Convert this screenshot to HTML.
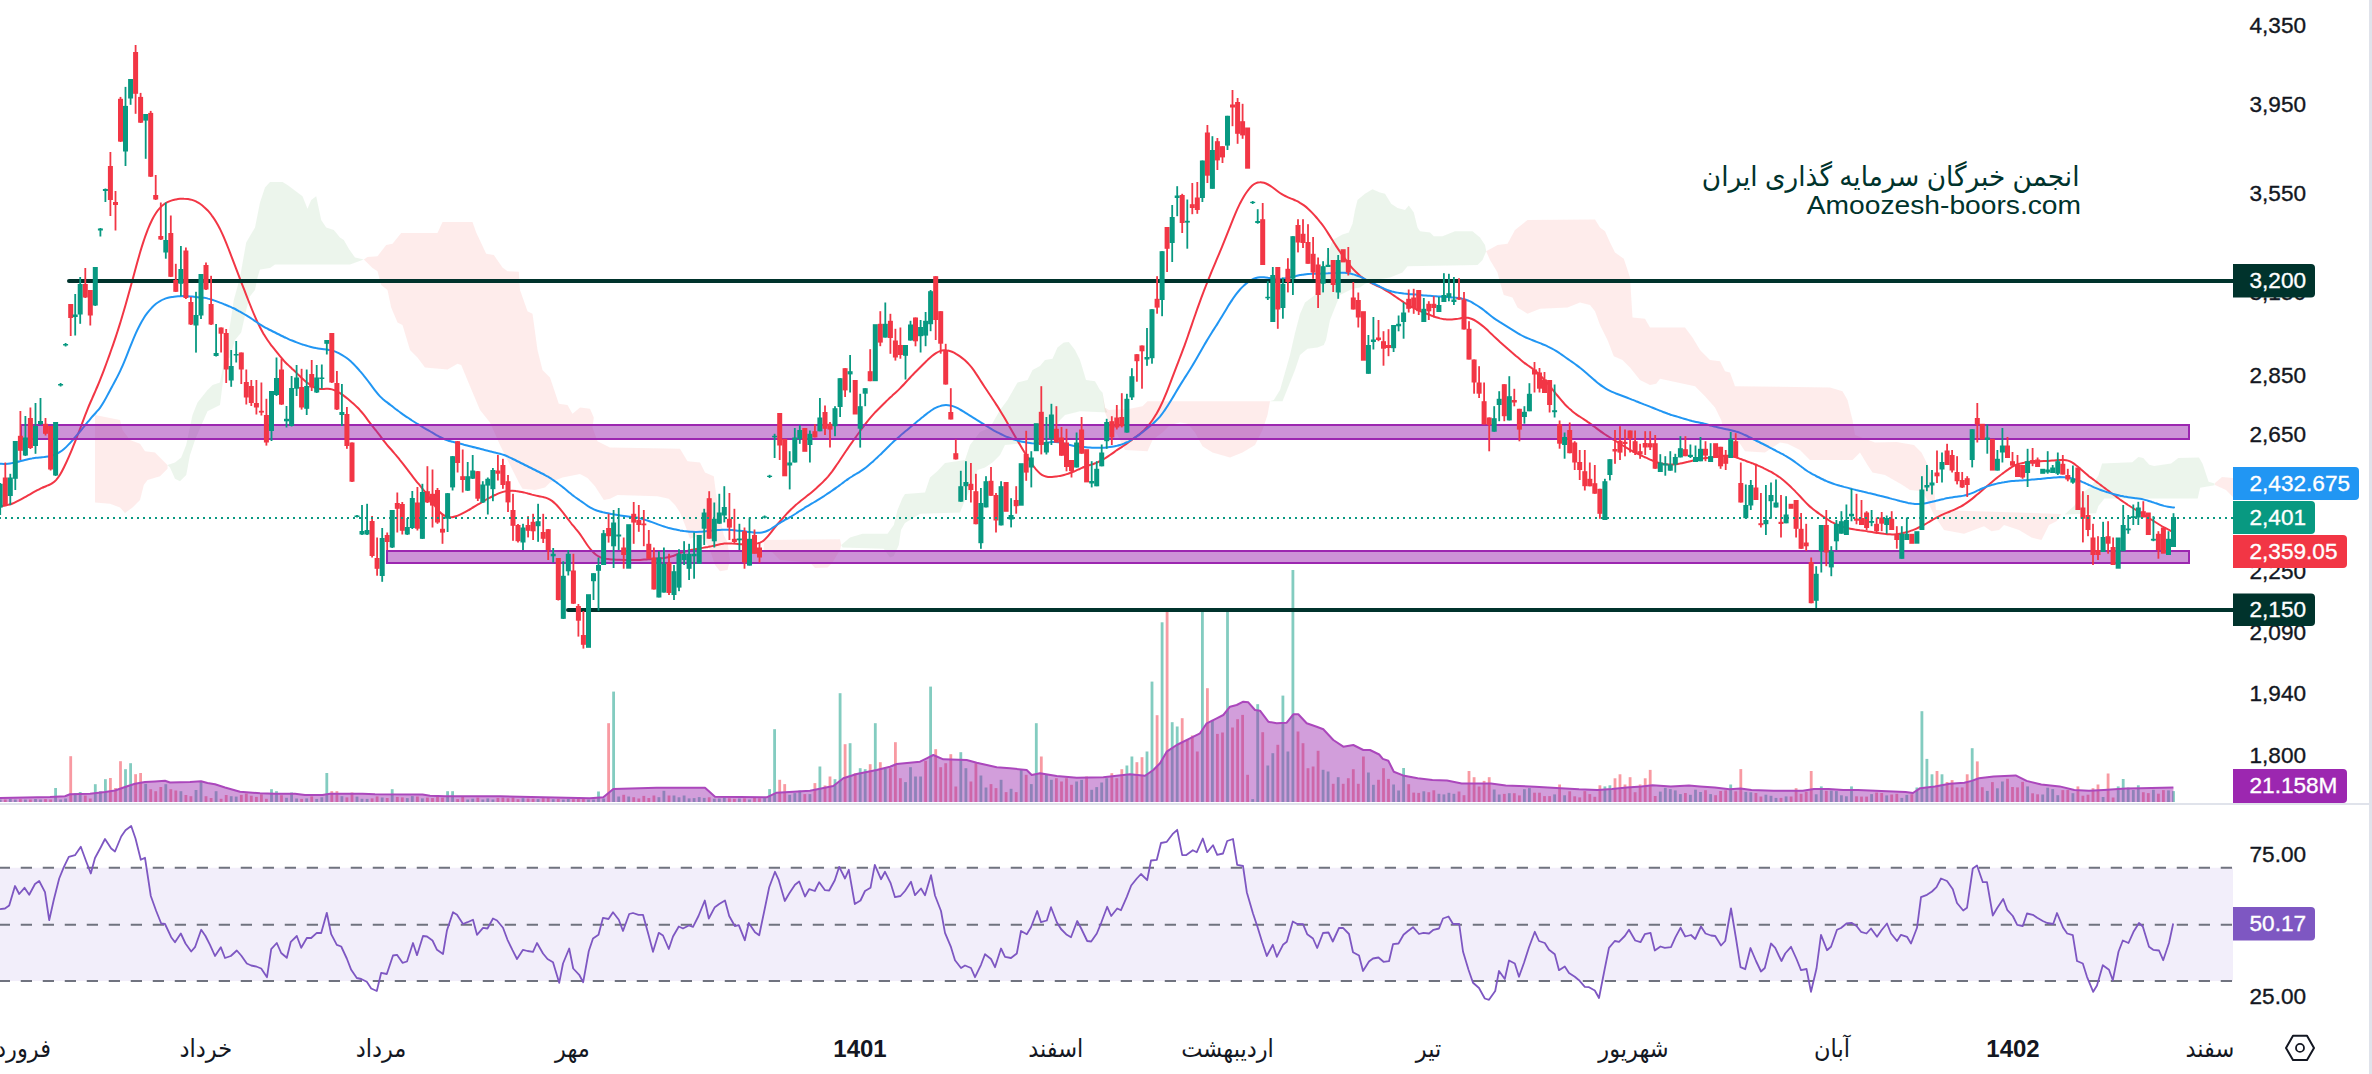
<!DOCTYPE html>
<html lang="en"><head><meta charset="utf-8"><title>chart</title><style>html,body{margin:0;padding:0;background:#fff;overflow:hidden}svg{display:block}</style></head><body>
<svg width="2372" height="1074" viewBox="0 0 2372 1074">
<rect width="2372" height="1074" fill="#fff"/>
<rect x="0" y="867.75" width="2233" height="113.25" fill="#f2eefa"/>
<line x1="-1.25" x2="2233" y1="867.75" y2="867.75" stroke="#70737f" stroke-width="1.8" stroke-dasharray="11.25 10.75"/>
<line x1="-1.25" x2="2233" y1="924.75" y2="924.75" stroke="#70737f" stroke-width="1.8" stroke-dasharray="11.25 10.75"/>
<line x1="-1.25" x2="2233" y1="981" y2="981" stroke="#70737f" stroke-width="1.8" stroke-dasharray="11.25 10.75"/>
<g id="clouds">
<polygon points="95,415 105,417 120,420 122.5,430 130,440 140,443.8 145,451.2 155,452.5 167.5,465 167.5,468.8 160,476.2 147.5,480 143.8,485 140,500 132.5,507.5 125,513 120,507.5 110,503.8 95,502.5" fill="rgba(244,67,54,0.10)"/>
<polygon points="167.5,465 175,462.5 181.2,457.5 186.2,445 192.5,415 197.5,402.5 207.5,390 212.5,385 220,382.5 226.2,350 233.8,300 240,277.5 246.2,242.5 255,227.5 260,202.5 265,187.5 270,182 282.5,182 287.5,185 302.5,196.2 307.5,208.8 311.2,200 316.2,196.2 321.2,220 326.2,227.5 333.8,230 340,237.5 343.8,240 348.8,248.8 355,257.5 363.8,259.5 350,264.5 275,264.5 270,268 260,269.5 257.5,277.5 255,290 250,296.2 246.2,310 241.2,332.5 235,340 230,357.5 225,360 222.5,385 220,405 212.5,408.8 207.5,411.2 202.5,422.5 195,440 190,455 186.2,475 180,481.2 175,478.8 170,467.5" fill="rgba(67,160,71,0.10)"/>
<polygon points="363.8,259.5 367.5,257 377.5,256.2 386.2,245 392.5,243.8 401.2,233 437.5,233 442.5,222 472.5,222 476.2,232.5 486.2,253.8 493.8,255 502.5,267.5 507.5,271.2 518.8,271.8 520,290 527.5,311.2 532.5,313.8 537.5,350 542.5,370 550,377.5 558.8,403.8 567.5,405 572.5,413.8 580,407.5 590,408.8 593.8,417.5 592.5,427.5 597.5,441.2 610,447.5 680,448.8 687.5,461.2 700,462.5 705,472.5 713.8,476.2 716.2,495 720,517.5 723.8,535 727.5,542.5 730,560 727.5,570 720,571.2 715,565 710,550 705,540 697.5,536.2 690,538.8 685,525 680,512.5 675,505 668.8,498.8 657.5,496.2 617.5,495 610,498.8 603.8,500 595,486.2 587.5,478 580,474 562.5,477.5 550,482.5 545,487.5 535,490 522.5,488.8 518.8,482.5 510,465 500,445 490,422.5 480,410 470,386.2 461.2,365 457.5,363.8 447.5,369.5 425,367.5 417.5,357.5 410,350 402.5,325 397.5,322.5 391.2,307.5 387.5,290 381.2,285 377.5,271.2 372.5,268" fill="rgba(244,67,54,0.10)"/>
<polygon points="763.8,540 840,539.2 841.2,545 840,550 832.5,562.5 827.5,567.5 815,568 810,562.5 780,560 772.5,552.5 763.8,550" fill="rgba(244,67,54,0.10)"/>
<polygon points="841.2,545 850,537.5 862.5,533.8 887.5,533.8 893.8,525 897.5,510 902.5,498 905,494 925,492.5 930,477.5 937.5,471 945,463 965,460 970,445 980,432 990,427.5 1000,410 1007.5,400 1017.5,382.5 1027.5,380 1032.5,370 1040,366 1045,360 1052.5,358.8 1057.5,347.5 1063.8,342.5 1068.8,342 1075,350 1080,360 1083.8,372.5 1086,380 1095,381.2 1100,390 1102.5,392.5 1105,407.5 1107.5,412.5 1080,411.2 1065,415 1060,420 1055,430 1047.5,440 1030,442.5 1005,445 1000,455 992.5,462.5 985,467.5 977.5,470 972.5,485 965,500 960,512.5 920,513.8 905,523 901,530 898.8,545 893.8,556 890,557.5 883.8,548.8 842.5,547.5" fill="rgba(67,160,71,0.10)"/>
<polygon points="1102.5,392.5 1105,407.5 1108.8,410 1130,408.8 1142.5,406.2 1147.5,401.2 1270,401.2 1267.5,415 1262.5,430 1255,445 1242.5,452.5 1230,457.5 1212.5,452.5 1202.5,446.2 1195,432.5 1187.5,423.8 1180,422.5 1170,425 1162.5,432.5 1152.5,440 1147.5,451.2 1125,450 1117.5,435 1110,425 1105,412.5" fill="rgba(244,67,54,0.10)"/>
<polygon points="1270,401.2 1273.8,400 1280,390 1285,372.5 1290,355 1295,333 1300,314 1305,302.5 1315,295 1320,280 1327.5,255 1332.5,240 1342.5,234.5 1348.8,232.5 1352.5,223.8 1355,210 1357.5,200 1365,193.8 1372.5,189.2 1380,192.5 1385,193.8 1391.2,203.8 1397.5,208 1405,210 1408.8,205.5 1413.8,212.5 1417.5,227.5 1420,231.2 1430,232.5 1433.8,236.2 1442.5,236.2 1455,231.2 1472.5,231.2 1480,237.5 1485,245 1486.2,251.2 1482.5,260 1477.5,265 1407.5,266.2 1402.5,272.5 1390,277.5 1375,280 1365,283.8 1360,287.5 1352.5,288.8 1340,295 1335,307.5 1330,320 1326,340 1323.8,345 1317.5,347.5 1307.5,348.8 1300,355 1295,370 1290,382.5 1285,395 1282.5,401.2" fill="rgba(67,160,71,0.10)"/>
<polygon points="1486.2,251.2 1497.5,245 1507.5,243.8 1515,230 1527.5,220 1595,219.5 1600,227.5 1605,231.2 1610,242.5 1615,252.5 1623.8,258.8 1630,277.5 1632.5,317.5 1645,318.8 1650,327.5 1685,327.5 1692.5,337.5 1700,350 1710,360 1720,361.2 1725,371.2 1730,372.5 1735,386.2 1830,387.5 1842.5,391.2 1847.5,400 1852.5,420 1855,435 1875,442.5 1896.5,442 1914,445 1921.5,452.5 1929,467.5 1934,485 1936,510 2061.5,514 2056.5,521.2 2049,525 2044,535 2041.5,540 2031.5,537.5 2019,530 2004,525 1999,530 1991.5,531.2 1984,526.2 1974,530 1964,533.8 1944,530 1939,522.5 1934,515 1923,491.2 1910,490 1902.5,485 1885,475 1872.5,472.5 1867.5,465 1860,452.5 1852.5,460 1810,460 1800,450 1787.5,443.8 1780,442.5 1765,452.5 1745,451.2 1740,443.8 1722.5,425 1721.2,420 1715,407.5 1705,396.2 1695,386.2 1660,378.8 1656.2,383.8 1650,385 1640,380 1630,367.5 1622.5,360 1613.8,356.2 1607.5,340 1600,325 1595,311.2 1590,305 1580,302.5 1567.5,307.5 1540,308.8 1527.5,313.8 1517.5,307.5 1512.5,297.5 1503.8,295 1500,282.5 1497.5,272.5 1490,260" fill="rgba(244,67,54,0.10)"/>
<polygon points="2064.5,514.4 2074.2,505.9 2081.5,493.8 2091.2,486.5 2098.4,475.6 2102.1,463.5 2132.3,462.3 2138.4,457 2143.2,458 2149.3,464.7 2154.1,466 2171.1,463.5 2178.3,458 2198.9,457.5 2202.5,463.5 2208.6,481.7 2214.6,483.6 2214.6,485.3 2200.1,487.7 2197.7,498.6 2104.5,498.6 2098.4,505.9 2096,513.2" fill="rgba(67,160,71,0.10)"/>
<polygon points="2215,483 2222,477 2233,478 2233,497 2226,490 2215,485" fill="rgba(244,67,54,0.10)"/>
</g>
<g id="vol">
<rect x="-1.2" y="799.5" width="2.8" height="2.5" fill="rgba(8,153,129,0.5)"/>
<rect x="3.9" y="799.5" width="2.8" height="2.5" fill="rgba(242,54,69,0.5)"/>
<rect x="8.9" y="799" width="2.8" height="3" fill="rgba(8,153,129,0.5)"/>
<rect x="13.9" y="799.5" width="2.8" height="2.5" fill="rgba(8,153,129,0.5)"/>
<rect x="19" y="799.2" width="2.8" height="2.8" fill="rgba(242,54,69,0.5)"/>
<rect x="24" y="799.5" width="2.8" height="2.5" fill="rgba(8,153,129,0.5)"/>
<rect x="29" y="799.5" width="2.8" height="2.5" fill="rgba(242,54,69,0.5)"/>
<rect x="34.1" y="799" width="2.8" height="3" fill="rgba(8,153,129,0.5)"/>
<rect x="39.1" y="799.5" width="2.8" height="2.5" fill="rgba(8,153,129,0.5)"/>
<rect x="44.1" y="799.1" width="2.8" height="2.9" fill="rgba(242,54,69,0.5)"/>
<rect x="49.2" y="799.5" width="2.8" height="2.5" fill="rgba(242,54,69,0.5)"/>
<rect x="54.2" y="788" width="2.8" height="14" fill="rgba(8,153,129,0.5)"/>
<rect x="59.2" y="799.5" width="2.8" height="2.5" fill="rgba(8,153,129,0.5)"/>
<rect x="64.2" y="798.5" width="2.8" height="3.5" fill="rgba(8,153,129,0.5)"/>
<rect x="69.3" y="756.2" width="2.8" height="45.8" fill="rgba(242,54,69,0.5)"/>
<rect x="73.8" y="793.2" width="2.8" height="8.8" fill="rgba(8,153,129,0.5)"/>
<rect x="78.8" y="792" width="2.8" height="10" fill="rgba(8,153,129,0.5)"/>
<rect x="83.9" y="795.5" width="2.8" height="6.5" fill="rgba(242,54,69,0.5)"/>
<rect x="88.9" y="798.5" width="2.8" height="3.5" fill="rgba(242,54,69,0.5)"/>
<rect x="93.9" y="784.2" width="2.8" height="17.8" fill="rgba(8,153,129,0.5)"/>
<rect x="99" y="791.2" width="2.8" height="10.8" fill="rgba(8,153,129,0.5)"/>
<rect x="104" y="779.2" width="2.8" height="22.8" fill="rgba(8,153,129,0.5)"/>
<rect x="109" y="778" width="2.8" height="24" fill="rgba(242,54,69,0.5)"/>
<rect x="114.1" y="788" width="2.8" height="14" fill="rgba(242,54,69,0.5)"/>
<rect x="119.1" y="761.2" width="2.8" height="40.8" fill="rgba(242,54,69,0.5)"/>
<rect x="124.1" y="769.2" width="2.8" height="32.8" fill="rgba(8,153,129,0.5)"/>
<rect x="129.2" y="763.2" width="2.8" height="38.8" fill="rgba(8,153,129,0.5)"/>
<rect x="134.2" y="774.2" width="2.8" height="27.8" fill="rgba(242,54,69,0.5)"/>
<rect x="139.2" y="773" width="2.8" height="29" fill="rgba(242,54,69,0.5)"/>
<rect x="144.3" y="783.8" width="2.8" height="18.2" fill="rgba(8,153,129,0.5)"/>
<rect x="149.3" y="789.2" width="2.8" height="12.8" fill="rgba(242,54,69,0.5)"/>
<rect x="154.3" y="791.2" width="2.8" height="10.8" fill="rgba(242,54,69,0.5)"/>
<rect x="159.4" y="787" width="2.8" height="15" fill="rgba(242,54,69,0.5)"/>
<rect x="164.4" y="784.2" width="2.8" height="17.8" fill="rgba(8,153,129,0.5)"/>
<rect x="169.4" y="789.2" width="2.8" height="12.8" fill="rgba(242,54,69,0.5)"/>
<rect x="174.4" y="790.5" width="2.8" height="11.5" fill="rgba(242,54,69,0.5)"/>
<rect x="179.5" y="791.2" width="2.8" height="10.8" fill="rgba(8,153,129,0.5)"/>
<rect x="184.5" y="795" width="2.8" height="7" fill="rgba(242,54,69,0.5)"/>
<rect x="189.5" y="796.2" width="2.8" height="5.8" fill="rgba(242,54,69,0.5)"/>
<rect x="194.6" y="790" width="2.8" height="12" fill="rgba(8,153,129,0.5)"/>
<rect x="199.6" y="781.2" width="2.8" height="20.8" fill="rgba(8,153,129,0.5)"/>
<rect x="204.6" y="796.2" width="2.8" height="5.8" fill="rgba(242,54,69,0.5)"/>
<rect x="209.7" y="798" width="2.8" height="4" fill="rgba(242,54,69,0.5)"/>
<rect x="214.7" y="791.2" width="2.8" height="10.8" fill="rgba(8,153,129,0.5)"/>
<rect x="219.7" y="798.8" width="2.8" height="3.2" fill="rgba(242,54,69,0.5)"/>
<rect x="224.8" y="795" width="2.8" height="7" fill="rgba(242,54,69,0.5)"/>
<rect x="229.8" y="796.2" width="2.8" height="5.8" fill="rgba(8,153,129,0.5)"/>
<rect x="234.8" y="796.6" width="2.8" height="5.4" fill="rgba(8,153,129,0.5)"/>
<rect x="239.9" y="794.9" width="2.8" height="7.1" fill="rgba(242,54,69,0.5)"/>
<rect x="244.9" y="793.5" width="2.8" height="8.5" fill="rgba(242,54,69,0.5)"/>
<rect x="249.9" y="795.7" width="2.8" height="6.3" fill="rgba(242,54,69,0.5)"/>
<rect x="255" y="796.9" width="2.8" height="5.1" fill="rgba(242,54,69,0.5)"/>
<rect x="260" y="794.3" width="2.8" height="7.7" fill="rgba(242,54,69,0.5)"/>
<rect x="265" y="798.8" width="2.8" height="3.2" fill="rgba(242,54,69,0.5)"/>
<rect x="270.1" y="789.2" width="2.8" height="12.8" fill="rgba(8,153,129,0.5)"/>
<rect x="275.1" y="791.2" width="2.8" height="10.8" fill="rgba(8,153,129,0.5)"/>
<rect x="280.1" y="795.2" width="2.8" height="6.8" fill="rgba(242,54,69,0.5)"/>
<rect x="285.1" y="797.8" width="2.8" height="4.2" fill="rgba(8,153,129,0.5)"/>
<rect x="290.2" y="792.5" width="2.8" height="9.5" fill="rgba(8,153,129,0.5)"/>
<rect x="295.2" y="798.5" width="2.8" height="3.5" fill="rgba(8,153,129,0.5)"/>
<rect x="300.2" y="798.9" width="2.8" height="3.1" fill="rgba(242,54,69,0.5)"/>
<rect x="305.3" y="798.4" width="2.8" height="3.6" fill="rgba(8,153,129,0.5)"/>
<rect x="310.3" y="796.4" width="2.8" height="5.6" fill="rgba(242,54,69,0.5)"/>
<rect x="315.3" y="798.9" width="2.8" height="3.1" fill="rgba(8,153,129,0.5)"/>
<rect x="320.4" y="797.3" width="2.8" height="4.7" fill="rgba(8,153,129,0.5)"/>
<rect x="325.4" y="773" width="2.8" height="29" fill="rgba(8,153,129,0.5)"/>
<rect x="330.4" y="791.2" width="2.8" height="10.8" fill="rgba(242,54,69,0.5)"/>
<rect x="335.5" y="791.2" width="2.8" height="10.8" fill="rgba(242,54,69,0.5)"/>
<rect x="340.5" y="796.2" width="2.8" height="5.8" fill="rgba(8,153,129,0.5)"/>
<rect x="345.5" y="797.4" width="2.8" height="4.6" fill="rgba(242,54,69,0.5)"/>
<rect x="350.6" y="792.5" width="2.8" height="9.5" fill="rgba(242,54,69,0.5)"/>
<rect x="355.6" y="796.6" width="2.8" height="5.4" fill="rgba(8,153,129,0.5)"/>
<rect x="360.6" y="798.8" width="2.8" height="3.2" fill="rgba(8,153,129,0.5)"/>
<rect x="365.7" y="798.9" width="2.8" height="3.1" fill="rgba(8,153,129,0.5)"/>
<rect x="370.7" y="798.4" width="2.8" height="3.6" fill="rgba(242,54,69,0.5)"/>
<rect x="375.7" y="796.4" width="2.8" height="5.6" fill="rgba(242,54,69,0.5)"/>
<rect x="380.8" y="797.5" width="2.8" height="4.5" fill="rgba(8,153,129,0.5)"/>
<rect x="385.8" y="798" width="2.8" height="4" fill="rgba(242,54,69,0.5)"/>
<rect x="390.8" y="789.2" width="2.8" height="12.8" fill="rgba(8,153,129,0.5)"/>
<rect x="395.9" y="796.9" width="2.8" height="5.1" fill="rgba(242,54,69,0.5)"/>
<rect x="400.9" y="797.4" width="2.8" height="4.6" fill="rgba(242,54,69,0.5)"/>
<rect x="405.9" y="798.1" width="2.8" height="3.9" fill="rgba(8,153,129,0.5)"/>
<rect x="410.9" y="796.1" width="2.8" height="5.9" fill="rgba(8,153,129,0.5)"/>
<rect x="416" y="796.5" width="2.8" height="5.5" fill="rgba(242,54,69,0.5)"/>
<rect x="421" y="798.4" width="2.8" height="3.6" fill="rgba(8,153,129,0.5)"/>
<rect x="426" y="797.6" width="2.8" height="4.4" fill="rgba(242,54,69,0.5)"/>
<rect x="431.1" y="798.1" width="2.8" height="3.9" fill="rgba(242,54,69,0.5)"/>
<rect x="436.1" y="797" width="2.8" height="5" fill="rgba(242,54,69,0.5)"/>
<rect x="441.1" y="797.6" width="2.8" height="4.4" fill="rgba(242,54,69,0.5)"/>
<rect x="446.2" y="791.2" width="2.8" height="10.8" fill="rgba(8,153,129,0.5)"/>
<rect x="451.2" y="791.2" width="2.8" height="10.8" fill="rgba(8,153,129,0.5)"/>
<rect x="456.2" y="799.1" width="2.8" height="2.9" fill="rgba(242,54,69,0.5)"/>
<rect x="461.3" y="796.9" width="2.8" height="5.1" fill="rgba(242,54,69,0.5)"/>
<rect x="466.3" y="799.5" width="2.8" height="2.5" fill="rgba(8,153,129,0.5)"/>
<rect x="471.3" y="798.7" width="2.8" height="3.3" fill="rgba(8,153,129,0.5)"/>
<rect x="476.4" y="797.6" width="2.8" height="4.4" fill="rgba(242,54,69,0.5)"/>
<rect x="481.4" y="799.5" width="2.8" height="2.5" fill="rgba(8,153,129,0.5)"/>
<rect x="486.4" y="798.4" width="2.8" height="3.6" fill="rgba(8,153,129,0.5)"/>
<rect x="491.5" y="799.5" width="2.8" height="2.5" fill="rgba(8,153,129,0.5)"/>
<rect x="496.5" y="797.9" width="2.8" height="4.1" fill="rgba(242,54,69,0.5)"/>
<rect x="501.5" y="797.6" width="2.8" height="4.4" fill="rgba(242,54,69,0.5)"/>
<rect x="506.6" y="798.3" width="2.8" height="3.7" fill="rgba(242,54,69,0.5)"/>
<rect x="511.6" y="797.5" width="2.8" height="4.5" fill="rgba(242,54,69,0.5)"/>
<rect x="516.6" y="799.2" width="2.8" height="2.8" fill="rgba(242,54,69,0.5)"/>
<rect x="521.6" y="798.2" width="2.8" height="3.8" fill="rgba(8,153,129,0.5)"/>
<rect x="526.7" y="798.5" width="2.8" height="3.5" fill="rgba(242,54,69,0.5)"/>
<rect x="531.7" y="798.7" width="2.8" height="3.3" fill="rgba(242,54,69,0.5)"/>
<rect x="536.7" y="799.1" width="2.8" height="2.9" fill="rgba(8,153,129,0.5)"/>
<rect x="541.8" y="798.1" width="2.8" height="3.9" fill="rgba(242,54,69,0.5)"/>
<rect x="546.8" y="798" width="2.8" height="4" fill="rgba(242,54,69,0.5)"/>
<rect x="551.8" y="799.2" width="2.8" height="2.8" fill="rgba(8,153,129,0.5)"/>
<rect x="556.9" y="798.8" width="2.8" height="3.2" fill="rgba(242,54,69,0.5)"/>
<rect x="561.9" y="799.5" width="2.8" height="2.5" fill="rgba(8,153,129,0.5)"/>
<rect x="566.9" y="798.9" width="2.8" height="3.1" fill="rgba(8,153,129,0.5)"/>
<rect x="572" y="799.1" width="2.8" height="2.9" fill="rgba(242,54,69,0.5)"/>
<rect x="577" y="798.4" width="2.8" height="3.6" fill="rgba(242,54,69,0.5)"/>
<rect x="582" y="798.9" width="2.8" height="3.1" fill="rgba(242,54,69,0.5)"/>
<rect x="587.1" y="799.5" width="2.8" height="2.5" fill="rgba(8,153,129,0.5)"/>
<rect x="592.1" y="799.5" width="2.8" height="2.5" fill="rgba(8,153,129,0.5)"/>
<rect x="597.1" y="791.5" width="2.8" height="10.5" fill="rgba(8,153,129,0.5)"/>
<rect x="602.2" y="798.5" width="2.8" height="3.5" fill="rgba(8,153,129,0.5)"/>
<rect x="607.2" y="723.2" width="2.8" height="78.8" fill="rgba(242,54,69,0.5)"/>
<rect x="612.2" y="691.6" width="2.8" height="110.4" fill="rgba(8,153,129,0.5)"/>
<rect x="617.3" y="796.5" width="2.8" height="5.5" fill="rgba(8,153,129,0.5)"/>
<rect x="622.3" y="794.8" width="2.8" height="7.2" fill="rgba(242,54,69,0.5)"/>
<rect x="627.3" y="796.5" width="2.8" height="5.5" fill="rgba(8,153,129,0.5)"/>
<rect x="632.3" y="797.2" width="2.8" height="4.8" fill="rgba(242,54,69,0.5)"/>
<rect x="637.4" y="798.5" width="2.8" height="3.5" fill="rgba(242,54,69,0.5)"/>
<rect x="642.4" y="795.9" width="2.8" height="6.1" fill="rgba(242,54,69,0.5)"/>
<rect x="647.4" y="798" width="2.8" height="4" fill="rgba(242,54,69,0.5)"/>
<rect x="652.5" y="795.5" width="2.8" height="6.5" fill="rgba(242,54,69,0.5)"/>
<rect x="657.5" y="797.2" width="2.8" height="4.8" fill="rgba(8,153,129,0.5)"/>
<rect x="662.5" y="790.8" width="2.8" height="11.2" fill="rgba(8,153,129,0.5)"/>
<rect x="667.6" y="795.5" width="2.8" height="6.5" fill="rgba(242,54,69,0.5)"/>
<rect x="672.6" y="795.5" width="2.8" height="6.5" fill="rgba(8,153,129,0.5)"/>
<rect x="677.6" y="797.3" width="2.8" height="4.7" fill="rgba(8,153,129,0.5)"/>
<rect x="682.7" y="795.5" width="2.8" height="6.5" fill="rgba(8,153,129,0.5)"/>
<rect x="687.7" y="798.4" width="2.8" height="3.6" fill="rgba(8,153,129,0.5)"/>
<rect x="692.7" y="798.1" width="2.8" height="3.9" fill="rgba(8,153,129,0.5)"/>
<rect x="697.8" y="797.1" width="2.8" height="4.9" fill="rgba(8,153,129,0.5)"/>
<rect x="702.8" y="797.9" width="2.8" height="4.1" fill="rgba(8,153,129,0.5)"/>
<rect x="707.8" y="797.3" width="2.8" height="4.7" fill="rgba(242,54,69,0.5)"/>
<rect x="712.9" y="798.7" width="2.8" height="3.3" fill="rgba(8,153,129,0.5)"/>
<rect x="717.9" y="798.5" width="2.8" height="3.5" fill="rgba(8,153,129,0.5)"/>
<rect x="722.9" y="797.5" width="2.8" height="4.5" fill="rgba(8,153,129,0.5)"/>
<rect x="728" y="798.3" width="2.8" height="3.7" fill="rgba(242,54,69,0.5)"/>
<rect x="733" y="798.8" width="2.8" height="3.2" fill="rgba(242,54,69,0.5)"/>
<rect x="738" y="798.5" width="2.8" height="3.5" fill="rgba(8,153,129,0.5)"/>
<rect x="743.1" y="798.4" width="2.8" height="3.6" fill="rgba(242,54,69,0.5)"/>
<rect x="748.1" y="799.5" width="2.8" height="2.5" fill="rgba(8,153,129,0.5)"/>
<rect x="753.1" y="797.9" width="2.8" height="4.1" fill="rgba(242,54,69,0.5)"/>
<rect x="758.1" y="798.3" width="2.8" height="3.7" fill="rgba(242,54,69,0.5)"/>
<rect x="763.2" y="798.1" width="2.8" height="3.9" fill="rgba(8,153,129,0.5)"/>
<rect x="768.2" y="789.1" width="2.8" height="12.9" fill="rgba(8,153,129,0.5)"/>
<rect x="773.2" y="729.2" width="2.8" height="72.8" fill="rgba(8,153,129,0.5)"/>
<rect x="778.3" y="779.8" width="2.8" height="22.2" fill="rgba(242,54,69,0.5)"/>
<rect x="783.3" y="784.1" width="2.8" height="17.9" fill="rgba(242,54,69,0.5)"/>
<rect x="788.3" y="794.8" width="2.8" height="7.2" fill="rgba(8,153,129,0.5)"/>
<rect x="793.4" y="793.1" width="2.8" height="8.9" fill="rgba(8,153,129,0.5)"/>
<rect x="798.4" y="790.5" width="2.8" height="11.5" fill="rgba(8,153,129,0.5)"/>
<rect x="803.4" y="794.1" width="2.8" height="7.9" fill="rgba(242,54,69,0.5)"/>
<rect x="808.5" y="794.1" width="2.8" height="7.9" fill="rgba(8,153,129,0.5)"/>
<rect x="813.5" y="783.1" width="2.8" height="18.9" fill="rgba(242,54,69,0.5)"/>
<rect x="818.5" y="766.5" width="2.8" height="35.5" fill="rgba(8,153,129,0.5)"/>
<rect x="823.6" y="785.5" width="2.8" height="16.5" fill="rgba(242,54,69,0.5)"/>
<rect x="828.6" y="776.5" width="2.8" height="25.5" fill="rgba(242,54,69,0.5)"/>
<rect x="833.6" y="779.2" width="2.8" height="22.8" fill="rgba(8,153,129,0.5)"/>
<rect x="838.7" y="693.2" width="2.8" height="108.8" fill="rgba(8,153,129,0.5)"/>
<rect x="843.7" y="744.2" width="2.8" height="57.8" fill="rgba(242,54,69,0.5)"/>
<rect x="848.7" y="743.2" width="2.8" height="58.8" fill="rgba(8,153,129,0.5)"/>
<rect x="853.8" y="773.2" width="2.8" height="28.8" fill="rgba(242,54,69,0.5)"/>
<rect x="858.8" y="768.2" width="2.8" height="33.8" fill="rgba(8,153,129,0.5)"/>
<rect x="863.8" y="769.2" width="2.8" height="32.8" fill="rgba(8,153,129,0.5)"/>
<rect x="868.8" y="764.2" width="2.8" height="37.8" fill="rgba(242,54,69,0.5)"/>
<rect x="873.9" y="723.2" width="2.8" height="78.8" fill="rgba(8,153,129,0.5)"/>
<rect x="878.9" y="762.2" width="2.8" height="39.8" fill="rgba(242,54,69,0.5)"/>
<rect x="883.9" y="768.8" width="2.8" height="33.2" fill="rgba(8,153,129,0.5)"/>
<rect x="889" y="768.2" width="2.8" height="33.8" fill="rgba(242,54,69,0.5)"/>
<rect x="894" y="742.2" width="2.8" height="59.8" fill="rgba(242,54,69,0.5)"/>
<rect x="899" y="778.2" width="2.8" height="23.8" fill="rgba(242,54,69,0.5)"/>
<rect x="904.1" y="782.1" width="2.8" height="19.9" fill="rgba(8,153,129,0.5)"/>
<rect x="909.1" y="767.2" width="2.8" height="34.8" fill="rgba(8,153,129,0.5)"/>
<rect x="914.1" y="776.5" width="2.8" height="25.5" fill="rgba(8,153,129,0.5)"/>
<rect x="919.2" y="776.5" width="2.8" height="25.5" fill="rgba(8,153,129,0.5)"/>
<rect x="924.2" y="760.8" width="2.8" height="41.2" fill="rgba(242,54,69,0.5)"/>
<rect x="929.2" y="686.6" width="2.8" height="115.4" fill="rgba(8,153,129,0.5)"/>
<rect x="934.3" y="749.2" width="2.8" height="52.8" fill="rgba(242,54,69,0.5)"/>
<rect x="939.3" y="767.2" width="2.8" height="34.8" fill="rgba(242,54,69,0.5)"/>
<rect x="944.3" y="763.2" width="2.8" height="38.8" fill="rgba(242,54,69,0.5)"/>
<rect x="949.4" y="754.2" width="2.8" height="47.8" fill="rgba(242,54,69,0.5)"/>
<rect x="954.4" y="786.5" width="2.8" height="15.5" fill="rgba(242,54,69,0.5)"/>
<rect x="959.4" y="752.2" width="2.8" height="49.8" fill="rgba(8,153,129,0.5)"/>
<rect x="964.5" y="768.2" width="2.8" height="33.8" fill="rgba(8,153,129,0.5)"/>
<rect x="969.5" y="781.5" width="2.8" height="20.5" fill="rgba(242,54,69,0.5)"/>
<rect x="974.5" y="763.2" width="2.8" height="38.8" fill="rgba(242,54,69,0.5)"/>
<rect x="979.5" y="775.5" width="2.8" height="26.5" fill="rgba(8,153,129,0.5)"/>
<rect x="984.6" y="787.5" width="2.8" height="14.5" fill="rgba(8,153,129,0.5)"/>
<rect x="989.6" y="784.1" width="2.8" height="17.9" fill="rgba(242,54,69,0.5)"/>
<rect x="994.6" y="788.1" width="2.8" height="13.9" fill="rgba(242,54,69,0.5)"/>
<rect x="999.7" y="779.8" width="2.8" height="22.2" fill="rgba(8,153,129,0.5)"/>
<rect x="1004.7" y="792.1" width="2.8" height="9.9" fill="rgba(242,54,69,0.5)"/>
<rect x="1009.7" y="788.8" width="2.8" height="13.2" fill="rgba(8,153,129,0.5)"/>
<rect x="1014.8" y="792.1" width="2.8" height="9.9" fill="rgba(242,54,69,0.5)"/>
<rect x="1019.8" y="769.8" width="2.8" height="32.2" fill="rgba(8,153,129,0.5)"/>
<rect x="1024.8" y="774.8" width="2.8" height="27.2" fill="rgba(242,54,69,0.5)"/>
<rect x="1029.9" y="784.1" width="2.8" height="17.9" fill="rgba(8,153,129,0.5)"/>
<rect x="1034.9" y="723.2" width="2.8" height="78.8" fill="rgba(8,153,129,0.5)"/>
<rect x="1039.9" y="756.5" width="2.8" height="45.5" fill="rgba(242,54,69,0.5)"/>
<rect x="1045" y="774.2" width="2.8" height="27.8" fill="rgba(8,153,129,0.5)"/>
<rect x="1050" y="779.8" width="2.8" height="22.2" fill="rgba(8,153,129,0.5)"/>
<rect x="1055" y="778.2" width="2.8" height="23.8" fill="rgba(242,54,69,0.5)"/>
<rect x="1060.1" y="781.5" width="2.8" height="20.5" fill="rgba(242,54,69,0.5)"/>
<rect x="1065.1" y="778.2" width="2.8" height="23.8" fill="rgba(242,54,69,0.5)"/>
<rect x="1070.1" y="784.8" width="2.8" height="17.2" fill="rgba(242,54,69,0.5)"/>
<rect x="1075.2" y="781.5" width="2.8" height="20.5" fill="rgba(8,153,129,0.5)"/>
<rect x="1080.2" y="779.8" width="2.8" height="22.2" fill="rgba(8,153,129,0.5)"/>
<rect x="1085.2" y="776.5" width="2.8" height="25.5" fill="rgba(242,54,69,0.5)"/>
<rect x="1090.3" y="789.8" width="2.8" height="12.2" fill="rgba(8,153,129,0.5)"/>
<rect x="1095.3" y="787.1" width="2.8" height="14.9" fill="rgba(8,153,129,0.5)"/>
<rect x="1100.3" y="782.5" width="2.8" height="19.5" fill="rgba(8,153,129,0.5)"/>
<rect x="1105.3" y="778.2" width="2.8" height="23.8" fill="rgba(8,153,129,0.5)"/>
<rect x="1110.4" y="773.2" width="2.8" height="28.8" fill="rgba(242,54,69,0.5)"/>
<rect x="1115.4" y="778.2" width="2.8" height="23.8" fill="rgba(242,54,69,0.5)"/>
<rect x="1120.4" y="769.2" width="2.8" height="32.8" fill="rgba(242,54,69,0.5)"/>
<rect x="1125.5" y="765.5" width="2.8" height="36.5" fill="rgba(8,153,129,0.5)"/>
<rect x="1130.5" y="756.5" width="2.8" height="45.5" fill="rgba(8,153,129,0.5)"/>
<rect x="1135.5" y="762.2" width="2.8" height="39.8" fill="rgba(242,54,69,0.5)"/>
<rect x="1140.6" y="757.2" width="2.8" height="44.8" fill="rgba(242,54,69,0.5)"/>
<rect x="1145.6" y="751.5" width="2.8" height="50.5" fill="rgba(8,153,129,0.5)"/>
<rect x="1150.6" y="681.6" width="2.8" height="120.4" fill="rgba(8,153,129,0.5)"/>
<rect x="1155.7" y="715.2" width="2.8" height="86.8" fill="rgba(242,54,69,0.5)"/>
<rect x="1160.7" y="622.3" width="2.8" height="179.7" fill="rgba(8,153,129,0.5)"/>
<rect x="1165.7" y="609.3" width="2.8" height="192.7" fill="rgba(242,54,69,0.5)"/>
<rect x="1170.8" y="722.2" width="2.8" height="79.8" fill="rgba(8,153,129,0.5)"/>
<rect x="1175.8" y="726.5" width="2.8" height="75.5" fill="rgba(8,153,129,0.5)"/>
<rect x="1180.8" y="718.2" width="2.8" height="83.8" fill="rgba(242,54,69,0.5)"/>
<rect x="1185.9" y="739.9" width="2.8" height="62.1" fill="rgba(242,54,69,0.5)"/>
<rect x="1190.9" y="735.5" width="2.8" height="66.5" fill="rgba(242,54,69,0.5)"/>
<rect x="1195.9" y="751.5" width="2.8" height="50.5" fill="rgba(242,54,69,0.5)"/>
<rect x="1201" y="609.3" width="2.8" height="192.7" fill="rgba(8,153,129,0.5)"/>
<rect x="1206" y="688.2" width="2.8" height="113.8" fill="rgba(242,54,69,0.5)"/>
<rect x="1211" y="719.9" width="2.8" height="82.1" fill="rgba(8,153,129,0.5)"/>
<rect x="1216" y="733.9" width="2.8" height="68.1" fill="rgba(242,54,69,0.5)"/>
<rect x="1221.1" y="732.5" width="2.8" height="69.5" fill="rgba(242,54,69,0.5)"/>
<rect x="1226.1" y="611.6" width="2.8" height="190.4" fill="rgba(8,153,129,0.5)"/>
<rect x="1231.1" y="727.5" width="2.8" height="74.5" fill="rgba(242,54,69,0.5)"/>
<rect x="1236.2" y="719.2" width="2.8" height="82.8" fill="rgba(242,54,69,0.5)"/>
<rect x="1241.2" y="714.9" width="2.8" height="87.1" fill="rgba(242,54,69,0.5)"/>
<rect x="1246.2" y="774.8" width="2.8" height="27.2" fill="rgba(242,54,69,0.5)"/>
<rect x="1251.3" y="799.1" width="2.8" height="2.9" fill="rgba(8,153,129,0.5)"/>
<rect x="1256.3" y="704.2" width="2.8" height="97.8" fill="rgba(8,153,129,0.5)"/>
<rect x="1261.3" y="732.2" width="2.8" height="69.8" fill="rgba(242,54,69,0.5)"/>
<rect x="1266.4" y="765.5" width="2.8" height="36.5" fill="rgba(8,153,129,0.5)"/>
<rect x="1271.4" y="753.2" width="2.8" height="48.8" fill="rgba(8,153,129,0.5)"/>
<rect x="1276.4" y="744.8" width="2.8" height="57.2" fill="rgba(242,54,69,0.5)"/>
<rect x="1281.5" y="695.6" width="2.8" height="106.4" fill="rgba(8,153,129,0.5)"/>
<rect x="1286.5" y="751.5" width="2.8" height="50.5" fill="rgba(8,153,129,0.5)"/>
<rect x="1291.5" y="570" width="2.8" height="232" fill="rgba(8,153,129,0.5)"/>
<rect x="1296.6" y="731.5" width="2.8" height="70.5" fill="rgba(242,54,69,0.5)"/>
<rect x="1301.6" y="743.2" width="2.8" height="58.8" fill="rgba(242,54,69,0.5)"/>
<rect x="1306.6" y="768.2" width="2.8" height="33.8" fill="rgba(242,54,69,0.5)"/>
<rect x="1311.7" y="766.5" width="2.8" height="35.5" fill="rgba(242,54,69,0.5)"/>
<rect x="1316.7" y="750.8" width="2.8" height="51.2" fill="rgba(242,54,69,0.5)"/>
<rect x="1321.7" y="769.8" width="2.8" height="32.2" fill="rgba(8,153,129,0.5)"/>
<rect x="1326.7" y="771.5" width="2.8" height="30.5" fill="rgba(8,153,129,0.5)"/>
<rect x="1331.8" y="783.8" width="2.8" height="18.2" fill="rgba(242,54,69,0.5)"/>
<rect x="1336.8" y="777.2" width="2.8" height="24.8" fill="rgba(8,153,129,0.5)"/>
<rect x="1341.8" y="783.8" width="2.8" height="18.2" fill="rgba(242,54,69,0.5)"/>
<rect x="1346.9" y="778.2" width="2.8" height="23.8" fill="rgba(242,54,69,0.5)"/>
<rect x="1351.9" y="769.2" width="2.8" height="32.8" fill="rgba(242,54,69,0.5)"/>
<rect x="1356.9" y="783.8" width="2.8" height="18.2" fill="rgba(242,54,69,0.5)"/>
<rect x="1362" y="756.5" width="2.8" height="45.5" fill="rgba(242,54,69,0.5)"/>
<rect x="1367" y="772.5" width="2.8" height="29.5" fill="rgba(8,153,129,0.5)"/>
<rect x="1372" y="784.8" width="2.8" height="17.2" fill="rgba(8,153,129,0.5)"/>
<rect x="1377.1" y="779.8" width="2.8" height="22.2" fill="rgba(242,54,69,0.5)"/>
<rect x="1382.1" y="768.2" width="2.8" height="33.8" fill="rgba(242,54,69,0.5)"/>
<rect x="1387.1" y="778.9" width="2.8" height="23.1" fill="rgba(242,54,69,0.5)"/>
<rect x="1392.2" y="784.5" width="2.8" height="17.5" fill="rgba(8,153,129,0.5)"/>
<rect x="1397.2" y="790.5" width="2.8" height="11.5" fill="rgba(8,153,129,0.5)"/>
<rect x="1402.2" y="768" width="2.8" height="34" fill="rgba(8,153,129,0.5)"/>
<rect x="1407.3" y="784.2" width="2.8" height="17.8" fill="rgba(242,54,69,0.5)"/>
<rect x="1412.3" y="792.6" width="2.8" height="9.4" fill="rgba(242,54,69,0.5)"/>
<rect x="1417.3" y="792.9" width="2.8" height="9.1" fill="rgba(242,54,69,0.5)"/>
<rect x="1422.4" y="791.3" width="2.8" height="10.7" fill="rgba(8,153,129,0.5)"/>
<rect x="1427.4" y="792.2" width="2.8" height="9.8" fill="rgba(242,54,69,0.5)"/>
<rect x="1432.4" y="790.3" width="2.8" height="11.7" fill="rgba(242,54,69,0.5)"/>
<rect x="1437.5" y="793.8" width="2.8" height="8.2" fill="rgba(8,153,129,0.5)"/>
<rect x="1442.5" y="794.4" width="2.8" height="7.6" fill="rgba(8,153,129,0.5)"/>
<rect x="1447.5" y="792.8" width="2.8" height="9.2" fill="rgba(8,153,129,0.5)"/>
<rect x="1452.5" y="793.8" width="2.8" height="8.2" fill="rgba(8,153,129,0.5)"/>
<rect x="1457.6" y="791.5" width="2.8" height="10.5" fill="rgba(242,54,69,0.5)"/>
<rect x="1462.6" y="795.2" width="2.8" height="6.8" fill="rgba(242,54,69,0.5)"/>
<rect x="1467.6" y="771" width="2.8" height="31" fill="rgba(242,54,69,0.5)"/>
<rect x="1472.7" y="777.2" width="2.8" height="24.8" fill="rgba(242,54,69,0.5)"/>
<rect x="1477.7" y="786.5" width="2.8" height="15.5" fill="rgba(242,54,69,0.5)"/>
<rect x="1482.7" y="780.9" width="2.8" height="21.1" fill="rgba(242,54,69,0.5)"/>
<rect x="1487.8" y="777.2" width="2.8" height="24.8" fill="rgba(242,54,69,0.5)"/>
<rect x="1492.8" y="789.5" width="2.8" height="12.5" fill="rgba(8,153,129,0.5)"/>
<rect x="1497.8" y="794.5" width="2.8" height="7.5" fill="rgba(8,153,129,0.5)"/>
<rect x="1502.9" y="793.9" width="2.8" height="8.1" fill="rgba(242,54,69,0.5)"/>
<rect x="1507.9" y="793.2" width="2.8" height="8.8" fill="rgba(8,153,129,0.5)"/>
<rect x="1512.9" y="793.2" width="2.8" height="8.8" fill="rgba(242,54,69,0.5)"/>
<rect x="1518" y="795.4" width="2.8" height="6.6" fill="rgba(242,54,69,0.5)"/>
<rect x="1523" y="789.2" width="2.8" height="12.8" fill="rgba(8,153,129,0.5)"/>
<rect x="1528" y="788.1" width="2.8" height="13.9" fill="rgba(8,153,129,0.5)"/>
<rect x="1533.1" y="792.7" width="2.8" height="9.3" fill="rgba(242,54,69,0.5)"/>
<rect x="1538.1" y="792.7" width="2.8" height="9.3" fill="rgba(242,54,69,0.5)"/>
<rect x="1543.1" y="796.1" width="2.8" height="5.9" fill="rgba(242,54,69,0.5)"/>
<rect x="1548.2" y="796.1" width="2.8" height="5.9" fill="rgba(242,54,69,0.5)"/>
<rect x="1553.2" y="794.4" width="2.8" height="7.6" fill="rgba(8,153,129,0.5)"/>
<rect x="1558.2" y="784.5" width="2.8" height="17.5" fill="rgba(242,54,69,0.5)"/>
<rect x="1563.2" y="795.3" width="2.8" height="6.7" fill="rgba(8,153,129,0.5)"/>
<rect x="1568.3" y="791.3" width="2.8" height="10.7" fill="rgba(242,54,69,0.5)"/>
<rect x="1573.3" y="796.3" width="2.8" height="5.7" fill="rgba(242,54,69,0.5)"/>
<rect x="1578.3" y="797.4" width="2.8" height="4.6" fill="rgba(242,54,69,0.5)"/>
<rect x="1583.4" y="791.1" width="2.8" height="10.9" fill="rgba(242,54,69,0.5)"/>
<rect x="1588.4" y="794.1" width="2.8" height="7.9" fill="rgba(242,54,69,0.5)"/>
<rect x="1593.4" y="796.8" width="2.8" height="5.2" fill="rgba(242,54,69,0.5)"/>
<rect x="1598.5" y="785.3" width="2.8" height="16.7" fill="rgba(242,54,69,0.5)"/>
<rect x="1603.5" y="786.4" width="2.8" height="15.6" fill="rgba(8,153,129,0.5)"/>
<rect x="1608.5" y="785.3" width="2.8" height="16.7" fill="rgba(8,153,129,0.5)"/>
<rect x="1613.6" y="778.3" width="2.8" height="23.7" fill="rgba(242,54,69,0.5)"/>
<rect x="1618.6" y="774.3" width="2.8" height="27.7" fill="rgba(242,54,69,0.5)"/>
<rect x="1623.6" y="784.5" width="2.8" height="17.5" fill="rgba(242,54,69,0.5)"/>
<rect x="1628.7" y="777.2" width="2.8" height="24.8" fill="rgba(242,54,69,0.5)"/>
<rect x="1633.7" y="792.2" width="2.8" height="9.8" fill="rgba(242,54,69,0.5)"/>
<rect x="1638.7" y="784.5" width="2.8" height="17.5" fill="rgba(242,54,69,0.5)"/>
<rect x="1643.8" y="778.3" width="2.8" height="23.7" fill="rgba(242,54,69,0.5)"/>
<rect x="1648.8" y="769.9" width="2.8" height="32.1" fill="rgba(242,54,69,0.5)"/>
<rect x="1653.8" y="796" width="2.8" height="6" fill="rgba(242,54,69,0.5)"/>
<rect x="1658.9" y="791.6" width="2.8" height="10.4" fill="rgba(8,153,129,0.5)"/>
<rect x="1663.9" y="787.9" width="2.8" height="14.1" fill="rgba(8,153,129,0.5)"/>
<rect x="1668.9" y="789.1" width="2.8" height="12.9" fill="rgba(8,153,129,0.5)"/>
<rect x="1673.9" y="790.4" width="2.8" height="11.6" fill="rgba(8,153,129,0.5)"/>
<rect x="1679" y="794.1" width="2.8" height="7.9" fill="rgba(8,153,129,0.5)"/>
<rect x="1684" y="793" width="2.8" height="9" fill="rgba(242,54,69,0.5)"/>
<rect x="1689" y="794.8" width="2.8" height="7.2" fill="rgba(8,153,129,0.5)"/>
<rect x="1694.1" y="789.7" width="2.8" height="12.3" fill="rgba(8,153,129,0.5)"/>
<rect x="1699.1" y="792" width="2.8" height="10" fill="rgba(8,153,129,0.5)"/>
<rect x="1704.1" y="790.2" width="2.8" height="11.8" fill="rgba(242,54,69,0.5)"/>
<rect x="1709.2" y="794.1" width="2.8" height="7.9" fill="rgba(8,153,129,0.5)"/>
<rect x="1714.2" y="795.2" width="2.8" height="6.8" fill="rgba(242,54,69,0.5)"/>
<rect x="1719.2" y="791" width="2.8" height="11" fill="rgba(242,54,69,0.5)"/>
<rect x="1724.3" y="790.3" width="2.8" height="11.7" fill="rgba(242,54,69,0.5)"/>
<rect x="1729.3" y="784.5" width="2.8" height="17.5" fill="rgba(8,153,129,0.5)"/>
<rect x="1734.3" y="791.3" width="2.8" height="10.7" fill="rgba(242,54,69,0.5)"/>
<rect x="1739.4" y="769.1" width="2.8" height="32.9" fill="rgba(242,54,69,0.5)"/>
<rect x="1744.4" y="791.9" width="2.8" height="10.1" fill="rgba(8,153,129,0.5)"/>
<rect x="1749.4" y="792.3" width="2.8" height="9.7" fill="rgba(8,153,129,0.5)"/>
<rect x="1754.5" y="793" width="2.8" height="9" fill="rgba(242,54,69,0.5)"/>
<rect x="1759.5" y="796.5" width="2.8" height="5.5" fill="rgba(242,54,69,0.5)"/>
<rect x="1764.5" y="794.7" width="2.8" height="7.3" fill="rgba(8,153,129,0.5)"/>
<rect x="1769.6" y="795.8" width="2.8" height="6.2" fill="rgba(8,153,129,0.5)"/>
<rect x="1774.6" y="797.9" width="2.8" height="4.1" fill="rgba(8,153,129,0.5)"/>
<rect x="1779.6" y="797.9" width="2.8" height="4.1" fill="rgba(242,54,69,0.5)"/>
<rect x="1784.7" y="796.4" width="2.8" height="5.6" fill="rgba(8,153,129,0.5)"/>
<rect x="1789.7" y="796.5" width="2.8" height="5.5" fill="rgba(242,54,69,0.5)"/>
<rect x="1794.7" y="788.2" width="2.8" height="13.8" fill="rgba(242,54,69,0.5)"/>
<rect x="1799.7" y="793.8" width="2.8" height="8.2" fill="rgba(242,54,69,0.5)"/>
<rect x="1804.8" y="791.7" width="2.8" height="10.3" fill="rgba(242,54,69,0.5)"/>
<rect x="1809.8" y="771" width="2.8" height="31" fill="rgba(242,54,69,0.5)"/>
<rect x="1814.8" y="794.3" width="2.8" height="7.7" fill="rgba(8,153,129,0.5)"/>
<rect x="1819.9" y="786.4" width="2.8" height="15.6" fill="rgba(8,153,129,0.5)"/>
<rect x="1824.9" y="790.8" width="2.8" height="11.2" fill="rgba(242,54,69,0.5)"/>
<rect x="1829.9" y="790.6" width="2.8" height="11.4" fill="rgba(8,153,129,0.5)"/>
<rect x="1835" y="791.1" width="2.8" height="10.9" fill="rgba(8,153,129,0.5)"/>
<rect x="1840" y="795.3" width="2.8" height="6.7" fill="rgba(8,153,129,0.5)"/>
<rect x="1845" y="796.3" width="2.8" height="5.7" fill="rgba(8,153,129,0.5)"/>
<rect x="1850.1" y="786.4" width="2.8" height="15.6" fill="rgba(8,153,129,0.5)"/>
<rect x="1855.1" y="796.3" width="2.8" height="5.7" fill="rgba(242,54,69,0.5)"/>
<rect x="1860.1" y="796.6" width="2.8" height="5.4" fill="rgba(242,54,69,0.5)"/>
<rect x="1865.2" y="796.6" width="2.8" height="5.4" fill="rgba(242,54,69,0.5)"/>
<rect x="1870.2" y="794.1" width="2.8" height="7.9" fill="rgba(8,153,129,0.5)"/>
<rect x="1875.2" y="792.5" width="2.8" height="9.5" fill="rgba(242,54,69,0.5)"/>
<rect x="1880.3" y="793" width="2.8" height="9" fill="rgba(242,54,69,0.5)"/>
<rect x="1885.3" y="795.4" width="2.8" height="6.6" fill="rgba(8,153,129,0.5)"/>
<rect x="1890.3" y="794.5" width="2.8" height="7.5" fill="rgba(242,54,69,0.5)"/>
<rect x="1895.4" y="793.8" width="2.8" height="8.2" fill="rgba(242,54,69,0.5)"/>
<rect x="1900.4" y="797.9" width="2.8" height="4.1" fill="rgba(8,153,129,0.5)"/>
<rect x="1905.4" y="794.9" width="2.8" height="7.1" fill="rgba(8,153,129,0.5)"/>
<rect x="1910.4" y="794.2" width="2.8" height="7.8" fill="rgba(242,54,69,0.5)"/>
<rect x="1915.5" y="787.5" width="2.8" height="14.5" fill="rgba(8,153,129,0.5)"/>
<rect x="1920.5" y="711.2" width="2.8" height="90.8" fill="rgba(8,153,129,0.5)"/>
<rect x="1925.5" y="758.9" width="2.8" height="43.1" fill="rgba(8,153,129,0.5)"/>
<rect x="1930.6" y="774.3" width="2.8" height="27.7" fill="rgba(8,153,129,0.5)"/>
<rect x="1935.6" y="771" width="2.8" height="31" fill="rgba(242,54,69,0.5)"/>
<rect x="1940.6" y="774.3" width="2.8" height="27.7" fill="rgba(8,153,129,0.5)"/>
<rect x="1945.7" y="782" width="2.8" height="20" fill="rgba(242,54,69,0.5)"/>
<rect x="1950.7" y="780.1" width="2.8" height="21.9" fill="rgba(242,54,69,0.5)"/>
<rect x="1955.7" y="787.4" width="2.8" height="14.6" fill="rgba(242,54,69,0.5)"/>
<rect x="1960.8" y="787.4" width="2.8" height="14.6" fill="rgba(242,54,69,0.5)"/>
<rect x="1965.8" y="774.3" width="2.8" height="27.7" fill="rgba(242,54,69,0.5)"/>
<rect x="1970.8" y="748.2" width="2.8" height="53.8" fill="rgba(8,153,129,0.5)"/>
<rect x="1975.9" y="761.4" width="2.8" height="40.6" fill="rgba(242,54,69,0.5)"/>
<rect x="1980.9" y="787.2" width="2.8" height="14.8" fill="rgba(242,54,69,0.5)"/>
<rect x="1985.9" y="790.9" width="2.8" height="11.1" fill="rgba(8,153,129,0.5)"/>
<rect x="1991" y="782.1" width="2.8" height="19.9" fill="rgba(242,54,69,0.5)"/>
<rect x="1996" y="788.3" width="2.8" height="13.7" fill="rgba(8,153,129,0.5)"/>
<rect x="2001" y="781.5" width="2.8" height="20.5" fill="rgba(8,153,129,0.5)"/>
<rect x="2006.1" y="778.8" width="2.8" height="23.2" fill="rgba(242,54,69,0.5)"/>
<rect x="2011.1" y="787" width="2.8" height="15" fill="rgba(242,54,69,0.5)"/>
<rect x="2016.1" y="787.4" width="2.8" height="14.6" fill="rgba(242,54,69,0.5)"/>
<rect x="2021.2" y="781.9" width="2.8" height="20.1" fill="rgba(242,54,69,0.5)"/>
<rect x="2026.2" y="786.4" width="2.8" height="15.6" fill="rgba(8,153,129,0.5)"/>
<rect x="2031.2" y="793.3" width="2.8" height="8.7" fill="rgba(242,54,69,0.5)"/>
<rect x="2036.2" y="794.3" width="2.8" height="7.7" fill="rgba(242,54,69,0.5)"/>
<rect x="2041.3" y="794.5" width="2.8" height="7.5" fill="rgba(8,153,129,0.5)"/>
<rect x="2046.3" y="787.7" width="2.8" height="14.3" fill="rgba(8,153,129,0.5)"/>
<rect x="2051.3" y="789.1" width="2.8" height="12.9" fill="rgba(8,153,129,0.5)"/>
<rect x="2056.4" y="795.2" width="2.8" height="6.8" fill="rgba(8,153,129,0.5)"/>
<rect x="2061.4" y="790.1" width="2.8" height="11.9" fill="rgba(242,54,69,0.5)"/>
<rect x="2066.4" y="789.9" width="2.8" height="12.1" fill="rgba(242,54,69,0.5)"/>
<rect x="2071.5" y="793.2" width="2.8" height="8.8" fill="rgba(8,153,129,0.5)"/>
<rect x="2076.5" y="786.4" width="2.8" height="15.6" fill="rgba(242,54,69,0.5)"/>
<rect x="2081.5" y="795.7" width="2.8" height="6.3" fill="rgba(242,54,69,0.5)"/>
<rect x="2086.6" y="794.7" width="2.8" height="7.3" fill="rgba(242,54,69,0.5)"/>
<rect x="2091.6" y="788.2" width="2.8" height="13.8" fill="rgba(242,54,69,0.5)"/>
<rect x="2096.6" y="784.5" width="2.8" height="17.5" fill="rgba(242,54,69,0.5)"/>
<rect x="2101.7" y="797" width="2.8" height="5" fill="rgba(8,153,129,0.5)"/>
<rect x="2106.7" y="773.5" width="2.8" height="28.5" fill="rgba(242,54,69,0.5)"/>
<rect x="2111.7" y="797.5" width="2.8" height="4.5" fill="rgba(242,54,69,0.5)"/>
<rect x="2116.8" y="786.4" width="2.8" height="15.6" fill="rgba(8,153,129,0.5)"/>
<rect x="2121.8" y="779" width="2.8" height="23" fill="rgba(8,153,129,0.5)"/>
<rect x="2126.8" y="787.5" width="2.8" height="14.5" fill="rgba(8,153,129,0.5)"/>
<rect x="2131.9" y="790" width="2.8" height="12" fill="rgba(8,153,129,0.5)"/>
<rect x="2136.9" y="785.3" width="2.8" height="16.7" fill="rgba(8,153,129,0.5)"/>
<rect x="2141.9" y="792.2" width="2.8" height="9.8" fill="rgba(242,54,69,0.5)"/>
<rect x="2146.9" y="793.1" width="2.8" height="8.9" fill="rgba(242,54,69,0.5)"/>
<rect x="2152" y="789.8" width="2.8" height="12.2" fill="rgba(8,153,129,0.5)"/>
<rect x="2157" y="793.7" width="2.8" height="8.3" fill="rgba(242,54,69,0.5)"/>
<rect x="2162" y="790.1" width="2.8" height="11.9" fill="rgba(242,54,69,0.5)"/>
<rect x="2167.1" y="790.4" width="2.8" height="11.6" fill="rgba(8,153,129,0.5)"/>
<rect x="2172.1" y="791.1" width="2.8" height="10.9" fill="rgba(8,153,129,0.5)"/>
</g>
<polygon points="0,802 0,798 25,797.5 50,797 65,796.2 70,794.2 90,793.8 105,792 115,790.5 125,787 135,783.8 145,782 155,781.5 165,780.8 170,782.5 190,782 201,781.2 207.5,783 215,784.2 225,787.5 240,791.8 260,793.2 275,793.8 295,793.8 305,795 322.5,795 330,793.8 362.5,793.8 375,794.2 422.5,794.5 430,795.8 445,796.2 500,796.2 590,798.3 603.3,797.3 613.3,789 656.7,787.7 705,787.7 715,796.7 766.7,797.3 776.7,792.7 810,790.7 833.3,786 843.3,778.3 856.7,774 876.7,770 890,766.7 896.7,764 920,761.7 926.7,758.3 933.3,755 943.3,759.3 966.7,760 976.7,762.7 996.7,767.3 1010,768.3 1026.7,770 1031.7,775 1040,773.3 1056.7,776 1076.7,777.7 1103.3,777.3 1116.7,775.7 1130,774.3 1145,775.7 1153.3,770 1160,763.3 1166.7,751.7 1176.7,745 1190,738.3 1200,733.3 1206.7,723.3 1216.7,718.3 1223.3,715 1230,706.7 1236.7,705 1243.3,701.7 1248.3,702.3 1255,710 1260,710.7 1268.3,721.7 1276.7,723.3 1286.7,722.7 1293.3,714.3 1298.3,714.3 1306.7,723.3 1316.7,726.7 1323.3,729.3 1333.3,740 1343.3,746.7 1353.3,745 1363.3,750 1370,750 1379.2,754.5 1382.8,758.9 1388.3,760.7 1393.8,771.7 1403,775.4 1417.7,778.3 1432.4,780.1 1447,780.5 1461.7,783.4 1491,783.4 1505.7,785.6 1535,786.7 1560.8,788.2 1579,789.3 1597.4,790 1612,789 1626.8,787.5 1641.5,786.4 1652.5,785.3 1670.8,786.4 1689,785.6 1700,786.4 1714.8,787.5 1729.5,789.3 1740.5,788.6 1751.5,790 1773.5,790.8 1802.8,790.8 1813.9,789 1828.5,789 1843.2,790 1857.9,790 1887.2,791.2 1905.6,791.9 1912.9,793 1920.2,788.2 1934.9,786.4 1949.6,783.8 1964.3,782.7 1971.6,780.9 1978.9,778.3 1993.6,776.5 2015.6,775.4 2026.6,780.9 2041.3,784.5 2059.6,786.4 2074.3,790 2089,790.8 2103.7,790 2125.7,788.6 2140.4,788.2 2173.4,787.5 2173.4,802" fill="rgba(156,39,176,0.45)"/>
<polyline points="0,798 25,797.5 50,797 65,796.2 70,794.2 90,793.8 105,792 115,790.5 125,787 135,783.8 145,782 155,781.5 165,780.8 170,782.5 190,782 201,781.2 207.5,783 215,784.2 225,787.5 240,791.8 260,793.2 275,793.8 295,793.8 305,795 322.5,795 330,793.8 362.5,793.8 375,794.2 422.5,794.5 430,795.8 445,796.2 500,796.2 590,798.3 603.3,797.3 613.3,789 656.7,787.7 705,787.7 715,796.7 766.7,797.3 776.7,792.7 810,790.7 833.3,786 843.3,778.3 856.7,774 876.7,770 890,766.7 896.7,764 920,761.7 926.7,758.3 933.3,755 943.3,759.3 966.7,760 976.7,762.7 996.7,767.3 1010,768.3 1026.7,770 1031.7,775 1040,773.3 1056.7,776 1076.7,777.7 1103.3,777.3 1116.7,775.7 1130,774.3 1145,775.7 1153.3,770 1160,763.3 1166.7,751.7 1176.7,745 1190,738.3 1200,733.3 1206.7,723.3 1216.7,718.3 1223.3,715 1230,706.7 1236.7,705 1243.3,701.7 1248.3,702.3 1255,710 1260,710.7 1268.3,721.7 1276.7,723.3 1286.7,722.7 1293.3,714.3 1298.3,714.3 1306.7,723.3 1316.7,726.7 1323.3,729.3 1333.3,740 1343.3,746.7 1353.3,745 1363.3,750 1370,750 1379.2,754.5 1382.8,758.9 1388.3,760.7 1393.8,771.7 1403,775.4 1417.7,778.3 1432.4,780.1 1447,780.5 1461.7,783.4 1491,783.4 1505.7,785.6 1535,786.7 1560.8,788.2 1579,789.3 1597.4,790 1612,789 1626.8,787.5 1641.5,786.4 1652.5,785.3 1670.8,786.4 1689,785.6 1700,786.4 1714.8,787.5 1729.5,789.3 1740.5,788.6 1751.5,790 1773.5,790.8 1802.8,790.8 1813.9,789 1828.5,789 1843.2,790 1857.9,790 1887.2,791.2 1905.6,791.9 1912.9,793 1920.2,788.2 1934.9,786.4 1949.6,783.8 1964.3,782.7 1971.6,780.9 1978.9,778.3 1993.6,776.5 2015.6,775.4 2026.6,780.9 2041.3,784.5 2059.6,786.4 2074.3,790 2089,790.8 2103.7,790 2125.7,788.6 2140.4,788.2 2173.4,787.5" fill="none" stroke="#ab47bc" stroke-width="2" stroke-linejoin="round"/>
<path d="M0 506.2C0.7 506.2 2.7 505.9 4 505.7C5.3 505.5 6.7 505.3 8 504.9C9.3 504.6 10.7 504.2 12 503.7C13.3 503.2 14.7 502.6 16 501.9C17.3 501.3 18.7 500.6 20 499.9C21.3 499.2 22.7 498.5 24 497.7C25.3 497 26.7 496.2 28 495.4C29.3 494.7 30.7 493.9 32 493.1C33.3 492.3 34.7 491.6 36 490.9C37.3 490.2 38.7 489.5 40 488.8C41.3 488.2 42.7 487.6 44 487C45.3 486.4 46.7 486 48 485.4C49.3 484.8 50.7 484.3 52 483.4C53.3 482.5 54.7 481.5 56 480.1C57.3 478.6 58.7 476.8 60 474.7C61.3 472.6 62.7 470 64 467.3C65.3 464.6 66.7 461.6 68 458.6C69.3 455.6 70.7 452.5 72 449.3C73.3 446.1 74.7 442.8 76 439.4C77.3 436 78.7 432.5 80 429C81.3 425.5 82.7 421.8 84 418.3C85.3 414.8 86.7 411.4 88 408.1C89.3 404.8 90.7 401.8 92 398.8C93.3 395.7 94.7 392.8 96 389.7C97.3 386.6 98.7 383.4 100 380.1C101.3 376.8 102.7 373.3 104 369.8C105.3 366.3 106.7 362.6 108 359C109.3 355.3 110.7 351.6 112 347.8C113.3 344 114.7 340.1 116 336.1C117.3 332 118.7 327.9 120 323.6C121.3 319.3 122.7 314.8 124 310.3C125.3 305.7 126.7 301.1 128 296.3C129.3 291.6 130.7 286.6 132 281.8C133.3 276.9 134.7 271.8 136 267C137.3 262.2 138.7 257.3 140 252.8C141.3 248.3 142.7 244 144 240C145.3 236 146.7 232.4 148 229C149.3 225.7 150.7 222.7 152 220C153.3 217.4 154.7 215 156 213C157.3 211 158.7 209.3 160 207.9C161.3 206.4 162.7 205.3 164 204.3C165.3 203.3 166.7 202.6 168 201.9C169.3 201.3 170.7 200.8 172 200.4C173.3 200 174.7 199.7 176 199.4C177.3 199.2 178.7 199 180 198.8C181.3 198.7 182.7 198.6 184 198.7C185.3 198.7 186.7 198.8 188 199C189.3 199.2 190.7 199.5 192 199.9C193.3 200.3 194.7 200.8 196 201.4C197.3 202.1 198.7 202.8 200 203.7C201.3 204.6 202.7 205.7 204 206.9C205.3 208 206.7 209.4 208 210.8C209.3 212.3 210.7 213.9 212 215.8C213.3 217.6 214.7 219.5 216 221.8C217.3 224 218.7 226.4 220 229C221.3 231.7 222.7 234.6 224 237.7C225.3 240.8 226.7 244.1 228 247.5C229.3 250.9 230.7 254.4 232 257.9C233.3 261.4 234.7 264.9 236 268.4C237.3 271.9 238.7 275.4 240 278.9C241.3 282.3 242.7 285.8 244 289.2C245.3 292.6 246.7 296.1 248 299.5C249.3 302.8 250.7 306.2 252 309.5C253.3 312.7 254.7 315.9 256 318.8C257.3 321.8 258.7 324.6 260 327.3C261.3 329.9 262.7 332.3 264 334.6C265.3 336.9 266.7 338.9 268 340.8C269.3 342.8 270.7 344.5 272 346.2C273.3 347.9 274.7 349.6 276 351.2C277.3 352.9 278.7 354.6 280 356.2C281.3 357.8 282.7 359.3 284 360.8C285.3 362.3 286.7 363.6 288 364.9C289.3 366.2 290.7 367.4 292 368.7C293.3 369.9 294.7 371.1 296 372.4C297.3 373.7 298.7 375 300 376.2C301.3 377.5 302.7 378.8 304 380C305.3 381.1 306.7 382.3 308 383.3C309.3 384.3 310.7 385.3 312 386.1C313.3 386.9 314.7 387.6 316 388.1C317.3 388.5 318.7 388.8 320 388.9C321.3 389 322.7 388.9 324 388.9C325.3 388.9 326.7 388.8 328 388.8C329.3 388.9 330.7 389.1 332 389.4C333.3 389.8 334.7 390.3 336 390.9C337.3 391.5 338.7 392.3 340 393.1C341.3 393.9 342.7 394.9 344 395.9C345.3 396.8 346.7 397.9 348 399C349.3 400.1 350.7 401.3 352 402.5C353.3 403.6 354.7 404.9 356 406.1C357.3 407.4 358.7 408.7 360 410.2C361.3 411.6 362.7 413.2 364 414.9C365.3 416.6 366.7 418.5 368 420.3C369.3 422.1 370.7 423.9 372 425.6C373.3 427.3 374.7 428.9 376 430.5C377.3 432.2 378.7 434 380 435.7C381.3 437.5 382.7 439.4 384 441.1C385.3 442.8 386.7 444.4 388 446C389.3 447.5 390.7 449 392 450.5C393.3 452.1 394.7 453.6 396 455.2C397.3 456.8 398.7 458.4 400 460.1C401.3 461.7 402.7 463.4 404 465.1C405.3 466.9 406.7 468.7 408 470.4C409.3 472.2 410.7 474 412 475.7C413.3 477.5 414.7 479.2 416 480.8C417.3 482.5 418.7 484 420 485.6C421.3 487.3 422.7 488.9 424 490.6C425.3 492.3 426.7 494.1 428 496C429.3 497.8 430.7 499.9 432 501.8C433.3 503.7 434.7 505.8 436 507.5C437.3 509.2 438.7 510.9 440 512.2C441.3 513.6 442.7 514.6 444 515.4C445.3 516.2 446.7 516.7 448 517C449.3 517.3 450.7 517.3 452 517.2C453.3 517 454.7 516.6 456 516.2C457.3 515.8 458.7 515.2 460 514.6C461.3 514 462.7 513.3 464 512.6C465.3 511.9 466.7 511.2 468 510.4C469.3 509.7 470.7 508.8 472 508C473.3 507.3 474.7 506.4 476 505.6C477.3 504.9 478.7 504 480 503.3C481.3 502.5 482.7 501.7 484 500.9C485.3 500.1 486.7 499.4 488 498.6C489.3 497.9 490.7 497.2 492 496.5C493.3 495.8 494.7 495.2 496 494.6C497.3 494 498.7 493.4 500 492.9C501.3 492.4 502.7 491.9 504 491.6C505.3 491.3 506.7 491 508 490.9C509.3 490.7 510.7 490.7 512 490.7C513.3 490.7 514.7 490.9 516 491.1C517.3 491.2 518.7 491.5 520 491.7C521.3 491.9 522.7 492.2 524 492.5C525.3 492.8 526.7 493.1 528 493.5C529.3 493.8 530.7 494.2 532 494.6C533.3 494.9 534.7 495.3 536 495.6C537.3 495.9 538.7 496.2 540 496.5C541.3 496.7 542.7 496.9 544 497.3C545.3 497.6 546.7 498 548 498.6C549.3 499.2 550.7 500 552 500.9C553.3 501.9 554.7 503.1 556 504.4C557.3 505.8 558.7 507.3 560 508.9C561.3 510.5 562.7 512.2 564 513.9C565.3 515.6 566.7 517.4 568 519.2C569.3 520.9 570.7 522.6 572 524.3C573.3 525.9 574.7 527.4 576 529.1C577.3 530.7 578.7 532.3 580 534.1C581.3 536 582.7 538 584 540C585.3 542 586.7 544.2 588 546C589.3 547.8 590.7 549.5 592 551C593.3 552.4 594.7 553.7 596 554.7C597.3 555.7 598.7 556.5 600 557.1C601.3 557.7 602.7 558.1 604 558.4C605.3 558.8 606.7 558.9 608 559.1C609.3 559.3 610.7 559.4 612 559.5C613.3 559.6 614.7 559.6 616 559.7C617.3 559.7 618.7 559.8 620 559.8C621.3 559.9 622.7 559.9 624 559.9C625.3 560 626.7 560 628 560C629.3 560 630.7 560 632 560C633.3 560 634.7 560 636 560C637.3 560 638.7 559.9 640 559.9C641.3 559.8 642.7 559.7 644 559.6C645.3 559.6 646.7 559.4 648 559.3C649.3 559.2 650.7 559.1 652 559C653.3 558.9 654.7 558.8 656 558.7C657.3 558.6 658.7 558.5 660 558.3C661.3 558.2 662.7 558.1 664 558C665.3 557.8 666.7 557.6 668 557.3C669.3 557.1 670.7 556.7 672 556.3C673.3 555.9 674.7 555.3 676 554.8C677.3 554.3 678.7 553.7 680 553.2C681.3 552.7 682.7 552.3 684 551.9C685.3 551.4 686.7 551.1 688 550.7C689.3 550.4 690.7 550.1 692 549.8C693.3 549.5 694.7 549.3 696 549C697.3 548.8 698.7 548.6 700 548.3C701.3 548.1 702.7 547.9 704 547.6C705.3 547.4 706.7 547.1 708 546.9C709.3 546.6 710.7 546.4 712 546.1C713.3 545.8 714.7 545.5 716 545.2C717.3 544.9 718.7 544.6 720 544.3C721.3 544 722.7 543.8 724 543.6C725.3 543.5 726.7 543.4 728 543.4C729.3 543.4 730.7 543.5 732 543.6C733.3 543.6 734.7 543.7 736 543.8C737.3 543.9 738.7 544.1 740 544.2C741.3 544.3 742.7 544.4 744 544.5C745.3 544.5 746.7 544.6 748 544.6C749.3 544.6 750.7 544.5 752 544.4C753.3 544.2 754.7 544 756 543.7C757.3 543.4 758.7 543.1 760 542.6C761.3 542 762.7 541.3 764 540.2C765.3 539.1 766.7 537.7 768 536.2C769.3 534.7 770.7 532.8 772 531.1C773.3 529.4 774.7 527.7 776 526.1C777.3 524.4 778.7 522.9 780 521.3C781.3 519.8 782.7 518.3 784 516.8C785.3 515.3 786.7 513.9 788 512.5C789.3 511.1 790.7 509.7 792 508.5C793.3 507.2 794.7 506 796 504.8C797.3 503.6 798.7 502.5 800 501.4C801.3 500.3 802.7 499.3 804 498.3C805.3 497.2 806.7 496.2 808 495.1C809.3 494.1 810.7 493 812 491.9C813.3 490.8 814.7 489.6 816 488.5C817.3 487.3 818.7 486.1 820 484.8C821.3 483.6 822.7 482.3 824 480.9C825.3 479.5 826.7 478.1 828 476.6C829.3 475 830.7 473.3 832 471.6C833.3 469.8 834.7 467.9 836 465.9C837.3 464 838.7 462 840 460C841.3 458 842.7 456 844 454C845.3 452 846.7 450.1 848 448.1C849.3 446.2 850.7 444.2 852 442.4C853.3 440.5 854.7 438.6 856 436.8C857.3 434.9 858.7 433.1 860 431.2C861.3 429.4 862.7 427.6 864 425.8C865.3 424 866.7 422.2 868 420.6C869.3 418.9 870.7 417.3 872 415.8C873.3 414.3 874.7 412.9 876 411.5C877.3 410.2 878.7 408.8 880 407.5C881.3 406.2 882.7 404.8 884 403.5C885.3 402.2 886.7 400.9 888 399.6C889.3 398.3 890.7 397.1 892 395.9C893.3 394.6 894.7 393.5 896 392.2C897.3 391 898.7 389.7 900 388.4C901.3 387 902.7 385.6 904 384.2C905.3 382.8 906.7 381.3 908 379.9C909.3 378.4 910.7 377 912 375.6C913.3 374.2 914.7 372.9 916 371.5C917.3 370.2 918.7 368.8 920 367.5C921.3 366.2 922.7 364.8 924 363.5C925.3 362.2 926.7 360.9 928 359.6C929.3 358.4 930.7 357.2 932 356.1C933.3 355 934.7 353.9 936 353.1C937.3 352.3 938.7 351.6 940 351.1C941.3 350.6 942.7 350.4 944 350.3C945.3 350.2 946.7 350.3 948 350.6C949.3 350.8 950.7 351.3 952 351.8C953.3 352.3 954.7 353 956 353.8C957.3 354.5 958.7 355.4 960 356.4C961.3 357.3 962.7 358.4 964 359.5C965.3 360.7 966.7 361.9 968 363.3C969.3 364.7 970.7 366.2 972 367.9C973.3 369.6 974.7 371.6 976 373.6C977.3 375.5 978.7 377.7 980 379.8C981.3 381.8 982.7 383.9 984 386C985.3 388 986.7 390 988 392C989.3 394 990.7 396 992 398C993.3 400 994.7 402 996 404.1C997.3 406.1 998.7 408.2 1000 410.4C1001.3 412.5 1002.7 414.8 1004 417.1C1005.3 419.3 1006.7 421.7 1008 424C1009.3 426.3 1010.7 428.7 1012 431C1013.3 433.3 1014.7 435.7 1016 438C1017.3 440.3 1018.7 442.6 1020 444.8C1021.3 447.1 1022.7 449.3 1024 451.5C1025.3 453.6 1026.7 455.8 1028 457.9C1029.3 460 1030.7 462.1 1032 464C1033.3 465.9 1034.7 467.8 1036 469.4C1037.3 470.9 1038.7 472.3 1040 473.4C1041.3 474.5 1042.7 475.3 1044 475.9C1045.3 476.5 1046.7 476.8 1048 476.9C1049.3 477.1 1050.7 477.1 1052 477C1053.3 477 1054.7 476.8 1056 476.6C1057.3 476.4 1058.7 476.2 1060 475.9C1061.3 475.7 1062.7 475.4 1064 475C1065.3 474.6 1066.7 474.2 1068 473.8C1069.3 473.3 1070.7 472.8 1072 472.3C1073.3 471.8 1074.7 471.2 1076 470.6C1077.3 470 1078.7 469.4 1080 468.8C1081.3 468.2 1082.7 467.6 1084 467C1085.3 466.5 1086.7 466.1 1088 465.6C1089.3 465.2 1090.7 464.8 1092 464.4C1093.3 463.9 1094.7 463.5 1096 463C1097.3 462.4 1098.7 461.8 1100 461.2C1101.3 460.5 1102.7 459.8 1104 459C1105.3 458.2 1106.7 457.3 1108 456.4C1109.3 455.5 1110.7 454.5 1112 453.6C1113.3 452.6 1114.7 451.7 1116 450.8C1117.3 449.9 1118.7 449 1120 448.1C1121.3 447.2 1122.7 446.4 1124 445.5C1125.3 444.6 1126.7 443.6 1128 442.7C1129.3 441.7 1130.7 440.7 1132 439.7C1133.3 438.8 1134.7 437.8 1136 436.8C1137.3 435.7 1138.7 434.8 1140 433.7C1141.3 432.6 1142.7 431.4 1144 430.2C1145.3 428.9 1146.7 427.5 1148 425.9C1149.3 424.4 1150.7 422.7 1152 420.8C1153.3 418.9 1154.7 416.9 1156 414.6C1157.3 412.3 1158.7 409.9 1160 407.2C1161.3 404.6 1162.7 401.7 1164 398.6C1165.3 395.5 1166.7 392.2 1168 388.8C1169.3 385.5 1170.7 381.9 1172 378.3C1173.3 374.8 1174.7 371.3 1176 367.8C1177.3 364.3 1178.7 360.9 1180 357.5C1181.3 354 1182.7 350.5 1184 346.9C1185.3 343.3 1186.7 339.5 1188 335.7C1189.3 331.9 1190.7 328 1192 324.1C1193.3 320.2 1194.7 316.3 1196 312.5C1197.3 308.8 1198.7 305 1200 301.4C1201.3 297.7 1202.7 294.1 1204 290.7C1205.3 287.2 1206.7 283.8 1208 280.5C1209.3 277.2 1210.7 274 1212 270.7C1213.3 267.5 1214.7 264.3 1216 261.2C1217.3 258 1218.7 254.9 1220 251.7C1221.3 248.4 1222.7 245.2 1224 241.9C1225.3 238.6 1226.7 235.2 1228 231.9C1229.3 228.5 1230.7 225.1 1232 221.8C1233.3 218.5 1234.7 215.2 1236 212.1C1237.3 209.1 1238.7 206.2 1240 203.5C1241.3 200.9 1242.7 198.4 1244 196.2C1245.3 194 1246.7 192.1 1248 190.3C1249.3 188.6 1250.7 187.1 1252 185.8C1253.3 184.6 1254.7 183.7 1256 183.1C1257.3 182.4 1258.7 182.2 1260 182.2C1261.3 182.1 1262.7 182.4 1264 182.8C1265.3 183.2 1266.7 183.8 1268 184.5C1269.3 185.2 1270.7 186.1 1272 187C1273.3 187.9 1274.7 189 1276 190C1277.3 191 1278.7 192.1 1280 193C1281.3 193.9 1282.7 194.7 1284 195.4C1285.3 196.1 1286.7 196.7 1288 197.3C1289.3 197.9 1290.7 198.4 1292 198.9C1293.3 199.5 1294.7 200 1296 200.7C1297.3 201.3 1298.7 202 1300 202.8C1301.3 203.5 1302.7 204.4 1304 205.4C1305.3 206.4 1306.7 207.5 1308 208.7C1309.3 209.9 1310.7 211.2 1312 212.6C1313.3 214 1314.7 215.5 1316 217C1317.3 218.6 1318.7 220.1 1320 221.8C1321.3 223.4 1322.7 225.1 1324 227C1325.3 228.9 1326.7 231 1328 233.1C1329.3 235.1 1330.7 237.4 1332 239.6C1333.3 241.7 1334.7 243.8 1336 245.9C1337.3 247.9 1338.7 249.8 1340 251.7C1341.3 253.6 1342.7 255.5 1344 257.4C1345.3 259.2 1346.7 261.1 1348 262.8C1349.3 264.6 1350.7 266.3 1352 267.8C1353.3 269.3 1354.7 270.7 1356 272C1357.3 273.3 1358.7 274.5 1360 275.7C1361.3 276.8 1362.7 277.8 1364 278.8C1365.3 279.7 1366.7 280.5 1368 281.3C1369.3 282.1 1370.7 282.7 1372 283.4C1373.3 284.1 1374.7 284.6 1376 285.3C1377.3 285.9 1378.7 286.5 1380 287.2C1381.3 287.8 1382.7 288.5 1384 289.3C1385.3 290 1386.7 290.8 1388 291.6C1389.3 292.4 1390.7 293.3 1392 294.2C1393.3 295.1 1394.7 296.1 1396 297C1397.3 297.9 1398.7 298.9 1400 299.8C1401.3 300.7 1402.7 301.6 1404 302.5C1405.3 303.3 1406.7 304.1 1408 304.9C1409.3 305.7 1410.7 306.4 1412 307.1C1413.3 307.9 1414.7 308.5 1416 309.2C1417.3 309.9 1418.7 310.5 1420 311.1C1421.3 311.6 1422.7 312.2 1424 312.7C1425.3 313.2 1426.7 313.7 1428 314.2C1429.3 314.8 1430.7 315.3 1432 315.8C1433.3 316.2 1434.7 316.8 1436 317.2C1437.3 317.6 1438.7 318 1440 318.4C1441.3 318.7 1442.7 319 1444 319.2C1445.3 319.3 1446.7 319.5 1448 319.5C1449.3 319.6 1450.7 319.6 1452 319.5C1453.3 319.5 1454.7 319.3 1456 319.1C1457.3 319 1458.7 318.7 1460 318.4C1461.3 318.2 1462.7 317.8 1464 317.7C1465.3 317.6 1466.7 317.6 1468 317.8C1469.3 318 1470.7 318.5 1472 319C1473.3 319.6 1474.7 320.3 1476 321.1C1477.3 321.9 1478.7 322.9 1480 323.9C1481.3 324.8 1482.7 325.9 1484 327C1485.3 328.2 1486.7 329.4 1488 330.6C1489.3 331.9 1490.7 333.2 1492 334.4C1493.3 335.7 1494.7 337 1496 338.2C1497.3 339.5 1498.7 340.7 1500 341.9C1501.3 343 1502.7 344.2 1504 345.4C1505.3 346.5 1506.7 347.7 1508 348.9C1509.3 350 1510.7 351.2 1512 352.4C1513.3 353.5 1514.7 354.7 1516 355.9C1517.3 357 1518.7 358.2 1520 359.3C1521.3 360.4 1522.7 361.5 1524 362.6C1525.3 363.6 1526.7 364.6 1528 365.5C1529.3 366.5 1530.7 367.3 1532 368.3C1533.3 369.3 1534.7 370.3 1536 371.4C1537.3 372.6 1538.7 373.8 1540 375.1C1541.3 376.4 1542.7 377.8 1544 379.3C1545.3 380.8 1546.7 382.3 1548 383.9C1549.3 385.5 1550.7 387.1 1552 388.8C1553.3 390.4 1554.7 392.1 1556 393.8C1557.3 395.4 1558.7 397.1 1560 398.7C1561.3 400.3 1562.7 401.9 1564 403.3C1565.3 404.8 1566.7 406.1 1568 407.4C1569.3 408.7 1570.7 409.8 1572 411C1573.3 412.1 1574.7 413.1 1576 414.1C1577.3 415.1 1578.7 415.9 1580 416.8C1581.3 417.7 1582.7 418.6 1584 419.4C1585.3 420.3 1586.7 421.1 1588 422.1C1589.3 423 1590.7 423.9 1592 424.9C1593.3 425.9 1594.7 426.9 1596 427.9C1597.3 428.9 1598.7 430 1600 430.9C1601.3 431.9 1602.7 432.8 1604 433.7C1605.3 434.6 1606.7 435.4 1608 436.2C1609.3 437.1 1610.7 437.9 1612 438.8C1613.3 439.6 1614.7 440.4 1616 441.2C1617.3 442.1 1618.7 442.9 1620 443.8C1621.3 444.6 1622.7 445.4 1624 446.2C1625.3 447 1626.7 447.9 1628 448.6C1629.3 449.4 1630.7 450.2 1632 450.9C1633.3 451.6 1634.7 452.3 1636 453C1637.3 453.6 1638.7 454.3 1640 454.9C1641.3 455.6 1642.7 456.2 1644 456.8C1645.3 457.4 1646.7 458 1648 458.6C1649.3 459.2 1650.7 459.8 1652 460.3C1653.3 460.9 1654.7 461.5 1656 462C1657.3 462.5 1658.7 462.9 1660 463.3C1661.3 463.7 1662.7 463.9 1664 464.1C1665.3 464.3 1666.7 464.5 1668 464.5C1669.3 464.6 1670.7 464.6 1672 464.5C1673.3 464.5 1674.7 464.3 1676 464.2C1677.3 464 1678.7 463.8 1680 463.6C1681.3 463.3 1682.7 463 1684 462.7C1685.3 462.4 1686.7 462.1 1688 461.8C1689.3 461.4 1690.7 461.1 1692 460.8C1693.3 460.4 1694.7 460.1 1696 459.8C1697.3 459.5 1698.7 459.2 1700 458.9C1701.3 458.7 1702.7 458.5 1704 458.3C1705.3 458.1 1706.7 457.9 1708 457.8C1709.3 457.6 1710.7 457.4 1712 457.2C1713.3 457.1 1714.7 456.9 1716 456.8C1717.3 456.6 1718.7 456.4 1720 456.2C1721.3 456.1 1722.7 455.9 1724 455.8C1725.3 455.7 1726.7 455.6 1728 455.7C1729.3 455.8 1730.7 455.9 1732 456.2C1733.3 456.5 1734.7 456.9 1736 457.3C1737.3 457.7 1738.7 458.3 1740 458.8C1741.3 459.2 1742.7 459.8 1744 460.2C1745.3 460.8 1746.7 461.2 1748 461.8C1749.3 462.2 1750.7 462.7 1752 463.2C1753.3 463.8 1754.7 464.2 1756 464.8C1757.3 465.3 1758.7 465.9 1760 466.4C1761.3 467 1762.7 467.6 1764 468.3C1765.3 468.9 1766.7 469.6 1768 470.3C1769.3 471 1770.7 471.7 1772 472.4C1773.3 473.2 1774.7 473.9 1776 474.8C1777.3 475.6 1778.7 476.5 1780 477.5C1781.3 478.5 1782.7 479.6 1784 480.7C1785.3 481.8 1786.7 483 1788 484.3C1789.3 485.5 1790.7 486.8 1792 488.1C1793.3 489.4 1794.7 490.7 1796 492.1C1797.3 493.4 1798.7 494.9 1800 496.3C1801.3 497.7 1802.7 499.2 1804 500.6C1805.3 502 1806.7 503.4 1808 504.7C1809.3 506 1810.7 507.2 1812 508.3C1813.3 509.4 1814.7 510.4 1816 511.4C1817.3 512.4 1818.7 513.4 1820 514.3C1821.3 515.3 1822.7 516.2 1824 517.1C1825.3 518 1826.7 518.9 1828 519.7C1829.3 520.6 1830.7 521.4 1832 522.2C1833.3 522.9 1834.7 523.6 1836 524.2C1837.3 524.9 1838.7 525.4 1840 525.9C1841.3 526.4 1842.7 526.8 1844 527.2C1845.3 527.6 1846.7 527.9 1848 528.2C1849.3 528.5 1850.7 528.8 1852 529C1853.3 529.3 1854.7 529.5 1856 529.7C1857.3 529.9 1858.7 530.1 1860 530.3C1861.3 530.4 1862.7 530.6 1864 530.8C1865.3 531 1866.7 531.2 1868 531.5C1869.3 531.7 1870.7 531.9 1872 532.1C1873.3 532.3 1874.7 532.5 1876 532.7C1877.3 532.9 1878.7 533.1 1880 533.2C1881.3 533.4 1882.7 533.6 1884 533.8C1885.3 533.9 1886.7 534.1 1888 534.2C1889.3 534.3 1890.7 534.4 1892 534.5C1893.3 534.5 1894.7 534.4 1896 534.3C1897.3 534.2 1898.7 534 1900 533.7C1901.3 533.5 1902.7 533.2 1904 532.8C1905.3 532.5 1906.7 532.2 1908 531.8C1909.3 531.3 1910.7 530.9 1912 530.4C1913.3 529.9 1914.7 529.4 1916 528.8C1917.3 528.2 1918.7 527.6 1920 526.9C1921.3 526.3 1922.7 525.6 1924 524.8C1925.3 524.1 1926.7 523.3 1928 522.5C1929.3 521.7 1930.7 520.9 1932 520.1C1933.3 519.3 1934.7 518.6 1936 517.9C1937.3 517.1 1938.7 516.5 1940 515.8C1941.3 515.1 1942.7 514.5 1944 513.9C1945.3 513.3 1946.7 512.8 1948 512.3C1949.3 511.7 1950.7 511.2 1952 510.6C1953.3 510.1 1954.7 509.5 1956 508.9C1957.3 508.3 1958.7 507.6 1960 506.9C1961.3 506.2 1962.7 505.5 1964 504.6C1965.3 503.8 1966.7 502.9 1968 501.9C1969.3 501 1970.7 499.9 1972 498.9C1973.3 497.8 1974.7 496.8 1976 495.6C1977.3 494.5 1978.7 493.4 1980 492.2C1981.3 491.1 1982.7 489.9 1984 488.8C1985.3 487.6 1986.7 486.4 1988 485.3C1989.3 484.1 1990.7 483 1992 481.9C1993.3 480.8 1994.7 479.7 1996 478.6C1997.3 477.6 1998.7 476.5 2000 475.5C2001.3 474.5 2002.7 473.5 2004 472.5C2005.3 471.5 2006.7 470.5 2008 469.6C2009.3 468.6 2010.7 467.7 2012 466.9C2013.3 466.2 2014.7 465.5 2016 464.9C2017.3 464.4 2018.7 464 2020 463.6C2021.3 463.2 2022.7 462.9 2024 462.7C2025.3 462.4 2026.7 462.2 2028 462C2029.3 461.9 2030.7 461.7 2032 461.6C2033.3 461.5 2034.7 461.4 2036 461.4C2037.3 461.3 2038.7 461.3 2040 461.2C2041.3 461.2 2042.7 461.2 2044 461.1C2045.3 461.1 2046.7 461 2048 460.9C2049.3 460.8 2050.7 460.7 2052 460.6C2053.3 460.5 2054.7 460.4 2056 460.3C2057.3 460.2 2058.7 460 2060 459.9C2061.3 459.9 2062.7 459.8 2064 459.9C2065.3 460 2066.7 460.2 2068 460.6C2069.3 461 2070.7 461.6 2072 462.4C2073.3 463.1 2074.7 464.1 2076 465.2C2077.3 466.2 2078.7 467.4 2080 468.6C2081.3 469.7 2082.7 471 2084 472.1C2085.3 473.3 2086.7 474.4 2088 475.4C2089.3 476.5 2090.7 477.5 2092 478.5C2093.3 479.5 2094.7 480.5 2096 481.5C2097.3 482.5 2098.7 483.5 2100 484.5C2101.3 485.5 2102.7 486.5 2104 487.5C2105.3 488.5 2106.7 489.5 2108 490.5C2109.3 491.5 2110.7 492.5 2112 493.5C2113.3 494.5 2114.7 495.5 2116 496.5C2117.3 497.5 2118.7 498.5 2120 499.5C2121.3 500.4 2122.7 501.4 2124 502.3C2125.3 503.2 2126.7 504.1 2128 505C2129.3 505.8 2130.7 506.7 2132 507.5C2133.3 508.3 2134.7 509.2 2136 510C2137.3 510.8 2138.7 511.7 2140 512.5C2141.3 513.3 2142.7 514.2 2144 515C2145.3 515.8 2146.7 516.7 2148 517.5C2149.3 518.3 2150.7 519.2 2152 520C2153.3 520.8 2154.7 521.7 2156 522.5C2157.3 523.3 2158.7 524.2 2160 525C2161.3 525.8 2162.7 526.6 2164 527.3C2165.3 528 2166.8 528.7 2168 529.4C2169.2 530 2170.9 530.9 2171.5 531.2" fill="none" stroke="#f23645" stroke-width="2" stroke-linejoin="round" stroke-linecap="round"/>
<path d="M0 463.8C0.7 463.8 2.7 463.9 4 463.9C5.3 463.9 6.7 463.8 8 463.7C9.3 463.6 10.7 463.4 12 463.1C13.3 462.9 14.7 462.5 16 462.2C17.3 461.9 18.7 461.6 20 461.2C21.3 460.9 22.7 460.5 24 460.2C25.3 459.9 26.7 459.5 28 459.2C29.3 458.9 30.7 458.6 32 458.4C33.3 458.1 34.7 458 36 457.8C37.3 457.6 38.7 457.5 40 457.4C41.3 457.3 42.7 457.1 44 457C45.3 456.8 46.7 456.7 48 456.5C49.3 456.3 50.7 456 52 455.7C53.3 455.3 54.7 454.8 56 454.2C57.3 453.6 58.7 452.8 60 451.9C61.3 451.1 62.7 450 64 448.9C65.3 447.8 66.7 446.5 68 445.1C69.3 443.8 70.7 442.3 72 440.8C73.3 439.3 74.7 437.8 76 436.2C77.3 434.7 78.7 433.1 80 431.5C81.3 429.9 82.7 428.3 84 426.7C85.3 425 86.7 423.4 88 421.7C89.3 420.1 90.7 418.5 92 416.9C93.3 415.4 94.7 414 96 412.5C97.3 411 98.7 409.6 100 407.8C101.3 406 102.7 403.9 104 401.6C105.3 399.4 106.7 396.7 108 394.2C109.3 391.7 110.7 389.2 112 386.7C113.3 384.2 114.7 381.9 116 379.3C117.3 376.8 118.7 374.2 120 371.4C121.3 368.5 122.7 365.5 124 362.3C125.3 359.1 126.7 355.7 128 352.4C129.3 349.1 130.7 345.6 132 342.4C133.3 339.1 134.7 335.9 136 332.9C137.3 330 138.7 327.2 140 324.7C141.3 322.1 142.7 319.8 144 317.7C145.3 315.6 146.7 313.8 148 312.1C149.3 310.4 150.7 308.9 152 307.5C153.3 306.1 154.7 304.9 156 303.8C157.3 302.8 158.7 301.8 160 301.1C161.3 300.3 162.7 299.6 164 299.1C165.3 298.5 166.7 298.1 168 297.8C169.3 297.5 170.7 297.2 172 297C173.3 296.8 174.7 296.7 176 296.5C177.3 296.4 178.7 296.3 180 296.2C181.3 296.1 182.7 296.1 184 296.1C185.3 296.1 186.7 296.1 188 296.2C189.3 296.3 190.7 296.5 192 296.6C193.3 296.7 194.7 296.9 196 297C197.3 297.2 198.7 297.3 200 297.4C201.3 297.5 202.7 297.6 204 297.8C205.3 298 206.7 298.2 208 298.6C209.3 298.9 210.7 299.3 212 299.7C213.3 300.1 214.7 300.6 216 301.1C217.3 301.6 218.7 302.1 220 302.6C221.3 303.1 222.7 303.6 224 304.2C225.3 304.7 226.7 305.3 228 305.8C229.3 306.4 230.7 307 232 307.6C233.3 308.2 234.7 308.8 236 309.5C237.3 310.2 238.7 311 240 311.7C241.3 312.4 242.7 313.2 244 314C245.3 314.8 246.7 315.6 248 316.4C249.3 317.3 250.7 318.1 252 319C253.3 319.9 254.7 320.8 256 321.7C257.3 322.6 258.7 323.5 260 324.4C261.3 325.2 262.7 326 264 326.8C265.3 327.6 266.7 328.3 268 329C269.3 329.7 270.7 330.3 272 331C273.3 331.7 274.7 332.3 276 333C277.3 333.7 278.7 334.3 280 335C281.3 335.7 282.7 336.3 284 337C285.3 337.6 286.7 338.2 288 338.8C289.3 339.4 290.7 340 292 340.5C293.3 341.1 294.7 341.6 296 342.1C297.3 342.6 298.7 343.1 300 343.6C301.3 344.1 302.7 344.5 304 344.9C305.3 345.3 306.7 345.7 308 346.1C309.3 346.5 310.7 346.9 312 347.2C313.3 347.5 314.7 347.8 316 348.1C317.3 348.3 318.7 348.5 320 348.7C321.3 348.9 322.7 349.1 324 349.3C325.3 349.4 326.7 349.5 328 349.7C329.3 350 330.7 350.2 332 350.5C333.3 350.9 334.7 351.4 336 351.9C337.3 352.5 338.7 353.1 340 353.8C341.3 354.5 342.7 355.3 344 356.2C345.3 357.1 346.7 358 348 359.1C349.3 360.2 350.7 361.3 352 362.6C353.3 363.8 354.7 365.2 356 366.6C357.3 368 358.7 369.5 360 371.1C361.3 372.6 362.7 374.2 364 375.9C365.3 377.5 366.7 379.2 368 381C369.3 382.7 370.7 384.6 372 386.3C373.3 388.1 374.7 390 376 391.7C377.3 393.4 378.7 395 380 396.4C381.3 397.8 382.7 398.9 384 400C385.3 401.2 386.7 402.1 388 403.1C389.3 404.1 390.7 405.1 392 406.1C393.3 407.2 394.7 408.2 396 409.3C397.3 410.3 398.7 411.3 400 412.3C401.3 413.3 402.7 414.2 404 415.1C405.3 416.1 406.7 416.9 408 417.8C409.3 418.7 410.7 419.6 412 420.5C413.3 421.3 414.7 422.2 416 423C417.3 423.8 418.7 424.6 420 425.4C421.3 426.2 422.7 427 424 427.8C425.3 428.5 426.7 429.3 428 430.1C429.3 430.9 430.7 431.6 432 432.4C433.3 433.2 434.7 434 436 434.8C437.3 435.5 438.7 436.3 440 437C441.3 437.7 442.7 438.4 444 439C445.3 439.6 446.7 440.1 448 440.5C449.3 441 450.7 441.3 452 441.7C453.3 442 454.7 442.3 456 442.7C457.3 443 458.7 443.3 460 443.7C461.3 444 462.7 444.3 464 444.7C465.3 445 466.7 445.4 468 445.7C469.3 446 470.7 446.4 472 446.7C473.3 447.1 474.7 447.4 476 447.7C477.3 448.1 478.7 448.4 480 448.7C481.3 449.1 482.7 449.4 484 449.8C485.3 450.1 486.7 450.4 488 450.8C489.3 451.1 490.7 451.4 492 451.8C493.3 452.1 494.7 452.4 496 452.8C497.3 453.1 498.7 453.4 500 453.8C501.3 454.2 502.7 454.6 504 455C505.3 455.5 506.7 456.1 508 456.6C509.3 457.2 510.7 457.9 512 458.5C513.3 459.2 514.7 459.8 516 460.5C517.3 461.2 518.7 461.8 520 462.5C521.3 463.2 522.7 463.8 524 464.5C525.3 465.2 526.7 465.8 528 466.5C529.3 467.2 530.7 467.8 532 468.5C533.3 469.2 534.7 469.8 536 470.5C537.3 471.2 538.7 471.8 540 472.5C541.3 473.2 542.7 473.8 544 474.5C545.3 475.2 546.7 475.9 548 476.7C549.3 477.5 550.7 478.3 552 479.2C553.3 480.1 554.7 481.1 556 482C557.3 483 558.7 484 560 485C561.3 486 562.7 487.1 564 488.1C565.3 489.2 566.7 490.3 568 491.4C569.3 492.5 570.7 493.6 572 494.7C573.3 495.7 574.7 496.7 576 497.7C577.3 498.7 578.7 499.5 580 500.5C581.3 501.4 582.7 502.4 584 503.3C585.3 504.2 586.7 505.2 588 506.1C589.3 506.9 590.7 507.7 592 508.4C593.3 509.1 594.7 509.7 596 510.2C597.3 510.7 598.7 511.1 600 511.5C601.3 511.9 602.7 512.2 604 512.5C605.3 512.8 606.7 513.1 608 513.3C609.3 513.6 610.7 513.8 612 514.1C613.3 514.3 614.7 514.5 616 514.7C617.3 515 618.7 515.2 620 515.4C621.3 515.6 622.7 515.8 624 516C625.3 516.2 626.7 516.4 628 516.5C629.3 516.7 630.7 516.8 632 517C633.3 517.2 634.7 517.3 636 517.6C637.3 517.8 638.7 518.1 640 518.4C641.3 518.7 642.7 519.1 644 519.5C645.3 519.9 646.7 520.3 648 520.7C649.3 521.2 650.7 521.7 652 522.1C653.3 522.6 654.7 523.1 656 523.6C657.3 524.2 658.7 524.7 660 525.1C661.3 525.6 662.7 526.1 664 526.5C665.3 526.9 666.7 527.3 668 527.7C669.3 528 670.7 528.4 672 528.7C673.3 529 674.7 529.3 676 529.6C677.3 529.9 678.7 530.1 680 530.4C681.3 530.6 682.7 530.9 684 531.1C685.3 531.2 686.7 531.4 688 531.5C689.3 531.7 690.7 531.7 692 531.8C693.3 531.9 694.7 531.9 696 531.9C697.3 531.9 698.7 531.9 700 531.8C701.3 531.7 702.7 531.6 704 531.5C705.3 531.4 706.7 531.2 708 531C709.3 530.9 710.7 530.7 712 530.6C713.3 530.5 714.7 530.3 716 530.2C717.3 530.1 718.7 530 720 529.9C721.3 529.9 722.7 529.8 724 529.8C725.3 529.8 726.7 529.8 728 529.8C729.3 529.9 730.7 530 732 530.1C733.3 530.2 734.7 530.3 736 530.4C737.3 530.6 738.7 530.7 740 530.8C741.3 531 742.7 531.2 744 531.3C745.3 531.5 746.7 531.7 748 531.9C749.3 532 750.7 532.2 752 532.3C753.3 532.5 754.7 532.6 756 532.7C757.3 532.7 758.7 532.8 760 532.7C761.3 532.6 762.7 532.4 764 532C765.3 531.7 766.7 531.1 768 530.5C769.3 529.9 770.7 529.1 772 528.2C773.3 527.4 774.7 526.4 776 525.5C777.3 524.6 778.7 523.7 780 522.9C781.3 522 782.7 521.3 784 520.5C785.3 519.8 786.7 519.1 788 518.4C789.3 517.6 790.7 516.8 792 516C793.3 515.2 794.7 514.3 796 513.5C797.3 512.6 798.7 511.7 800 510.8C801.3 510 802.7 509.1 804 508.3C805.3 507.4 806.7 506.6 808 505.8C809.3 505 810.7 504.2 812 503.4C813.3 502.6 814.7 501.9 816 501.1C817.3 500.3 818.7 499.5 820 498.6C821.3 497.8 822.7 496.9 824 496.1C825.3 495.2 826.7 494.3 828 493.4C829.3 492.5 830.7 491.6 832 490.7C833.3 489.8 834.7 488.9 836 487.9C837.3 486.9 838.7 486 840 485C841.3 484 842.7 483 844 482C845.3 481 846.7 480.1 848 479.1C849.3 478.2 850.7 477.3 852 476.5C853.3 475.6 854.7 474.8 856 474C857.3 473.2 858.7 472.5 860 471.6C861.3 470.8 862.7 469.9 864 468.9C865.3 468 866.7 466.9 868 465.8C869.3 464.7 870.7 463.5 872 462.3C873.3 461.1 874.7 459.9 876 458.6C877.3 457.4 878.7 456.2 880 454.9C881.3 453.6 882.7 452.3 884 451C885.3 449.7 886.7 448.3 888 447C889.3 445.7 890.7 444.4 892 443.1C893.3 441.8 894.7 440.6 896 439.4C897.3 438.2 898.7 437 900 435.9C901.3 434.7 902.7 433.6 904 432.5C905.3 431.4 906.7 430.3 908 429.2C909.3 428.1 910.7 426.9 912 425.8C913.3 424.7 914.7 423.6 916 422.5C917.3 421.4 918.7 420.3 920 419.2C921.3 418.1 922.7 417 924 415.9C925.3 414.9 926.7 413.8 928 412.8C929.3 411.8 930.7 410.9 932 410C933.3 409.1 934.7 408.3 936 407.7C937.3 407 938.7 406.5 940 406.1C941.3 405.6 942.7 405.3 944 405.2C945.3 405.1 946.7 405.1 948 405.2C949.3 405.3 950.7 405.6 952 405.9C953.3 406.3 954.7 406.8 956 407.4C957.3 408 958.7 408.7 960 409.5C961.3 410.2 962.7 411.1 964 411.9C965.3 412.7 966.7 413.5 968 414.4C969.3 415.2 970.7 416 972 416.9C973.3 417.7 974.7 418.5 976 419.4C977.3 420.2 978.7 421 980 421.9C981.3 422.7 982.7 423.5 984 424.4C985.3 425.2 986.7 426 988 426.9C989.3 427.7 990.7 428.5 992 429.3C993.3 430.1 994.7 430.9 996 431.6C997.3 432.3 998.7 433 1000 433.7C1001.3 434.4 1002.7 435 1004 435.6C1005.3 436.2 1006.7 436.8 1008 437.3C1009.3 437.8 1010.7 438.3 1012 438.8C1013.3 439.3 1014.7 439.7 1016 440.1C1017.3 440.5 1018.7 440.9 1020 441.2C1021.3 441.5 1022.7 441.8 1024 442.1C1025.3 442.4 1026.7 442.6 1028 442.8C1029.3 443 1030.7 443.1 1032 443.3C1033.3 443.4 1034.7 443.4 1036 443.4C1037.3 443.4 1038.7 443.4 1040 443.3C1041.3 443.2 1042.7 443.1 1044 443C1045.3 442.8 1046.7 442.6 1048 442.4C1049.3 442.3 1050.7 442.1 1052 442C1053.3 441.9 1054.7 441.9 1056 442C1057.3 442.1 1058.7 442.3 1060 442.6C1061.3 442.8 1062.7 443.2 1064 443.5C1065.3 443.8 1066.7 444.2 1068 444.5C1069.3 444.8 1070.7 445.1 1072 445.4C1073.3 445.7 1074.7 446 1076 446.2C1077.3 446.4 1078.7 446.6 1080 446.7C1081.3 446.9 1082.7 447 1084 447.1C1085.3 447.2 1086.7 447.3 1088 447.4C1089.3 447.5 1090.7 447.6 1092 447.7C1093.3 447.7 1094.7 447.8 1096 447.8C1097.3 447.8 1098.7 447.8 1100 447.8C1101.3 447.8 1102.7 447.7 1104 447.7C1105.3 447.6 1106.7 447.5 1108 447.3C1109.3 447.2 1110.7 447 1112 446.8C1113.3 446.6 1114.7 446.3 1116 446C1117.3 445.7 1118.7 445.4 1120 445C1121.3 444.6 1122.7 444.1 1124 443.6C1125.3 443.1 1126.7 442.4 1128 441.8C1129.3 441.1 1130.7 440.3 1132 439.5C1133.3 438.7 1134.7 437.8 1136 436.9C1137.3 436 1138.7 435.1 1140 434.1C1141.3 433.1 1142.7 432.1 1144 431C1145.3 430 1146.7 428.9 1148 427.8C1149.3 426.7 1150.7 425.6 1152 424.4C1153.3 423.3 1154.7 422.1 1156 420.8C1157.3 419.5 1158.7 418.1 1160 416.6C1161.3 415 1162.7 413.2 1164 411.3C1165.3 409.4 1166.7 407.4 1168 405.3C1169.3 403.2 1170.7 401 1172 398.8C1173.3 396.6 1174.7 394.3 1176 392C1177.3 389.8 1178.7 387.5 1180 385.4C1181.3 383.2 1182.7 381.1 1184 379C1185.3 376.9 1186.7 374.9 1188 372.8C1189.3 370.7 1190.7 368.5 1192 366.3C1193.3 364.1 1194.7 361.8 1196 359.5C1197.3 357.2 1198.7 354.8 1200 352.5C1201.3 350.2 1202.7 347.8 1204 345.5C1205.3 343.2 1206.7 340.9 1208 338.7C1209.3 336.5 1210.7 334.3 1212 332.2C1213.3 330.1 1214.7 328.1 1216 326C1217.3 323.9 1218.7 321.8 1220 319.6C1221.3 317.5 1222.7 315.2 1224 313C1225.3 310.8 1226.7 308.5 1228 306.3C1229.3 304.2 1230.7 302.1 1232 300.1C1233.3 298.1 1234.7 296.2 1236 294.4C1237.3 292.7 1238.7 291 1240 289.5C1241.3 288 1242.7 286.7 1244 285.4C1245.3 284.2 1246.7 283.1 1248 282.1C1249.3 281.2 1250.7 280.3 1252 279.6C1253.3 278.9 1254.7 278.4 1256 278C1257.3 277.6 1258.7 277.4 1260 277.3C1261.3 277.2 1262.7 277.3 1264 277.3C1265.3 277.4 1266.7 277.6 1268 277.8C1269.3 277.9 1270.7 278.2 1272 278.4C1273.3 278.6 1274.7 278.8 1276 278.8C1277.3 278.9 1278.7 278.9 1280 278.9C1281.3 278.8 1282.7 278.6 1284 278.5C1285.3 278.3 1286.7 278 1288 277.7C1289.3 277.5 1290.7 277.2 1292 276.9C1293.3 276.6 1294.7 276.2 1296 276C1297.3 275.7 1298.7 275.4 1300 275.1C1301.3 274.9 1302.7 274.6 1304 274.4C1305.3 274.3 1306.7 274.1 1308 274C1309.3 273.9 1310.7 273.8 1312 273.8C1313.3 273.7 1314.7 273.8 1316 273.7C1317.3 273.7 1318.7 273.7 1320 273.7C1321.3 273.6 1322.7 273.6 1324 273.5C1325.3 273.4 1326.7 273.3 1328 273.3C1329.3 273.2 1330.7 273.1 1332 273.1C1333.3 273 1334.7 272.9 1336 272.9C1337.3 272.8 1338.7 272.8 1340 272.7C1341.3 272.7 1342.7 272.7 1344 272.8C1345.3 272.9 1346.7 273 1348 273.2C1349.3 273.5 1350.7 273.7 1352 274C1353.3 274.4 1354.7 274.7 1356 275.2C1357.3 275.6 1358.7 276.1 1360 276.7C1361.3 277.3 1362.7 277.9 1364 278.6C1365.3 279.2 1366.7 280 1368 280.7C1369.3 281.4 1370.7 282.1 1372 282.8C1373.3 283.5 1374.7 284.1 1376 284.7C1377.3 285.4 1378.7 286 1380 286.7C1381.3 287.3 1382.7 288 1384 288.6C1385.3 289.2 1386.7 289.7 1388 290.2C1389.3 290.7 1390.7 291.1 1392 291.5C1393.3 291.8 1394.7 292.2 1396 292.4C1397.3 292.7 1398.7 292.9 1400 293.1C1401.3 293.3 1402.7 293.4 1404 293.6C1405.3 293.7 1406.7 293.8 1408 293.9C1409.3 294.1 1410.7 294.2 1412 294.3C1413.3 294.4 1414.7 294.5 1416 294.6C1417.3 294.7 1418.7 294.9 1420 295C1421.3 295.1 1422.7 295.3 1424 295.4C1425.3 295.5 1426.7 295.6 1428 295.7C1429.3 295.8 1430.7 295.9 1432 296C1433.3 296.1 1434.7 296.2 1436 296.3C1437.3 296.4 1438.7 296.5 1440 296.6C1441.3 296.7 1442.7 296.8 1444 296.9C1445.3 297 1446.7 297.1 1448 297.1C1449.3 297.2 1450.7 297.3 1452 297.4C1453.3 297.5 1454.7 297.6 1456 297.7C1457.3 297.9 1458.7 298 1460 298.2C1461.3 298.4 1462.7 298.7 1464 299.1C1465.3 299.5 1466.7 299.9 1468 300.5C1469.3 301.1 1470.7 301.7 1472 302.4C1473.3 303.2 1474.7 303.9 1476 304.8C1477.3 305.6 1478.7 306.4 1480 307.4C1481.3 308.3 1482.7 309.3 1484 310.3C1485.3 311.3 1486.7 312.5 1488 313.5C1489.3 314.6 1490.7 315.7 1492 316.7C1493.3 317.7 1494.7 318.7 1496 319.6C1497.3 320.5 1498.7 321.3 1500 322.2C1501.3 323 1502.7 323.9 1504 324.7C1505.3 325.5 1506.7 326.4 1508 327.2C1509.3 328 1510.7 328.9 1512 329.7C1513.3 330.5 1514.7 331.4 1516 332.2C1517.3 333 1518.7 333.8 1520 334.5C1521.3 335.3 1522.7 336 1524 336.6C1525.3 337.3 1526.7 337.8 1528 338.4C1529.3 339 1530.7 339.5 1532 340C1533.3 340.6 1534.7 341.1 1536 341.6C1537.3 342.1 1538.7 342.6 1540 343.1C1541.3 343.7 1542.7 344.2 1544 344.8C1545.3 345.3 1546.7 345.9 1548 346.6C1549.3 347.2 1550.7 347.9 1552 348.6C1553.3 349.3 1554.7 350.1 1556 350.9C1557.3 351.8 1558.7 352.6 1560 353.5C1561.3 354.4 1562.7 355.4 1564 356.3C1565.3 357.2 1566.7 358.2 1568 359.1C1569.3 360 1570.7 361 1572 361.9C1573.3 362.8 1574.7 363.8 1576 364.7C1577.3 365.7 1578.7 366.7 1580 367.8C1581.3 368.8 1582.7 369.9 1584 371C1585.3 372.2 1586.7 373.3 1588 374.5C1589.3 375.7 1590.7 376.8 1592 378C1593.3 379.2 1594.7 380.3 1596 381.4C1597.3 382.5 1598.7 383.6 1600 384.6C1601.3 385.6 1602.7 386.5 1604 387.4C1605.3 388.3 1606.7 389.1 1608 389.8C1609.3 390.5 1610.7 391.2 1612 391.8C1613.3 392.4 1614.7 392.9 1616 393.5C1617.3 394 1618.7 394.5 1620 395C1621.3 395.5 1622.7 396 1624 396.5C1625.3 397 1626.7 397.5 1628 398C1629.3 398.5 1630.7 399 1632 399.6C1633.3 400.1 1634.7 400.6 1636 401.2C1637.3 401.7 1638.7 402.2 1640 402.8C1641.3 403.3 1642.7 403.8 1644 404.4C1645.3 404.9 1646.7 405.4 1648 405.9C1649.3 406.5 1650.7 407 1652 407.5C1653.3 408.1 1654.7 408.6 1656 409.1C1657.3 409.7 1658.7 410.2 1660 410.7C1661.3 411.3 1662.7 411.8 1664 412.3C1665.3 412.8 1666.7 413.3 1668 413.8C1669.3 414.2 1670.7 414.7 1672 415.1C1673.3 415.5 1674.7 415.9 1676 416.3C1677.3 416.7 1678.7 417.1 1680 417.5C1681.3 417.9 1682.7 418.3 1684 418.7C1685.3 419.1 1686.7 419.5 1688 419.9C1689.3 420.3 1690.7 420.6 1692 421C1693.3 421.3 1694.7 421.6 1696 421.9C1697.3 422.2 1698.7 422.5 1700 422.8C1701.3 423.1 1702.7 423.3 1704 423.7C1705.3 424 1706.7 424.3 1708 424.7C1709.3 425.1 1710.7 425.5 1712 425.8C1713.3 426.2 1714.7 426.6 1716 426.9C1717.3 427.3 1718.7 427.6 1720 427.9C1721.3 428.2 1722.7 428.5 1724 428.8C1725.3 429.1 1726.7 429.4 1728 429.6C1729.3 429.9 1730.7 430.2 1732 430.5C1733.3 430.9 1734.7 431.2 1736 431.6C1737.3 432 1738.7 432.4 1740 432.9C1741.3 433.4 1742.7 434 1744 434.6C1745.3 435.2 1746.7 435.8 1748 436.5C1749.3 437.2 1750.7 437.8 1752 438.5C1753.3 439.2 1754.7 439.8 1756 440.5C1757.3 441.2 1758.7 441.8 1760 442.5C1761.3 443.2 1762.7 443.8 1764 444.5C1765.3 445.2 1766.7 445.9 1768 446.5C1769.3 447.2 1770.7 447.9 1772 448.7C1773.3 449.4 1774.7 450.1 1776 450.8C1777.3 451.5 1778.7 452.2 1780 452.9C1781.3 453.6 1782.7 454.3 1784 455C1785.3 455.8 1786.7 456.5 1788 457.3C1789.3 458.1 1790.7 459 1792 459.9C1793.3 460.8 1794.7 461.8 1796 462.8C1797.3 463.7 1798.7 464.8 1800 465.8C1801.3 466.7 1802.7 467.8 1804 468.7C1805.3 469.7 1806.7 470.6 1808 471.5C1809.3 472.3 1810.7 473.1 1812 473.9C1813.3 474.6 1814.7 475.3 1816 476C1817.3 476.7 1818.7 477.3 1820 478C1821.3 478.7 1822.7 479.3 1824 480C1825.3 480.6 1826.7 481.2 1828 481.8C1829.3 482.3 1830.7 482.8 1832 483.3C1833.3 483.8 1834.7 484.2 1836 484.6C1837.3 485 1838.7 485.4 1840 485.8C1841.3 486.1 1842.7 486.5 1844 486.9C1845.3 487.2 1846.7 487.6 1848 487.9C1849.3 488.3 1850.7 488.6 1852 489C1853.3 489.3 1854.7 489.6 1856 490C1857.3 490.3 1858.7 490.6 1860 490.9C1861.3 491.3 1862.7 491.6 1864 491.9C1865.3 492.2 1866.7 492.5 1868 492.9C1869.3 493.2 1870.7 493.5 1872 493.8C1873.3 494.1 1874.7 494.5 1876 494.8C1877.3 495.1 1878.7 495.4 1880 495.8C1881.3 496.1 1882.7 496.5 1884 496.8C1885.3 497.1 1886.7 497.5 1888 497.8C1889.3 498.2 1890.7 498.5 1892 498.9C1893.3 499.2 1894.7 499.6 1896 499.9C1897.3 500.3 1898.7 500.6 1900 501C1901.3 501.3 1902.7 501.6 1904 501.9C1905.3 502.3 1906.7 502.6 1908 502.9C1909.3 503.1 1910.7 503.4 1912 503.6C1913.3 503.7 1914.7 503.9 1916 503.9C1917.3 504 1918.7 503.9 1920 503.9C1921.3 503.8 1922.7 503.6 1924 503.4C1925.3 503.3 1926.7 503 1928 502.7C1929.3 502.4 1930.7 502.1 1932 501.8C1933.3 501.4 1934.7 501.1 1936 500.8C1937.3 500.4 1938.7 500.1 1940 499.8C1941.3 499.5 1942.7 499.1 1944 498.9C1945.3 498.6 1946.7 498.3 1948 498.1C1949.3 497.8 1950.7 497.6 1952 497.4C1953.3 497.2 1954.7 497 1956 496.8C1957.3 496.6 1958.7 496.5 1960 496.3C1961.3 496.1 1962.7 495.9 1964 495.6C1965.3 495.3 1966.7 495 1968 494.5C1969.3 494.1 1970.7 493.6 1972 493.1C1973.3 492.6 1974.7 492 1976 491.4C1977.3 490.8 1978.7 490.1 1980 489.5C1981.3 488.9 1982.7 488.2 1984 487.7C1985.3 487.1 1986.7 486.6 1988 486.1C1989.3 485.7 1990.7 485.3 1992 484.9C1993.3 484.6 1994.7 484.3 1996 483.9C1997.3 483.6 1998.7 483.3 2000 483.1C2001.3 482.8 2002.7 482.5 2004 482.3C2005.3 482 2006.7 481.8 2008 481.6C2009.3 481.4 2010.7 481.3 2012 481.1C2013.3 481 2014.7 480.9 2016 480.8C2017.3 480.7 2018.7 480.7 2020 480.6C2021.3 480.5 2022.7 480.4 2024 480.3C2025.3 480.2 2026.7 480.1 2028 480C2029.3 479.9 2030.7 479.8 2032 479.6C2033.3 479.5 2034.7 479.4 2036 479.3C2037.3 479.2 2038.7 479 2040 478.9C2041.3 478.8 2042.7 478.6 2044 478.5C2045.3 478.4 2046.7 478.2 2048 478.1C2049.3 478 2050.7 477.8 2052 477.7C2053.3 477.6 2054.7 477.5 2056 477.4C2057.3 477.3 2058.7 477.2 2060 477.1C2061.3 477.1 2062.7 477.1 2064 477.2C2065.3 477.3 2066.7 477.4 2068 477.6C2069.3 477.8 2070.7 478.1 2072 478.4C2073.3 478.8 2074.7 479.2 2076 479.6C2077.3 480.1 2078.7 480.5 2080 481C2081.3 481.6 2082.7 482.1 2084 482.7C2085.3 483.3 2086.7 483.9 2088 484.5C2089.3 485.1 2090.7 485.8 2092 486.4C2093.3 487 2094.7 487.6 2096 488.1C2097.3 488.7 2098.7 489.2 2100 489.7C2101.3 490.2 2102.7 490.7 2104 491.1C2105.3 491.6 2106.7 492 2108 492.4C2109.3 492.8 2110.7 493.2 2112 493.6C2113.3 494 2114.7 494.4 2116 494.7C2117.3 495.1 2118.7 495.4 2120 495.7C2121.3 496 2122.7 496.2 2124 496.5C2125.3 496.7 2126.7 497 2128 497.2C2129.3 497.4 2130.7 497.6 2132 497.7C2133.3 497.9 2134.7 498 2136 498.2C2137.3 498.4 2138.7 498.6 2140 498.8C2141.3 499 2142.7 499.3 2144 499.6C2145.3 500 2146.7 500.3 2148 500.7C2149.3 501.1 2150.7 501.5 2152 502C2153.3 502.4 2154.7 502.9 2156 503.3C2157.3 503.8 2158.7 504.3 2160 504.7C2161.3 505.1 2162.7 505.5 2164 505.9C2165.3 506.2 2166.7 506.5 2168 506.7C2169.3 506.9 2171 507 2172 507.2C2173 507.3 2173.7 507.4 2174 507.5" fill="none" stroke="#2196f3" stroke-width="2" stroke-linejoin="round" stroke-linecap="round"/>
<line x1="69" x2="2233" y1="281" y2="281" stroke="#00332c" stroke-width="4" stroke-linecap="round"/>
<line x1="568" x2="2233" y1="610" y2="610" stroke="#00332c" stroke-width="4" stroke-linecap="round"/>
<rect x="21" y="425" width="2168" height="14" fill="rgba(156,39,176,0.5)" stroke="#9c27b0" stroke-width="2"/>
<rect x="387" y="551" width="1802" height="12" fill="rgba(156,39,176,0.5)" stroke="#9c27b0" stroke-width="2"/>
<g id="candles">
<rect x="-0.7" y="483" width="1.8" height="32" fill="#089981"/>
<rect x="-2.3" y="483.8" width="5" height="23.8" fill="#089981"/>
<rect x="4.4" y="462.5" width="1.8" height="43.5" fill="#f23645"/>
<rect x="2.8" y="477.5" width="5" height="27.5" fill="#f23645"/>
<rect x="9.4" y="473.8" width="1.8" height="31.2" fill="#089981"/>
<rect x="7.8" y="477.5" width="5" height="18.5" fill="#089981"/>
<rect x="14.4" y="441" width="1.8" height="49" fill="#089981"/>
<rect x="12.8" y="441" width="5" height="37.8" fill="#089981"/>
<rect x="19.5" y="411" width="1.8" height="49" fill="#f23645"/>
<rect x="17.9" y="435.8" width="5" height="15" fill="#f23645"/>
<rect x="24.5" y="416" width="1.8" height="40" fill="#089981"/>
<rect x="22.9" y="437.5" width="5" height="18" fill="#089981"/>
<rect x="29.5" y="407.5" width="1.8" height="41.5" fill="#f23645"/>
<rect x="27.9" y="418" width="5" height="30" fill="#f23645"/>
<rect x="34.6" y="403" width="1.8" height="50.8" fill="#089981"/>
<rect x="33" y="426" width="5" height="20" fill="#089981"/>
<rect x="39.6" y="398" width="1.8" height="27" fill="#089981"/>
<rect x="38" y="421" width="5" height="3" fill="#089981"/>
<rect x="44.6" y="418" width="1.8" height="17.5" fill="#f23645"/>
<rect x="43" y="423.8" width="5" height="10" fill="#f23645"/>
<rect x="49.7" y="426" width="1.8" height="44.5" fill="#f23645"/>
<rect x="48.1" y="426" width="5" height="43.5" fill="#f23645"/>
<rect x="54.7" y="422" width="1.8" height="54" fill="#089981"/>
<rect x="53.1" y="422" width="5" height="53.5" fill="#089981"/>
<rect x="59.7" y="383" width="1.8" height="3.5" fill="#089981"/>
<rect x="58.1" y="384" width="5" height="1.5" fill="#089981"/>
<rect x="64.7" y="343" width="1.8" height="3.5" fill="#089981"/>
<rect x="63.1" y="344" width="5" height="1.5" fill="#089981"/>
<rect x="69.8" y="304" width="1.8" height="32" fill="#f23645"/>
<rect x="68.2" y="304" width="5" height="14" fill="#f23645"/>
<rect x="74.3" y="294" width="1.8" height="41.5" fill="#089981"/>
<rect x="72.7" y="314.5" width="5" height="2.5" fill="#089981"/>
<rect x="79.3" y="277" width="1.8" height="46.8" fill="#089981"/>
<rect x="77.7" y="284" width="5" height="30.5" fill="#089981"/>
<rect x="84.4" y="268" width="1.8" height="30" fill="#f23645"/>
<rect x="82.8" y="284" width="5" height="13.5" fill="#f23645"/>
<rect x="89.4" y="290" width="1.8" height="35.5" fill="#f23645"/>
<rect x="87.8" y="290" width="5" height="25.5" fill="#f23645"/>
<rect x="94.4" y="267" width="1.8" height="39" fill="#089981"/>
<rect x="92.8" y="267" width="5" height="38.5" fill="#089981"/>
<rect x="99.5" y="228" width="1.8" height="8.5" fill="#089981"/>
<rect x="97.9" y="228.5" width="5" height="2" fill="#089981"/>
<rect x="104.5" y="188.5" width="1.8" height="13.5" fill="#089981"/>
<rect x="102.9" y="189" width="5" height="2" fill="#089981"/>
<rect x="109.5" y="152" width="1.8" height="64" fill="#f23645"/>
<rect x="107.9" y="166" width="5" height="34" fill="#f23645"/>
<rect x="114.6" y="191" width="1.8" height="39.5" fill="#f23645"/>
<rect x="113" y="202" width="5" height="3" fill="#f23645"/>
<rect x="119.6" y="96.9" width="1.8" height="45.1" fill="#f23645"/>
<rect x="118" y="98.8" width="5" height="42.8" fill="#f23645"/>
<rect x="124.6" y="86.9" width="1.8" height="79.1" fill="#089981"/>
<rect x="123" y="105.9" width="5" height="45.6" fill="#089981"/>
<rect x="129.7" y="79" width="1.8" height="25.8" fill="#089981"/>
<rect x="128.1" y="79" width="5" height="19.5" fill="#089981"/>
<rect x="134.7" y="45" width="1.8" height="68.8" fill="#f23645"/>
<rect x="133.1" y="52" width="5" height="41.8" fill="#f23645"/>
<rect x="139.7" y="92.9" width="1.8" height="30.1" fill="#f23645"/>
<rect x="138.1" y="96.9" width="5" height="25.8" fill="#f23645"/>
<rect x="144.8" y="114" width="1.8" height="44.8" fill="#089981"/>
<rect x="143.2" y="114" width="5" height="6.6" fill="#089981"/>
<rect x="149.8" y="110.9" width="1.8" height="66.1" fill="#f23645"/>
<rect x="148.2" y="112.9" width="5" height="63.8" fill="#f23645"/>
<rect x="154.8" y="175" width="1.8" height="25" fill="#f23645"/>
<rect x="153.2" y="195" width="5" height="4.5" fill="#f23645"/>
<rect x="159.9" y="202.5" width="1.8" height="37.5" fill="#f23645"/>
<rect x="158.3" y="236" width="5" height="3.5" fill="#f23645"/>
<rect x="164.9" y="202.5" width="1.8" height="56.2" fill="#089981"/>
<rect x="163.3" y="240" width="5" height="12.5" fill="#089981"/>
<rect x="169.9" y="215.5" width="1.8" height="61.5" fill="#f23645"/>
<rect x="168.3" y="233" width="5" height="43.8" fill="#f23645"/>
<rect x="174.9" y="263.8" width="1.8" height="28.2" fill="#f23645"/>
<rect x="173.3" y="280" width="5" height="11.8" fill="#f23645"/>
<rect x="180" y="246" width="1.8" height="50" fill="#089981"/>
<rect x="178.4" y="269" width="5" height="14.8" fill="#089981"/>
<rect x="185" y="247.5" width="1.8" height="51.5" fill="#f23645"/>
<rect x="183.4" y="250.5" width="5" height="47.5" fill="#f23645"/>
<rect x="190" y="297" width="1.8" height="28" fill="#f23645"/>
<rect x="188.4" y="302" width="5" height="22.5" fill="#f23645"/>
<rect x="195.1" y="291.8" width="1.8" height="60.8" fill="#089981"/>
<rect x="193.5" y="315" width="5" height="10.5" fill="#089981"/>
<rect x="200.1" y="274" width="1.8" height="45" fill="#089981"/>
<rect x="198.5" y="274" width="5" height="41.5" fill="#089981"/>
<rect x="205.1" y="262.5" width="1.8" height="27.5" fill="#f23645"/>
<rect x="203.5" y="265" width="5" height="24.5" fill="#f23645"/>
<rect x="210.2" y="275.8" width="1.8" height="49.2" fill="#f23645"/>
<rect x="208.6" y="304" width="5" height="20.5" fill="#f23645"/>
<rect x="215.2" y="324" width="1.8" height="32.5" fill="#089981"/>
<rect x="213.6" y="353" width="5" height="3" fill="#089981"/>
<rect x="220.2" y="327.5" width="1.8" height="25" fill="#f23645"/>
<rect x="218.6" y="327.5" width="5" height="6.2" fill="#f23645"/>
<rect x="225.3" y="329" width="1.8" height="54" fill="#f23645"/>
<rect x="223.7" y="333" width="5" height="36.5" fill="#f23645"/>
<rect x="230.3" y="350" width="1.8" height="36.8" fill="#089981"/>
<rect x="228.7" y="366" width="5" height="14.5" fill="#089981"/>
<rect x="235.3" y="341" width="1.8" height="21.5" fill="#089981"/>
<rect x="233.7" y="354" width="5" height="1.5" fill="#089981"/>
<rect x="240.4" y="352.5" width="1.8" height="31.5" fill="#f23645"/>
<rect x="238.8" y="352.5" width="5" height="17" fill="#f23645"/>
<rect x="245.4" y="369.5" width="1.8" height="35" fill="#f23645"/>
<rect x="243.8" y="382" width="5" height="15.5" fill="#f23645"/>
<rect x="250.4" y="380" width="1.8" height="26" fill="#f23645"/>
<rect x="248.8" y="386" width="5" height="17" fill="#f23645"/>
<rect x="255.5" y="380" width="1.8" height="34.5" fill="#f23645"/>
<rect x="253.9" y="403" width="5" height="4.5" fill="#f23645"/>
<rect x="260.5" y="382.5" width="1.8" height="33" fill="#f23645"/>
<rect x="258.9" y="410.8" width="5" height="1.8" fill="#f23645"/>
<rect x="265.5" y="398.8" width="1.8" height="46.8" fill="#f23645"/>
<rect x="263.9" y="415" width="5" height="27.5" fill="#f23645"/>
<rect x="270.6" y="391" width="1.8" height="50" fill="#089981"/>
<rect x="269" y="391" width="5" height="40" fill="#089981"/>
<rect x="275.6" y="357.5" width="1.8" height="38.5" fill="#089981"/>
<rect x="274" y="378" width="5" height="17" fill="#089981"/>
<rect x="280.6" y="358.8" width="1.8" height="46.2" fill="#f23645"/>
<rect x="279" y="369.5" width="5" height="35" fill="#f23645"/>
<rect x="285.6" y="406" width="1.8" height="21.5" fill="#089981"/>
<rect x="284" y="418.8" width="5" height="2.5" fill="#089981"/>
<rect x="290.7" y="376" width="1.8" height="50.5" fill="#089981"/>
<rect x="289.1" y="388" width="5" height="38" fill="#089981"/>
<rect x="295.7" y="365" width="1.8" height="31" fill="#089981"/>
<rect x="294.1" y="377.5" width="5" height="11.2" fill="#089981"/>
<rect x="300.7" y="368.8" width="1.8" height="40.8" fill="#f23645"/>
<rect x="299.1" y="387" width="5" height="20.5" fill="#f23645"/>
<rect x="305.8" y="369.5" width="1.8" height="45.5" fill="#089981"/>
<rect x="304.2" y="386" width="5" height="22.8" fill="#089981"/>
<rect x="310.8" y="360" width="1.8" height="31" fill="#f23645"/>
<rect x="309.2" y="374" width="5" height="13.5" fill="#f23645"/>
<rect x="315.8" y="365" width="1.8" height="28" fill="#089981"/>
<rect x="314.2" y="377.5" width="5" height="15" fill="#089981"/>
<rect x="320.9" y="364.5" width="1.8" height="24.2" fill="#089981"/>
<rect x="319.3" y="377.5" width="5" height="1.5" fill="#089981"/>
<rect x="325.9" y="340" width="1.8" height="14.5" fill="#089981"/>
<rect x="324.3" y="340" width="5" height="3.8" fill="#089981"/>
<rect x="330.9" y="333" width="1.8" height="50" fill="#f23645"/>
<rect x="329.3" y="333" width="5" height="49.5" fill="#f23645"/>
<rect x="336" y="371" width="1.8" height="39" fill="#f23645"/>
<rect x="334.4" y="383" width="5" height="26.5" fill="#f23645"/>
<rect x="341" y="384" width="1.8" height="42" fill="#089981"/>
<rect x="339.4" y="412" width="5" height="3" fill="#089981"/>
<rect x="346" y="407" width="1.8" height="41.8" fill="#f23645"/>
<rect x="344.4" y="414" width="5" height="32" fill="#f23645"/>
<rect x="351.1" y="442.5" width="1.8" height="39.5" fill="#f23645"/>
<rect x="349.5" y="442.5" width="5" height="39.2" fill="#f23645"/>
<rect x="356.1" y="515" width="1.8" height="2.5" fill="#089981"/>
<rect x="354.5" y="515.5" width="5" height="1.5" fill="#089981"/>
<rect x="361.1" y="505" width="1.8" height="30" fill="#089981"/>
<rect x="359.5" y="531" width="5" height="3.5" fill="#089981"/>
<rect x="366.2" y="503.8" width="1.8" height="31.2" fill="#089981"/>
<rect x="364.6" y="530" width="5" height="4.5" fill="#089981"/>
<rect x="371.2" y="516" width="1.8" height="41.5" fill="#f23645"/>
<rect x="369.6" y="521" width="5" height="35" fill="#f23645"/>
<rect x="376.2" y="537.5" width="1.8" height="38.2" fill="#f23645"/>
<rect x="374.6" y="558" width="5" height="10.8" fill="#f23645"/>
<rect x="381.3" y="528" width="1.8" height="53.8" fill="#089981"/>
<rect x="379.7" y="538" width="5" height="38" fill="#089981"/>
<rect x="386.3" y="532.5" width="1.8" height="17.5" fill="#f23645"/>
<rect x="384.7" y="535" width="5" height="7" fill="#f23645"/>
<rect x="391.3" y="510" width="1.8" height="38" fill="#089981"/>
<rect x="389.7" y="510" width="5" height="37.5" fill="#089981"/>
<rect x="396.4" y="492.5" width="1.8" height="40" fill="#f23645"/>
<rect x="394.8" y="503" width="5" height="5.8" fill="#f23645"/>
<rect x="401.4" y="502" width="1.8" height="32.5" fill="#f23645"/>
<rect x="399.8" y="504" width="5" height="26.8" fill="#f23645"/>
<rect x="406.4" y="518" width="1.8" height="17" fill="#089981"/>
<rect x="404.8" y="527" width="5" height="7.5" fill="#089981"/>
<rect x="411.4" y="491" width="1.8" height="38" fill="#089981"/>
<rect x="409.8" y="498" width="5" height="30" fill="#089981"/>
<rect x="416.5" y="487" width="1.8" height="43.5" fill="#f23645"/>
<rect x="414.9" y="502.5" width="5" height="26.2" fill="#f23645"/>
<rect x="421.5" y="483.8" width="1.8" height="55.2" fill="#089981"/>
<rect x="419.9" y="492" width="5" height="46.8" fill="#089981"/>
<rect x="426.5" y="466.2" width="1.8" height="36.8" fill="#f23645"/>
<rect x="424.9" y="491.2" width="5" height="11.2" fill="#f23645"/>
<rect x="431.6" y="469.5" width="1.8" height="58" fill="#f23645"/>
<rect x="430" y="493.8" width="5" height="11.8" fill="#f23645"/>
<rect x="436.6" y="488" width="1.8" height="35.8" fill="#f23645"/>
<rect x="435" y="490" width="5" height="32.5" fill="#f23645"/>
<rect x="441.6" y="515" width="1.8" height="28.8" fill="#f23645"/>
<rect x="440" y="528.8" width="5" height="3.8" fill="#f23645"/>
<rect x="446.7" y="493" width="1.8" height="39" fill="#089981"/>
<rect x="445.1" y="493.2" width="5" height="25.5" fill="#089981"/>
<rect x="451.7" y="456" width="1.8" height="34.5" fill="#089981"/>
<rect x="450.1" y="456.2" width="5" height="31.2" fill="#089981"/>
<rect x="456.7" y="441" width="1.8" height="31.5" fill="#f23645"/>
<rect x="455.1" y="441.2" width="5" height="21.8" fill="#f23645"/>
<rect x="461.8" y="449.5" width="1.8" height="43" fill="#f23645"/>
<rect x="460.2" y="476.2" width="5" height="3.8" fill="#f23645"/>
<rect x="466.8" y="462" width="1.8" height="29" fill="#089981"/>
<rect x="465.2" y="476.2" width="5" height="14.5" fill="#089981"/>
<rect x="471.8" y="455" width="1.8" height="24" fill="#089981"/>
<rect x="470.2" y="470.5" width="5" height="8.2" fill="#089981"/>
<rect x="476.9" y="471" width="1.8" height="30" fill="#f23645"/>
<rect x="475.3" y="471.2" width="5" height="27.5" fill="#f23645"/>
<rect x="481.9" y="481.2" width="1.8" height="21.8" fill="#089981"/>
<rect x="480.3" y="484.5" width="5" height="18" fill="#089981"/>
<rect x="486.9" y="477.5" width="1.8" height="37" fill="#089981"/>
<rect x="485.3" y="478.8" width="5" height="6.8" fill="#089981"/>
<rect x="492" y="468" width="1.8" height="33.2" fill="#089981"/>
<rect x="490.4" y="470" width="5" height="19.2" fill="#089981"/>
<rect x="497" y="455" width="1.8" height="25.5" fill="#f23645"/>
<rect x="495.4" y="470.5" width="5" height="3.2" fill="#f23645"/>
<rect x="502" y="458.8" width="1.8" height="30" fill="#f23645"/>
<rect x="500.4" y="465" width="5" height="20" fill="#f23645"/>
<rect x="507.1" y="475" width="1.8" height="37" fill="#f23645"/>
<rect x="505.5" y="481.2" width="5" height="21.2" fill="#f23645"/>
<rect x="512.1" y="493.8" width="1.8" height="47" fill="#f23645"/>
<rect x="510.5" y="510" width="5" height="15.8" fill="#f23645"/>
<rect x="517.1" y="524" width="1.8" height="18.5" fill="#f23645"/>
<rect x="515.5" y="525" width="5" height="16.2" fill="#f23645"/>
<rect x="522.1" y="523.8" width="1.8" height="26.2" fill="#089981"/>
<rect x="520.5" y="527.5" width="5" height="15" fill="#089981"/>
<rect x="527.2" y="516.2" width="1.8" height="21.2" fill="#f23645"/>
<rect x="525.6" y="525" width="5" height="5.8" fill="#f23645"/>
<rect x="532.2" y="513.8" width="1.8" height="26.2" fill="#f23645"/>
<rect x="530.6" y="521.8" width="5" height="9.5" fill="#f23645"/>
<rect x="537.2" y="503.8" width="1.8" height="38" fill="#089981"/>
<rect x="535.6" y="521.2" width="5" height="5" fill="#089981"/>
<rect x="542.3" y="513.8" width="1.8" height="29.2" fill="#f23645"/>
<rect x="540.7" y="532" width="5" height="6.8" fill="#f23645"/>
<rect x="547.3" y="529" width="1.8" height="31" fill="#f23645"/>
<rect x="545.7" y="529.2" width="5" height="20.8" fill="#f23645"/>
<rect x="552.3" y="548" width="1.8" height="14.5" fill="#089981"/>
<rect x="550.7" y="553.8" width="5" height="2.5" fill="#089981"/>
<rect x="557.4" y="558" width="1.8" height="42.5" fill="#f23645"/>
<rect x="555.8" y="558" width="5" height="42" fill="#f23645"/>
<rect x="562.4" y="561.2" width="1.8" height="57.8" fill="#089981"/>
<rect x="560.8" y="575.8" width="5" height="43" fill="#089981"/>
<rect x="567.4" y="550" width="1.8" height="25.5" fill="#089981"/>
<rect x="565.8" y="553.8" width="5" height="17.5" fill="#089981"/>
<rect x="572.5" y="553.8" width="1.8" height="50.2" fill="#f23645"/>
<rect x="570.9" y="570.5" width="5" height="33.2" fill="#f23645"/>
<rect x="577.5" y="604" width="1.8" height="32.6" fill="#f23645"/>
<rect x="575.9" y="606" width="5" height="14.7" fill="#f23645"/>
<rect x="582.5" y="611" width="1.8" height="37.6" fill="#f23645"/>
<rect x="580.9" y="635" width="5" height="9.8" fill="#f23645"/>
<rect x="586" y="594.2" width="5" height="53.6" fill="#089981"/>
<rect x="592.6" y="573.2" width="1.8" height="26.8" fill="#089981"/>
<rect x="591" y="573.2" width="5" height="8" fill="#089981"/>
<rect x="597.6" y="557.5" width="1.8" height="53.2" fill="#089981"/>
<rect x="596" y="565" width="5" height="5.8" fill="#089981"/>
<rect x="602.7" y="530" width="1.8" height="35" fill="#089981"/>
<rect x="601.1" y="533.2" width="5" height="31.8" fill="#089981"/>
<rect x="607.7" y="513.8" width="1.8" height="28.8" fill="#f23645"/>
<rect x="606.1" y="528" width="5" height="8.2" fill="#f23645"/>
<rect x="612.7" y="510" width="1.8" height="58" fill="#089981"/>
<rect x="611.1" y="522.5" width="5" height="23.8" fill="#089981"/>
<rect x="617.8" y="508" width="1.8" height="42" fill="#089981"/>
<rect x="616.2" y="534.5" width="5" height="2" fill="#089981"/>
<rect x="622.8" y="537.5" width="1.8" height="31.2" fill="#f23645"/>
<rect x="621.2" y="547.5" width="5" height="7.5" fill="#f23645"/>
<rect x="626.2" y="524.2" width="5" height="44.5" fill="#089981"/>
<rect x="632.8" y="502" width="1.8" height="41.8" fill="#f23645"/>
<rect x="631.2" y="513.8" width="5" height="8.8" fill="#f23645"/>
<rect x="637.9" y="505" width="1.8" height="26.8" fill="#f23645"/>
<rect x="636.3" y="520" width="5" height="5" fill="#f23645"/>
<rect x="642.9" y="510" width="1.8" height="36.2" fill="#f23645"/>
<rect x="641.3" y="523.5" width="5" height="1.8" fill="#f23645"/>
<rect x="647.9" y="530" width="1.8" height="28.8" fill="#f23645"/>
<rect x="646.3" y="543.8" width="5" height="15" fill="#f23645"/>
<rect x="653" y="547.5" width="1.8" height="42" fill="#f23645"/>
<rect x="651.4" y="557.5" width="5" height="32" fill="#f23645"/>
<rect x="658" y="551.2" width="1.8" height="46.2" fill="#089981"/>
<rect x="656.4" y="557.5" width="5" height="40" fill="#089981"/>
<rect x="663" y="547.5" width="1.8" height="45" fill="#089981"/>
<rect x="661.4" y="563.8" width="5" height="28.8" fill="#089981"/>
<rect x="668.1" y="553.8" width="1.8" height="41.2" fill="#f23645"/>
<rect x="666.5" y="562.5" width="5" height="30.5" fill="#f23645"/>
<rect x="673.1" y="565" width="1.8" height="35" fill="#089981"/>
<rect x="671.5" y="571.2" width="5" height="23.8" fill="#089981"/>
<rect x="678.1" y="549.2" width="1.8" height="42" fill="#089981"/>
<rect x="676.5" y="553.8" width="5" height="33.8" fill="#089981"/>
<rect x="683.2" y="541.2" width="1.8" height="23.8" fill="#089981"/>
<rect x="681.6" y="553.8" width="5" height="6.2" fill="#089981"/>
<rect x="688.2" y="543.8" width="1.8" height="36.2" fill="#089981"/>
<rect x="686.6" y="553.8" width="5" height="15" fill="#089981"/>
<rect x="693.2" y="532.5" width="1.8" height="46.2" fill="#089981"/>
<rect x="691.6" y="553.8" width="5" height="2.5" fill="#089981"/>
<rect x="696.7" y="535" width="5" height="28.8" fill="#089981"/>
<rect x="703.3" y="508.8" width="1.8" height="36.2" fill="#089981"/>
<rect x="701.7" y="512.5" width="5" height="16.2" fill="#089981"/>
<rect x="708.3" y="491.2" width="1.8" height="47.5" fill="#f23645"/>
<rect x="706.7" y="498.2" width="5" height="40.5" fill="#f23645"/>
<rect x="713.4" y="502.5" width="1.8" height="45" fill="#089981"/>
<rect x="711.8" y="518.8" width="5" height="22.5" fill="#089981"/>
<rect x="718.4" y="493.8" width="1.8" height="30" fill="#089981"/>
<rect x="716.8" y="512.5" width="5" height="11.2" fill="#089981"/>
<rect x="723.4" y="486.2" width="1.8" height="36.2" fill="#089981"/>
<rect x="721.8" y="507" width="5" height="8.5" fill="#089981"/>
<rect x="728.5" y="493" width="1.8" height="47" fill="#f23645"/>
<rect x="726.9" y="518.8" width="5" height="8.8" fill="#f23645"/>
<rect x="733.5" y="508.8" width="1.8" height="34.2" fill="#f23645"/>
<rect x="731.9" y="538.8" width="5" height="3.2" fill="#f23645"/>
<rect x="738.5" y="523.8" width="1.8" height="26.2" fill="#089981"/>
<rect x="736.9" y="538.5" width="5" height="1.8" fill="#089981"/>
<rect x="743.6" y="527.5" width="1.8" height="41.2" fill="#f23645"/>
<rect x="742" y="531.2" width="5" height="31.2" fill="#f23645"/>
<rect x="748.6" y="517.5" width="1.8" height="48" fill="#089981"/>
<rect x="747" y="538.8" width="5" height="26.8" fill="#089981"/>
<rect x="753.6" y="529.5" width="1.8" height="24.2" fill="#f23645"/>
<rect x="752" y="535" width="5" height="18.8" fill="#f23645"/>
<rect x="758.6" y="542.5" width="1.8" height="20" fill="#f23645"/>
<rect x="757" y="547.5" width="5" height="10" fill="#f23645"/>
<rect x="763.7" y="515.5" width="1.8" height="3" fill="#089981"/>
<rect x="762.1" y="516.4" width="5" height="1.3" fill="#089981"/>
<rect x="768.7" y="474.8" width="1.8" height="3.2" fill="#089981"/>
<rect x="767.1" y="475.7" width="5" height="1.3" fill="#089981"/>
<rect x="773.7" y="433.8" width="1.8" height="24.2" fill="#089981"/>
<rect x="772.1" y="435.8" width="5" height="1.5" fill="#089981"/>
<rect x="778.8" y="413" width="1.8" height="47" fill="#f23645"/>
<rect x="777.2" y="413" width="5" height="32.5" fill="#f23645"/>
<rect x="782.2" y="438.8" width="5" height="37.5" fill="#f23645"/>
<rect x="788.8" y="451.2" width="1.8" height="38.2" fill="#089981"/>
<rect x="787.2" y="462.5" width="5" height="3" fill="#089981"/>
<rect x="793.9" y="428" width="1.8" height="34.5" fill="#089981"/>
<rect x="792.3" y="437.5" width="5" height="25" fill="#089981"/>
<rect x="798.9" y="425" width="1.8" height="18.8" fill="#089981"/>
<rect x="797.3" y="430" width="5" height="8.8" fill="#089981"/>
<rect x="802.3" y="428" width="5" height="23.8" fill="#f23645"/>
<rect x="809" y="430.5" width="1.8" height="32" fill="#089981"/>
<rect x="807.4" y="433.8" width="5" height="11.2" fill="#089981"/>
<rect x="814" y="424.2" width="1.8" height="13.2" fill="#f23645"/>
<rect x="812.4" y="431.2" width="5" height="6.2" fill="#f23645"/>
<rect x="819" y="398" width="1.8" height="33.2" fill="#089981"/>
<rect x="817.4" y="417.5" width="5" height="13.8" fill="#089981"/>
<rect x="824.1" y="405.5" width="1.8" height="29.5" fill="#f23645"/>
<rect x="822.5" y="412" width="5" height="16.8" fill="#f23645"/>
<rect x="829.1" y="422" width="1.8" height="25.5" fill="#f23645"/>
<rect x="827.5" y="423.8" width="5" height="5.8" fill="#f23645"/>
<rect x="834.1" y="406.2" width="1.8" height="30" fill="#089981"/>
<rect x="832.5" y="408.2" width="5" height="18" fill="#089981"/>
<rect x="839.2" y="378.2" width="1.8" height="38.8" fill="#089981"/>
<rect x="837.6" y="378.2" width="5" height="28.8" fill="#089981"/>
<rect x="844.2" y="368.2" width="1.8" height="28.8" fill="#f23645"/>
<rect x="842.6" y="368.2" width="5" height="22.2" fill="#f23645"/>
<rect x="849.2" y="355" width="1.8" height="37.5" fill="#089981"/>
<rect x="847.6" y="371.2" width="5" height="3.2" fill="#089981"/>
<rect x="852.7" y="380" width="5" height="34.5" fill="#f23645"/>
<rect x="859.3" y="393.8" width="1.8" height="53.8" fill="#089981"/>
<rect x="857.7" y="406.2" width="5" height="22.5" fill="#089981"/>
<rect x="864.3" y="388.2" width="1.8" height="18" fill="#089981"/>
<rect x="862.7" y="388.2" width="5" height="5.5" fill="#089981"/>
<rect x="869.3" y="349.2" width="1.8" height="32" fill="#f23645"/>
<rect x="867.7" y="371.2" width="5" height="10" fill="#f23645"/>
<rect x="872.8" y="324.2" width="5" height="57" fill="#089981"/>
<rect x="879.4" y="311.2" width="1.8" height="35" fill="#f23645"/>
<rect x="877.8" y="323.8" width="5" height="18.8" fill="#f23645"/>
<rect x="884.4" y="302.5" width="1.8" height="35" fill="#089981"/>
<rect x="882.8" y="323.8" width="5" height="13.8" fill="#089981"/>
<rect x="889.5" y="313.8" width="1.8" height="40" fill="#f23645"/>
<rect x="887.9" y="320.8" width="5" height="17.2" fill="#f23645"/>
<rect x="894.5" y="328.8" width="1.8" height="31.8" fill="#f23645"/>
<rect x="892.9" y="340.5" width="5" height="17" fill="#f23645"/>
<rect x="899.5" y="327.5" width="1.8" height="31.2" fill="#f23645"/>
<rect x="897.9" y="345" width="5" height="10" fill="#f23645"/>
<rect x="904.6" y="345" width="1.8" height="34.5" fill="#089981"/>
<rect x="903" y="345" width="5" height="10.8" fill="#089981"/>
<rect x="909.6" y="320.8" width="1.8" height="19.8" fill="#089981"/>
<rect x="908" y="324.5" width="5" height="16" fill="#089981"/>
<rect x="914.6" y="317.5" width="1.8" height="28.8" fill="#f23645"/>
<rect x="913" y="317.5" width="5" height="23.8" fill="#f23645"/>
<rect x="919.7" y="320" width="1.8" height="32.5" fill="#089981"/>
<rect x="918.1" y="327" width="5" height="9.2" fill="#089981"/>
<rect x="924.7" y="312" width="1.8" height="34.2" fill="#089981"/>
<rect x="923.1" y="320.8" width="5" height="14.8" fill="#089981"/>
<rect x="929.7" y="290" width="1.8" height="41.2" fill="#089981"/>
<rect x="928.1" y="291.2" width="5" height="33" fill="#089981"/>
<rect x="934.8" y="276.2" width="1.8" height="63.8" fill="#f23645"/>
<rect x="933.2" y="276.2" width="5" height="43.8" fill="#f23645"/>
<rect x="939.8" y="311.2" width="1.8" height="42.5" fill="#f23645"/>
<rect x="938.2" y="311.2" width="5" height="32.5" fill="#f23645"/>
<rect x="944.8" y="343.8" width="1.8" height="40.8" fill="#f23645"/>
<rect x="943.2" y="350" width="5" height="34.5" fill="#f23645"/>
<rect x="949.9" y="388.2" width="1.8" height="31.2" fill="#f23645"/>
<rect x="948.3" y="412" width="5" height="7.5" fill="#f23645"/>
<rect x="954.9" y="439.5" width="1.8" height="20" fill="#f23645"/>
<rect x="953.3" y="453.2" width="5" height="6.2" fill="#f23645"/>
<rect x="959.9" y="470.8" width="1.8" height="31" fill="#089981"/>
<rect x="958.3" y="486.2" width="5" height="15.5" fill="#089981"/>
<rect x="965" y="461.2" width="1.8" height="38.8" fill="#089981"/>
<rect x="963.4" y="482" width="5" height="4.2" fill="#089981"/>
<rect x="970" y="463" width="1.8" height="39.5" fill="#f23645"/>
<rect x="968.4" y="483.8" width="5" height="6.2" fill="#f23645"/>
<rect x="975" y="473.8" width="1.8" height="50.5" fill="#f23645"/>
<rect x="973.4" y="491.2" width="5" height="33" fill="#f23645"/>
<rect x="980" y="488" width="1.8" height="60.8" fill="#089981"/>
<rect x="978.4" y="503" width="5" height="40.2" fill="#089981"/>
<rect x="985.1" y="476.2" width="1.8" height="31.2" fill="#089981"/>
<rect x="983.5" y="481.2" width="5" height="26.2" fill="#089981"/>
<rect x="990.1" y="467" width="1.8" height="28.8" fill="#f23645"/>
<rect x="988.5" y="480.8" width="5" height="15" fill="#f23645"/>
<rect x="995.1" y="493" width="1.8" height="39.5" fill="#f23645"/>
<rect x="993.5" y="495" width="5" height="25.5" fill="#f23645"/>
<rect x="1000.2" y="481.2" width="1.8" height="44.2" fill="#089981"/>
<rect x="998.6" y="486.2" width="5" height="39.2" fill="#089981"/>
<rect x="1003.6" y="482" width="5" height="29.8" fill="#f23645"/>
<rect x="1010.2" y="498.2" width="1.8" height="29.2" fill="#089981"/>
<rect x="1008.6" y="515" width="5" height="4.5" fill="#089981"/>
<rect x="1015.3" y="486.2" width="1.8" height="27.5" fill="#f23645"/>
<rect x="1013.7" y="500" width="5" height="6.2" fill="#f23645"/>
<rect x="1018.7" y="463.2" width="5" height="42.5" fill="#089981"/>
<rect x="1025.3" y="430.8" width="1.8" height="50" fill="#f23645"/>
<rect x="1023.7" y="453.8" width="5" height="18.8" fill="#f23645"/>
<rect x="1030.4" y="451.2" width="1.8" height="36.2" fill="#089981"/>
<rect x="1028.8" y="457.5" width="5" height="10" fill="#089981"/>
<rect x="1033.8" y="423.2" width="5" height="28" fill="#089981"/>
<rect x="1040.4" y="386.2" width="1.8" height="68.2" fill="#f23645"/>
<rect x="1038.8" y="411.8" width="5" height="33.2" fill="#f23645"/>
<rect x="1045.5" y="417" width="1.8" height="37.5" fill="#089981"/>
<rect x="1043.9" y="442" width="5" height="10.5" fill="#089981"/>
<rect x="1050.5" y="403.8" width="1.8" height="41.2" fill="#089981"/>
<rect x="1048.9" y="414.5" width="5" height="24.2" fill="#089981"/>
<rect x="1055.5" y="406.2" width="1.8" height="36.2" fill="#f23645"/>
<rect x="1053.9" y="428.8" width="5" height="13.8" fill="#f23645"/>
<rect x="1060.6" y="427" width="1.8" height="28.8" fill="#f23645"/>
<rect x="1059" y="437.5" width="5" height="18.2" fill="#f23645"/>
<rect x="1065.6" y="428.8" width="1.8" height="42.5" fill="#f23645"/>
<rect x="1064" y="442.5" width="5" height="24.5" fill="#f23645"/>
<rect x="1070.6" y="460" width="1.8" height="17.5" fill="#f23645"/>
<rect x="1069" y="460" width="5" height="11.2" fill="#f23645"/>
<rect x="1075.7" y="432.5" width="1.8" height="35" fill="#089981"/>
<rect x="1074.1" y="442.5" width="5" height="25" fill="#089981"/>
<rect x="1080.7" y="417" width="1.8" height="36.8" fill="#f23645"/>
<rect x="1079.1" y="429.5" width="5" height="24.2" fill="#f23645"/>
<rect x="1084.1" y="449.2" width="5" height="33.2" fill="#f23645"/>
<rect x="1090.8" y="461.2" width="1.8" height="26.2" fill="#089981"/>
<rect x="1089.2" y="481" width="5" height="2.5" fill="#089981"/>
<rect x="1095.8" y="461.2" width="1.8" height="25" fill="#089981"/>
<rect x="1094.2" y="468.8" width="5" height="17.5" fill="#089981"/>
<rect x="1100.8" y="444.5" width="1.8" height="21.8" fill="#089981"/>
<rect x="1099.2" y="452.5" width="5" height="13.8" fill="#089981"/>
<rect x="1105.8" y="418.8" width="1.8" height="30" fill="#089981"/>
<rect x="1104.2" y="422" width="5" height="19.2" fill="#089981"/>
<rect x="1110.9" y="416.2" width="1.8" height="28.8" fill="#f23645"/>
<rect x="1109.3" y="421.2" width="5" height="16.2" fill="#f23645"/>
<rect x="1115.9" y="405" width="1.8" height="24.5" fill="#f23645"/>
<rect x="1114.3" y="417.5" width="5" height="10" fill="#f23645"/>
<rect x="1120.9" y="393.2" width="1.8" height="34.2" fill="#f23645"/>
<rect x="1119.3" y="417" width="5" height="9.2" fill="#f23645"/>
<rect x="1126" y="393.8" width="1.8" height="38.8" fill="#089981"/>
<rect x="1124.4" y="398.8" width="5" height="33.8" fill="#089981"/>
<rect x="1131" y="368.2" width="1.8" height="31.8" fill="#089981"/>
<rect x="1129.4" y="376.2" width="5" height="21.2" fill="#089981"/>
<rect x="1136" y="354.2" width="1.8" height="27.5" fill="#f23645"/>
<rect x="1134.4" y="354.2" width="5" height="7" fill="#f23645"/>
<rect x="1141.1" y="345.5" width="1.8" height="43.2" fill="#f23645"/>
<rect x="1139.5" y="345.5" width="5" height="5.8" fill="#f23645"/>
<rect x="1146.1" y="328" width="1.8" height="37.8" fill="#089981"/>
<rect x="1144.5" y="357" width="5" height="2.5" fill="#089981"/>
<rect x="1151.1" y="309.2" width="1.8" height="54.5" fill="#089981"/>
<rect x="1149.5" y="309.2" width="5" height="49" fill="#089981"/>
<rect x="1156.2" y="276.2" width="1.8" height="37.5" fill="#f23645"/>
<rect x="1154.6" y="298.8" width="5" height="8.8" fill="#f23645"/>
<rect x="1161.2" y="251.2" width="1.8" height="65" fill="#089981"/>
<rect x="1159.6" y="251.2" width="5" height="48.8" fill="#089981"/>
<rect x="1166.2" y="227" width="1.8" height="45" fill="#f23645"/>
<rect x="1164.6" y="227" width="5" height="21.8" fill="#f23645"/>
<rect x="1171.3" y="205" width="1.8" height="57" fill="#089981"/>
<rect x="1169.7" y="217" width="5" height="26" fill="#089981"/>
<rect x="1176.3" y="186.2" width="1.8" height="30" fill="#089981"/>
<rect x="1174.7" y="195.5" width="5" height="2.5" fill="#089981"/>
<rect x="1181.3" y="193.8" width="1.8" height="39.2" fill="#f23645"/>
<rect x="1179.7" y="195" width="5" height="28" fill="#f23645"/>
<rect x="1186.4" y="199.5" width="1.8" height="49.2" fill="#089981"/>
<rect x="1184.8" y="220.8" width="5" height="1.8" fill="#089981"/>
<rect x="1191.4" y="183" width="1.8" height="31.2" fill="#f23645"/>
<rect x="1189.8" y="204.2" width="5" height="3.8" fill="#f23645"/>
<rect x="1196.4" y="182" width="1.8" height="31.8" fill="#f23645"/>
<rect x="1194.8" y="197.5" width="5" height="12.5" fill="#f23645"/>
<rect x="1201.5" y="160.5" width="1.8" height="41.5" fill="#089981"/>
<rect x="1199.9" y="160.5" width="5" height="37.5" fill="#089981"/>
<rect x="1206.5" y="125" width="1.8" height="58" fill="#f23645"/>
<rect x="1204.9" y="132.5" width="5" height="43.2" fill="#f23645"/>
<rect x="1211.5" y="136.2" width="1.8" height="52.5" fill="#089981"/>
<rect x="1209.9" y="150" width="5" height="38.8" fill="#089981"/>
<rect x="1216.5" y="138" width="1.8" height="32" fill="#f23645"/>
<rect x="1214.9" y="141.2" width="5" height="19.2" fill="#f23645"/>
<rect x="1221.6" y="146.2" width="1.8" height="16.8" fill="#f23645"/>
<rect x="1220" y="146.2" width="5" height="11.2" fill="#f23645"/>
<rect x="1226.6" y="115.8" width="1.8" height="34.2" fill="#089981"/>
<rect x="1225" y="115.8" width="5" height="29.8" fill="#089981"/>
<rect x="1231.6" y="90" width="1.8" height="36.2" fill="#f23645"/>
<rect x="1230" y="104.5" width="5" height="3" fill="#f23645"/>
<rect x="1236.7" y="98" width="1.8" height="45.8" fill="#f23645"/>
<rect x="1235.1" y="102" width="5" height="31.8" fill="#f23645"/>
<rect x="1241.7" y="103.8" width="1.8" height="35" fill="#f23645"/>
<rect x="1240.1" y="121.2" width="5" height="14.2" fill="#f23645"/>
<rect x="1245.1" y="127.5" width="5" height="41.2" fill="#f23645"/>
<rect x="1251.8" y="201" width="1.8" height="3" fill="#089981"/>
<rect x="1250.2" y="201.8" width="5" height="1.3" fill="#089981"/>
<rect x="1256.8" y="209.2" width="1.8" height="14.5" fill="#089981"/>
<rect x="1255.2" y="221" width="5" height="2" fill="#089981"/>
<rect x="1261.8" y="203" width="1.8" height="62" fill="#f23645"/>
<rect x="1260.2" y="219.2" width="5" height="45.8" fill="#f23645"/>
<rect x="1266.9" y="281.2" width="1.8" height="18.8" fill="#089981"/>
<rect x="1265.3" y="296.8" width="5" height="1.5" fill="#089981"/>
<rect x="1271.9" y="267" width="1.8" height="55" fill="#089981"/>
<rect x="1270.3" y="275" width="5" height="47" fill="#089981"/>
<rect x="1276.9" y="267" width="1.8" height="61.8" fill="#f23645"/>
<rect x="1275.3" y="267" width="5" height="42.5" fill="#f23645"/>
<rect x="1282" y="277.5" width="1.8" height="41.2" fill="#089981"/>
<rect x="1280.4" y="283.8" width="5" height="24.2" fill="#089981"/>
<rect x="1287" y="258.2" width="1.8" height="34.2" fill="#f23645"/>
<rect x="1285.4" y="268.8" width="5" height="13.2" fill="#f23645"/>
<rect x="1292" y="236.2" width="1.8" height="58.8" fill="#089981"/>
<rect x="1290.4" y="236.2" width="5" height="42.5" fill="#089981"/>
<rect x="1297.1" y="219.2" width="1.8" height="33.2" fill="#f23645"/>
<rect x="1295.5" y="225" width="5" height="17.5" fill="#f23645"/>
<rect x="1302.1" y="219.2" width="1.8" height="28.8" fill="#f23645"/>
<rect x="1300.5" y="233.8" width="5" height="9.2" fill="#f23645"/>
<rect x="1307.1" y="224.2" width="1.8" height="39.5" fill="#f23645"/>
<rect x="1305.5" y="242" width="5" height="21.8" fill="#f23645"/>
<rect x="1312.2" y="237" width="1.8" height="41.8" fill="#f23645"/>
<rect x="1310.6" y="253.8" width="5" height="18.8" fill="#f23645"/>
<rect x="1317.2" y="257.5" width="1.8" height="50.5" fill="#f23645"/>
<rect x="1315.6" y="264.5" width="5" height="30.5" fill="#f23645"/>
<rect x="1322.2" y="261.2" width="1.8" height="31.2" fill="#089981"/>
<rect x="1320.6" y="266.2" width="5" height="17.5" fill="#089981"/>
<rect x="1327.2" y="248" width="1.8" height="19" fill="#089981"/>
<rect x="1325.6" y="264.8" width="5" height="2.2" fill="#089981"/>
<rect x="1332.3" y="260" width="1.8" height="32" fill="#f23645"/>
<rect x="1330.7" y="260" width="5" height="25" fill="#f23645"/>
<rect x="1337.3" y="255" width="1.8" height="43.8" fill="#089981"/>
<rect x="1335.7" y="260" width="5" height="32.5" fill="#089981"/>
<rect x="1340.7" y="249.2" width="5" height="13.2" fill="#f23645"/>
<rect x="1347.4" y="247" width="1.8" height="28.5" fill="#f23645"/>
<rect x="1345.8" y="260" width="5" height="12.5" fill="#f23645"/>
<rect x="1352.4" y="282" width="1.8" height="27.5" fill="#f23645"/>
<rect x="1350.8" y="297.5" width="5" height="12" fill="#f23645"/>
<rect x="1357.4" y="292.5" width="1.8" height="35" fill="#f23645"/>
<rect x="1355.8" y="300" width="5" height="17.5" fill="#f23645"/>
<rect x="1360.9" y="311.2" width="5" height="49.5" fill="#f23645"/>
<rect x="1367.5" y="335" width="1.8" height="38.8" fill="#089981"/>
<rect x="1365.9" y="345" width="5" height="28.8" fill="#089981"/>
<rect x="1372.5" y="317" width="1.8" height="32.5" fill="#089981"/>
<rect x="1370.9" y="339.5" width="5" height="2.5" fill="#089981"/>
<rect x="1377.6" y="320" width="1.8" height="21.2" fill="#f23645"/>
<rect x="1376" y="337.5" width="5" height="2.5" fill="#f23645"/>
<rect x="1382.6" y="331.2" width="1.8" height="34.5" fill="#f23645"/>
<rect x="1381" y="341.2" width="5" height="7.5" fill="#f23645"/>
<rect x="1387.6" y="329.2" width="1.8" height="27" fill="#f23645"/>
<rect x="1386" y="345" width="5" height="3" fill="#f23645"/>
<rect x="1392.7" y="325" width="1.8" height="27" fill="#089981"/>
<rect x="1391.1" y="325" width="5" height="23.2" fill="#089981"/>
<rect x="1397.7" y="315.5" width="1.8" height="15.8" fill="#089981"/>
<rect x="1396.1" y="323.8" width="5" height="2.5" fill="#089981"/>
<rect x="1402.7" y="302.5" width="1.8" height="36.2" fill="#089981"/>
<rect x="1401.1" y="312.5" width="5" height="9.5" fill="#089981"/>
<rect x="1407.8" y="289.5" width="1.8" height="23" fill="#f23645"/>
<rect x="1406.2" y="298.8" width="5" height="10" fill="#f23645"/>
<rect x="1412.8" y="288.8" width="1.8" height="25" fill="#f23645"/>
<rect x="1411.2" y="297.5" width="5" height="10.5" fill="#f23645"/>
<rect x="1417.8" y="290" width="1.8" height="25" fill="#f23645"/>
<rect x="1416.2" y="290" width="5" height="21.2" fill="#f23645"/>
<rect x="1422.9" y="298" width="1.8" height="24" fill="#089981"/>
<rect x="1421.3" y="308.8" width="5" height="13.2" fill="#089981"/>
<rect x="1427.9" y="301.2" width="1.8" height="18.8" fill="#f23645"/>
<rect x="1426.3" y="303.8" width="5" height="7.5" fill="#f23645"/>
<rect x="1432.9" y="296.2" width="1.8" height="21.2" fill="#f23645"/>
<rect x="1431.3" y="303.8" width="5" height="4.2" fill="#f23645"/>
<rect x="1438" y="297" width="1.8" height="15" fill="#089981"/>
<rect x="1436.4" y="305" width="5" height="7" fill="#089981"/>
<rect x="1443" y="273.2" width="1.8" height="28.8" fill="#089981"/>
<rect x="1441.4" y="295" width="5" height="7" fill="#089981"/>
<rect x="1448" y="273.8" width="1.8" height="27.5" fill="#089981"/>
<rect x="1446.4" y="293.2" width="5" height="4.2" fill="#089981"/>
<rect x="1453" y="277" width="1.8" height="28" fill="#089981"/>
<rect x="1451.4" y="299.5" width="5" height="2.5" fill="#089981"/>
<rect x="1458.1" y="278.2" width="1.8" height="21.8" fill="#f23645"/>
<rect x="1456.5" y="297.5" width="5" height="2" fill="#f23645"/>
<rect x="1463.1" y="292" width="1.8" height="37.5" fill="#f23645"/>
<rect x="1461.5" y="299.5" width="5" height="30" fill="#f23645"/>
<rect x="1468.1" y="321.2" width="1.8" height="38.2" fill="#f23645"/>
<rect x="1466.5" y="328.8" width="5" height="30.8" fill="#f23645"/>
<rect x="1473.2" y="359.5" width="1.8" height="34.2" fill="#f23645"/>
<rect x="1471.6" y="359.5" width="5" height="23" fill="#f23645"/>
<rect x="1478.2" y="366.2" width="1.8" height="31.8" fill="#f23645"/>
<rect x="1476.6" y="382.5" width="5" height="11.2" fill="#f23645"/>
<rect x="1483.2" y="382.5" width="1.8" height="42" fill="#f23645"/>
<rect x="1481.6" y="401.2" width="5" height="23.2" fill="#f23645"/>
<rect x="1488.3" y="417.5" width="1.8" height="33.8" fill="#f23645"/>
<rect x="1486.7" y="417.5" width="5" height="7.5" fill="#f23645"/>
<rect x="1493.3" y="406.2" width="1.8" height="25.5" fill="#089981"/>
<rect x="1491.7" y="418.2" width="5" height="13.5" fill="#089981"/>
<rect x="1498.3" y="391.2" width="1.8" height="30" fill="#089981"/>
<rect x="1496.7" y="398.8" width="5" height="6.2" fill="#089981"/>
<rect x="1503.4" y="384.2" width="1.8" height="37" fill="#f23645"/>
<rect x="1501.8" y="384.2" width="5" height="32" fill="#f23645"/>
<rect x="1508.4" y="376.2" width="1.8" height="44.2" fill="#089981"/>
<rect x="1506.8" y="396.2" width="5" height="24.2" fill="#089981"/>
<rect x="1513.4" y="388.8" width="1.8" height="17.5" fill="#f23645"/>
<rect x="1511.8" y="400" width="5" height="2.5" fill="#f23645"/>
<rect x="1518.5" y="408.8" width="1.8" height="32.5" fill="#f23645"/>
<rect x="1516.9" y="408.8" width="5" height="20.8" fill="#f23645"/>
<rect x="1523.5" y="406.2" width="1.8" height="17.5" fill="#089981"/>
<rect x="1521.9" y="411.8" width="5" height="5.2" fill="#089981"/>
<rect x="1528.5" y="383.2" width="1.8" height="28" fill="#089981"/>
<rect x="1526.9" y="393.8" width="5" height="17.5" fill="#089981"/>
<rect x="1533.6" y="362" width="1.8" height="30.5" fill="#f23645"/>
<rect x="1532" y="369.5" width="5" height="5" fill="#f23645"/>
<rect x="1538.6" y="368" width="1.8" height="24.5" fill="#f23645"/>
<rect x="1537" y="372.5" width="5" height="16.2" fill="#f23645"/>
<rect x="1543.6" y="372" width="1.8" height="21" fill="#f23645"/>
<rect x="1542" y="379.5" width="5" height="13.5" fill="#f23645"/>
<rect x="1548.7" y="380" width="1.8" height="32.5" fill="#f23645"/>
<rect x="1547.1" y="380" width="5" height="25" fill="#f23645"/>
<rect x="1553.7" y="384.5" width="1.8" height="33" fill="#089981"/>
<rect x="1552.1" y="410.2" width="5" height="2" fill="#089981"/>
<rect x="1558.7" y="420.5" width="1.8" height="28.2" fill="#f23645"/>
<rect x="1557.1" y="424.2" width="5" height="19.5" fill="#f23645"/>
<rect x="1563.7" y="432.5" width="1.8" height="26.2" fill="#089981"/>
<rect x="1562.1" y="437" width="5" height="8" fill="#089981"/>
<rect x="1568.8" y="422.5" width="1.8" height="30.8" fill="#f23645"/>
<rect x="1567.2" y="430" width="5" height="23.2" fill="#f23645"/>
<rect x="1573.8" y="441.2" width="1.8" height="28.8" fill="#f23645"/>
<rect x="1572.2" y="442.5" width="5" height="20" fill="#f23645"/>
<rect x="1578.8" y="450" width="1.8" height="30" fill="#f23645"/>
<rect x="1577.2" y="462" width="5" height="8" fill="#f23645"/>
<rect x="1583.9" y="450" width="1.8" height="40.5" fill="#f23645"/>
<rect x="1582.3" y="471.2" width="5" height="15" fill="#f23645"/>
<rect x="1588.9" y="462.5" width="1.8" height="23.8" fill="#f23645"/>
<rect x="1587.3" y="478.8" width="5" height="7.5" fill="#f23645"/>
<rect x="1593.9" y="465" width="1.8" height="28.8" fill="#f23645"/>
<rect x="1592.3" y="483.2" width="5" height="10.5" fill="#f23645"/>
<rect x="1599" y="488.8" width="1.8" height="30" fill="#f23645"/>
<rect x="1597.4" y="488.8" width="5" height="25" fill="#f23645"/>
<rect x="1604" y="478.8" width="1.8" height="41.2" fill="#089981"/>
<rect x="1602.4" y="481.2" width="5" height="38.8" fill="#089981"/>
<rect x="1609" y="459.2" width="1.8" height="21.2" fill="#089981"/>
<rect x="1607.4" y="459.2" width="5" height="15.8" fill="#089981"/>
<rect x="1614.1" y="430" width="1.8" height="33.8" fill="#f23645"/>
<rect x="1612.5" y="449" width="5" height="2.5" fill="#f23645"/>
<rect x="1619.1" y="426.2" width="1.8" height="33.8" fill="#f23645"/>
<rect x="1617.5" y="440.8" width="5" height="11.8" fill="#f23645"/>
<rect x="1624.1" y="429.5" width="1.8" height="26.8" fill="#f23645"/>
<rect x="1622.5" y="441.8" width="5" height="2.2" fill="#f23645"/>
<rect x="1629.2" y="430.5" width="1.8" height="22" fill="#f23645"/>
<rect x="1627.6" y="430.5" width="5" height="8.2" fill="#f23645"/>
<rect x="1634.2" y="430.5" width="1.8" height="24.5" fill="#f23645"/>
<rect x="1632.6" y="441.2" width="5" height="11.8" fill="#f23645"/>
<rect x="1639.2" y="443.8" width="1.8" height="15" fill="#f23645"/>
<rect x="1637.6" y="451.2" width="5" height="3.2" fill="#f23645"/>
<rect x="1644.3" y="431.2" width="1.8" height="23.8" fill="#f23645"/>
<rect x="1642.7" y="443" width="5" height="4.5" fill="#f23645"/>
<rect x="1649.3" y="431.2" width="1.8" height="18.8" fill="#f23645"/>
<rect x="1647.7" y="443.2" width="5" height="4.2" fill="#f23645"/>
<rect x="1654.3" y="435" width="1.8" height="33.8" fill="#f23645"/>
<rect x="1652.7" y="443.2" width="5" height="25.5" fill="#f23645"/>
<rect x="1659.4" y="454.2" width="1.8" height="17.8" fill="#089981"/>
<rect x="1657.8" y="462.5" width="5" height="9.5" fill="#089981"/>
<rect x="1664.4" y="456.2" width="1.8" height="19.5" fill="#089981"/>
<rect x="1662.8" y="463.5" width="5" height="2" fill="#089981"/>
<rect x="1669.4" y="451.2" width="1.8" height="19.5" fill="#089981"/>
<rect x="1667.8" y="464.5" width="5" height="6.2" fill="#089981"/>
<rect x="1674.4" y="453.8" width="1.8" height="18.8" fill="#089981"/>
<rect x="1672.8" y="457" width="5" height="7.5" fill="#089981"/>
<rect x="1679.5" y="436.2" width="1.8" height="21.2" fill="#089981"/>
<rect x="1677.9" y="448.2" width="5" height="9.2" fill="#089981"/>
<rect x="1684.5" y="436.2" width="1.8" height="20" fill="#f23645"/>
<rect x="1682.9" y="449.2" width="5" height="7" fill="#f23645"/>
<rect x="1689.5" y="444.5" width="1.8" height="13.5" fill="#089981"/>
<rect x="1687.9" y="454.8" width="5" height="2.2" fill="#089981"/>
<rect x="1694.6" y="445.5" width="1.8" height="16.5" fill="#089981"/>
<rect x="1693" y="457" width="5" height="5" fill="#089981"/>
<rect x="1699.6" y="437" width="1.8" height="24.2" fill="#089981"/>
<rect x="1698" y="448.8" width="5" height="12.5" fill="#089981"/>
<rect x="1704.6" y="441.2" width="1.8" height="20" fill="#f23645"/>
<rect x="1703" y="448.8" width="5" height="6.8" fill="#f23645"/>
<rect x="1709.7" y="443.2" width="1.8" height="18.8" fill="#089981"/>
<rect x="1708.1" y="456.2" width="5" height="5.8" fill="#089981"/>
<rect x="1713.1" y="443.2" width="5" height="14.8" fill="#f23645"/>
<rect x="1719.7" y="446.8" width="1.8" height="22" fill="#f23645"/>
<rect x="1718.1" y="446.8" width="5" height="19.5" fill="#f23645"/>
<rect x="1724.8" y="450" width="1.8" height="20" fill="#f23645"/>
<rect x="1723.2" y="455" width="5" height="8.8" fill="#f23645"/>
<rect x="1729.8" y="432" width="1.8" height="26" fill="#089981"/>
<rect x="1728.2" y="438.8" width="5" height="19.2" fill="#089981"/>
<rect x="1734.8" y="433.2" width="1.8" height="24.2" fill="#f23645"/>
<rect x="1733.2" y="441.2" width="5" height="16.2" fill="#f23645"/>
<rect x="1739.9" y="462.5" width="1.8" height="40" fill="#f23645"/>
<rect x="1738.3" y="483" width="5" height="19.5" fill="#f23645"/>
<rect x="1744.9" y="484.5" width="1.8" height="33.8" fill="#089981"/>
<rect x="1743.3" y="505" width="5" height="13.2" fill="#089981"/>
<rect x="1749.9" y="480" width="1.8" height="30" fill="#089981"/>
<rect x="1748.3" y="485" width="5" height="20.5" fill="#089981"/>
<rect x="1755" y="463.8" width="1.8" height="36.2" fill="#f23645"/>
<rect x="1753.4" y="487.5" width="5" height="12.5" fill="#f23645"/>
<rect x="1760" y="493" width="1.8" height="34.5" fill="#f23645"/>
<rect x="1758.4" y="523.2" width="5" height="2" fill="#f23645"/>
<rect x="1765" y="485" width="1.8" height="50" fill="#089981"/>
<rect x="1763.4" y="520" width="5" height="4.2" fill="#089981"/>
<rect x="1770.1" y="482.5" width="1.8" height="36.2" fill="#089981"/>
<rect x="1768.5" y="495" width="5" height="6.2" fill="#089981"/>
<rect x="1775.1" y="479.5" width="1.8" height="28" fill="#089981"/>
<rect x="1773.5" y="502.5" width="5" height="5" fill="#089981"/>
<rect x="1780.1" y="495" width="1.8" height="42.5" fill="#f23645"/>
<rect x="1778.5" y="521.8" width="5" height="2.2" fill="#f23645"/>
<rect x="1785.2" y="496.2" width="1.8" height="27" fill="#089981"/>
<rect x="1783.6" y="514.5" width="5" height="8.8" fill="#089981"/>
<rect x="1788.6" y="503.8" width="5" height="5" fill="#f23645"/>
<rect x="1795.2" y="500" width="1.8" height="37.5" fill="#f23645"/>
<rect x="1793.6" y="500" width="5" height="28.8" fill="#f23645"/>
<rect x="1800.2" y="513" width="1.8" height="35.8" fill="#f23645"/>
<rect x="1798.6" y="528.8" width="5" height="20" fill="#f23645"/>
<rect x="1805.3" y="523.8" width="1.8" height="27" fill="#f23645"/>
<rect x="1803.7" y="542.5" width="5" height="3.8" fill="#f23645"/>
<rect x="1810.3" y="557.5" width="1.8" height="45.8" fill="#f23645"/>
<rect x="1808.7" y="562" width="5" height="41.2" fill="#f23645"/>
<rect x="1815.3" y="566.2" width="1.8" height="41.8" fill="#089981"/>
<rect x="1813.7" y="573.8" width="5" height="27" fill="#089981"/>
<rect x="1820.4" y="525" width="1.8" height="47.5" fill="#089981"/>
<rect x="1818.8" y="525" width="5" height="26.2" fill="#089981"/>
<rect x="1825.4" y="510" width="1.8" height="56.2" fill="#f23645"/>
<rect x="1823.8" y="525" width="5" height="27.5" fill="#f23645"/>
<rect x="1830.4" y="546.2" width="1.8" height="30" fill="#089981"/>
<rect x="1828.8" y="551.2" width="5" height="16.2" fill="#089981"/>
<rect x="1835.5" y="520" width="1.8" height="30" fill="#089981"/>
<rect x="1833.9" y="523.8" width="5" height="17.5" fill="#089981"/>
<rect x="1840.5" y="511.2" width="1.8" height="22.5" fill="#089981"/>
<rect x="1838.9" y="521.2" width="5" height="12.5" fill="#089981"/>
<rect x="1845.5" y="504.5" width="1.8" height="30.5" fill="#089981"/>
<rect x="1843.9" y="520" width="5" height="15" fill="#089981"/>
<rect x="1850.6" y="488.8" width="1.8" height="32.5" fill="#089981"/>
<rect x="1849" y="513.8" width="5" height="2.5" fill="#089981"/>
<rect x="1855.6" y="493.8" width="1.8" height="30.5" fill="#f23645"/>
<rect x="1854" y="518.5" width="5" height="2.2" fill="#f23645"/>
<rect x="1860.6" y="500" width="1.8" height="25" fill="#f23645"/>
<rect x="1859" y="518" width="5" height="7" fill="#f23645"/>
<rect x="1865.7" y="511.2" width="1.8" height="18.8" fill="#f23645"/>
<rect x="1864.1" y="512.5" width="5" height="15.5" fill="#f23645"/>
<rect x="1870.7" y="510" width="1.8" height="16.2" fill="#089981"/>
<rect x="1869.1" y="521" width="5" height="1.8" fill="#089981"/>
<rect x="1875.7" y="517.5" width="1.8" height="16.2" fill="#f23645"/>
<rect x="1874.1" y="523.8" width="5" height="7.5" fill="#f23645"/>
<rect x="1880.8" y="512" width="1.8" height="19.2" fill="#f23645"/>
<rect x="1879.2" y="517.5" width="5" height="6.2" fill="#f23645"/>
<rect x="1885.8" y="515.5" width="1.8" height="18.2" fill="#089981"/>
<rect x="1884.2" y="518" width="5" height="7" fill="#089981"/>
<rect x="1890.8" y="511.2" width="1.8" height="18.8" fill="#f23645"/>
<rect x="1889.2" y="518.8" width="5" height="11.2" fill="#f23645"/>
<rect x="1895.9" y="526.2" width="1.8" height="22.5" fill="#f23645"/>
<rect x="1894.3" y="535" width="5" height="5" fill="#f23645"/>
<rect x="1900.9" y="526.2" width="1.8" height="32.5" fill="#089981"/>
<rect x="1899.3" y="533.8" width="5" height="25" fill="#089981"/>
<rect x="1905.9" y="517.5" width="1.8" height="22.5" fill="#089981"/>
<rect x="1904.3" y="533.8" width="5" height="6.2" fill="#089981"/>
<rect x="1909.3" y="533.8" width="5" height="10" fill="#f23645"/>
<rect x="1914.4" y="531.2" width="5" height="12.5" fill="#089981"/>
<rect x="1921" y="476.2" width="1.8" height="53.8" fill="#089981"/>
<rect x="1919.4" y="489.5" width="5" height="40.5" fill="#089981"/>
<rect x="1926" y="465" width="1.8" height="26.2" fill="#089981"/>
<rect x="1924.4" y="485" width="5" height="2.5" fill="#089981"/>
<rect x="1931.1" y="470" width="1.8" height="24.5" fill="#089981"/>
<rect x="1929.5" y="482.5" width="5" height="3" fill="#089981"/>
<rect x="1936.1" y="450.5" width="1.8" height="32.5" fill="#f23645"/>
<rect x="1934.5" y="472.5" width="5" height="3.8" fill="#f23645"/>
<rect x="1941.1" y="452.5" width="1.8" height="30" fill="#089981"/>
<rect x="1939.5" y="462" width="5" height="7.5" fill="#089981"/>
<rect x="1946.2" y="443.8" width="1.8" height="21.2" fill="#f23645"/>
<rect x="1944.6" y="450.5" width="5" height="14.5" fill="#f23645"/>
<rect x="1951.2" y="450" width="1.8" height="22.5" fill="#f23645"/>
<rect x="1949.6" y="455" width="5" height="15.5" fill="#f23645"/>
<rect x="1956.2" y="456.2" width="1.8" height="28.2" fill="#f23645"/>
<rect x="1954.6" y="472" width="5" height="9.2" fill="#f23645"/>
<rect x="1961.3" y="472" width="1.8" height="16" fill="#f23645"/>
<rect x="1959.7" y="480" width="5" height="7.5" fill="#f23645"/>
<rect x="1966.3" y="476.2" width="1.8" height="20.8" fill="#f23645"/>
<rect x="1964.7" y="478.2" width="5" height="6.8" fill="#f23645"/>
<rect x="1971.3" y="429.2" width="1.8" height="38.2" fill="#089981"/>
<rect x="1969.7" y="429.2" width="5" height="30.8" fill="#089981"/>
<rect x="1976.4" y="403" width="1.8" height="39.5" fill="#f23645"/>
<rect x="1974.8" y="418" width="5" height="6.5" fill="#f23645"/>
<rect x="1979.8" y="423.8" width="5" height="15.8" fill="#f23645"/>
<rect x="1986.4" y="424.5" width="1.8" height="29.2" fill="#089981"/>
<rect x="1984.8" y="437.5" width="5" height="2.5" fill="#089981"/>
<rect x="1989.9" y="438.8" width="5" height="31.8" fill="#f23645"/>
<rect x="1996.5" y="450" width="1.8" height="20.5" fill="#089981"/>
<rect x="1994.9" y="458.8" width="5" height="11.8" fill="#089981"/>
<rect x="2001.5" y="428" width="1.8" height="34.5" fill="#089981"/>
<rect x="1999.9" y="445.5" width="5" height="7" fill="#089981"/>
<rect x="2006.6" y="437" width="1.8" height="21" fill="#f23645"/>
<rect x="2005" y="445.5" width="5" height="12.5" fill="#f23645"/>
<rect x="2011.6" y="452" width="1.8" height="13.8" fill="#f23645"/>
<rect x="2010" y="461.2" width="5" height="4.5" fill="#f23645"/>
<rect x="2016.6" y="455" width="1.8" height="22" fill="#f23645"/>
<rect x="2015" y="464.5" width="5" height="12.5" fill="#f23645"/>
<rect x="2021.7" y="465" width="1.8" height="13.8" fill="#f23645"/>
<rect x="2020.1" y="465" width="5" height="12.5" fill="#f23645"/>
<rect x="2026.7" y="448.8" width="1.8" height="38.2" fill="#089981"/>
<rect x="2025.1" y="461.2" width="5" height="11.8" fill="#089981"/>
<rect x="2031.7" y="448" width="1.8" height="18.2" fill="#f23645"/>
<rect x="2030.1" y="460" width="5" height="3.8" fill="#f23645"/>
<rect x="2036.7" y="457.5" width="1.8" height="9.5" fill="#f23645"/>
<rect x="2035.1" y="459.5" width="5" height="7.5" fill="#f23645"/>
<rect x="2040.2" y="468.8" width="5" height="5" fill="#089981"/>
<rect x="2046.8" y="451.2" width="1.8" height="22.5" fill="#089981"/>
<rect x="2045.2" y="469.5" width="5" height="3" fill="#089981"/>
<rect x="2051.8" y="465" width="1.8" height="8" fill="#089981"/>
<rect x="2050.2" y="467.5" width="5" height="5.5" fill="#089981"/>
<rect x="2056.9" y="452.5" width="1.8" height="22.5" fill="#089981"/>
<rect x="2055.3" y="461.2" width="5" height="12.5" fill="#089981"/>
<rect x="2061.9" y="455" width="1.8" height="19.5" fill="#f23645"/>
<rect x="2060.3" y="463.8" width="5" height="10.8" fill="#f23645"/>
<rect x="2066.9" y="468.8" width="1.8" height="12.5" fill="#f23645"/>
<rect x="2065.3" y="475" width="5" height="4.5" fill="#f23645"/>
<rect x="2072" y="465.5" width="1.8" height="18.2" fill="#089981"/>
<rect x="2070.4" y="478.8" width="5" height="3.8" fill="#089981"/>
<rect x="2075.4" y="467.5" width="5" height="42.5" fill="#f23645"/>
<rect x="2082" y="491.2" width="1.8" height="51.2" fill="#f23645"/>
<rect x="2080.4" y="507.5" width="5" height="11.2" fill="#f23645"/>
<rect x="2087.1" y="495" width="1.8" height="41.2" fill="#f23645"/>
<rect x="2085.5" y="515" width="5" height="15" fill="#f23645"/>
<rect x="2092.1" y="523.8" width="1.8" height="41.2" fill="#f23645"/>
<rect x="2090.5" y="537.5" width="5" height="17.5" fill="#f23645"/>
<rect x="2097.1" y="536.2" width="1.8" height="23.8" fill="#f23645"/>
<rect x="2095.5" y="550" width="5" height="5" fill="#f23645"/>
<rect x="2102.2" y="521.8" width="1.8" height="30.2" fill="#089981"/>
<rect x="2100.6" y="537" width="5" height="15" fill="#089981"/>
<rect x="2107.2" y="521.2" width="1.8" height="32.5" fill="#f23645"/>
<rect x="2105.6" y="536.2" width="5" height="7.5" fill="#f23645"/>
<rect x="2112.2" y="537.5" width="1.8" height="27.5" fill="#f23645"/>
<rect x="2110.6" y="547" width="5" height="18" fill="#f23645"/>
<rect x="2115.7" y="537.5" width="5" height="31.2" fill="#089981"/>
<rect x="2122.3" y="505" width="1.8" height="46.2" fill="#089981"/>
<rect x="2120.7" y="525" width="5" height="26.2" fill="#089981"/>
<rect x="2127.3" y="515" width="1.8" height="18.8" fill="#089981"/>
<rect x="2125.7" y="528.5" width="5" height="1.8" fill="#089981"/>
<rect x="2132.4" y="504.5" width="1.8" height="20.5" fill="#089981"/>
<rect x="2130.8" y="516.2" width="5" height="1.8" fill="#089981"/>
<rect x="2137.4" y="501.8" width="1.8" height="23.2" fill="#089981"/>
<rect x="2135.8" y="507.5" width="5" height="10" fill="#089981"/>
<rect x="2142.4" y="501.2" width="1.8" height="16.2" fill="#f23645"/>
<rect x="2140.8" y="511.2" width="5" height="6.2" fill="#f23645"/>
<rect x="2145.8" y="512.5" width="5" height="22.5" fill="#f23645"/>
<rect x="2152.5" y="516.2" width="1.8" height="25" fill="#089981"/>
<rect x="2150.9" y="538.8" width="5" height="1.8" fill="#089981"/>
<rect x="2157.5" y="531.2" width="1.8" height="27.5" fill="#f23645"/>
<rect x="2155.9" y="533.8" width="5" height="16.2" fill="#f23645"/>
<rect x="2160.9" y="527.5" width="5" height="26.2" fill="#f23645"/>
<rect x="2167.6" y="531.2" width="1.8" height="23.8" fill="#089981"/>
<rect x="2166" y="538.8" width="5" height="16.2" fill="#089981"/>
<rect x="2172.6" y="513.2" width="1.8" height="33.8" fill="#089981"/>
<rect x="2171" y="517" width="5" height="30" fill="#089981"/>
</g>
<line x1="-1" x2="2233" y1="518" y2="518" stroke="#089981" stroke-width="2" stroke-dasharray="2 4"/>
<polyline points="0,909.2 5,908.5 9.2,905.5 15,886 19.2,894 24.5,887.8 29.2,894.8 35,884 39.2,881 45,892.2 49.2,920.2 53.8,899.8 59.2,878.5 63.8,867.2 68.8,856.8 75,855.2 80.8,846.8 86.2,861.5 90.8,873.5 95,858 100.8,847.2 105,839 111.2,848.5 115,851.5 121.2,836.5 125.5,830.2 131.2,826 135.5,838.5 140.8,859.8 145,857.8 150.8,896 156.2,911 161.2,923.5 165,924 171.2,937.2 175,942.2 180.8,933.5 185.5,943.5 191.2,951.5 195,947.2 201.2,929.8 205.5,936 210,944.8 215,956 220.8,947.2 225,958 230.8,956 236.8,950.5 241.2,955.5 246.8,963.5 251.2,965.5 256.2,966.5 261.2,968.5 267,977.2 271.2,949.2 276.8,943 281.2,953 286.8,957.8 290.8,941.8 296.8,936 301.2,947.8 307,937.8 311.2,938 316.8,932.8 321.2,933 326.8,912.8 331.2,934.2 336.8,944.8 341.2,946.5 346.8,958.5 351.2,969.8 356.8,978 361.2,979 366.8,981.8 371.2,988.5 376.8,991 381.2,972.8 386.8,974 393,955.5 397,954.8 402.5,962.8 407,961.5 413,943 417,955.2 423,936 427,936.5 432.5,940.5 437,949.8 443,954 447,930.2 453,912.2 457,914.8 463,924 467.5,922.2 473,919.8 477,934.8 483,927.8 487.5,928.5 493,918.5 497,920.5 503,927.8 507.5,939.8 512.5,950.2 517,959 523,949.8 527.5,951 533,951.8 537,943 543,953.5 547.5,959 553,962.2 559.2,982.8 563,963.5 569.2,948.5 573.2,968.5 579.2,974.8 583.2,982.2 588.8,951 593,938.5 598.5,934.8 603,917.8 608.5,919 613,912.2 618.8,919.8 623,931 629.2,914 633,913 638.5,914.8 643,914.8 648.5,934.8 653,951.8 658.8,932.8 663,935.5 668.8,949 673,936.5 678.8,926.5 683,928.5 688.8,925.5 693,926.8 698.5,916 704.8,900.5 708.8,918.5 714.8,907.2 719.2,904 725,900.5 729.2,916 734.8,926 738.8,925.2 744.8,940.2 748.8,923 755,932.2 759.2,935.2 764.8,908.5 769.2,887.2 775,871.8 778.8,880.2 784.8,901 789.2,893.5 795,884.8 799.2,881.5 805,896.5 809.2,889.2 814.8,891 819.2,882.2 825,890.2 829.2,890.5 834.8,880.2 839.2,866.8 845,878.5 848.8,869.8 854.8,904 860.5,900.5 865,891 870.5,887.8 874.8,864.8 881,879.2 885,871.8 890.5,882.8 895,897.2 900.5,896 905,891 911,881.8 915,895.2 921,888.5 925,895.2 931,875.2 935,895.5 941,911 945,932.8 951,947.2 955,960.2 961,968 965,965.5 971,968 975,977.2 981,964.8 985,954.2 991,959 995,967.2 1001,948.5 1005,956.8 1011,958 1016.8,953.5 1021,931 1026.8,934.2 1031,927.2 1037.2,911 1041,922.2 1046.8,920.5 1051,907.2 1056.8,922.2 1061,929 1066.8,934.8 1071,937.2 1077.2,921 1081.2,928.5 1087.2,941 1091.2,941.5 1096.8,933.5 1101.2,922.8 1107.2,906.8 1111.2,916 1117.2,908.5 1121,910.2 1126.8,896.8 1131.2,885.5 1136.8,878.5 1141,874 1147.2,880.2 1151,860.5 1156.8,859.8 1161,843 1166.8,841.8 1172.5,834.2 1177.2,829.8 1182.2,855.2 1186,855.2 1192.8,850.2 1196.8,852.2 1202.8,838.5 1207.2,852.2 1213,845.2 1217.2,854.8 1223,853.5 1227.2,841 1233,839 1237.2,864.8 1243,866 1246.8,892.2 1253,913.5 1257.2,926 1262.2,942.2 1266.8,956 1272.8,944.8 1276.8,956.8 1283,944.8 1286.8,941.8 1292.8,921.5 1297.2,924 1303,924.2 1307.2,934.2 1313,938.5 1317.2,948 1323,933 1328.5,932.5 1332.8,941.5 1339,928 1343,927.8 1349,934 1353,952.2 1359,955.5 1363,971 1369,961.5 1373,958.5 1378.5,957.5 1383.5,961.8 1389,961.2 1393,944.2 1398.5,943.5 1403.5,934.8 1408,931 1413,927.2 1419,934 1423.5,932.8 1429,933.5 1433.5,929.8 1439,928.5 1443,918.5 1448.5,916.5 1453,924 1459.2,924 1463,951.5 1468.5,969.8 1473,982.8 1479,988 1484.8,998.5 1489,999.8 1495.2,991 1499,971 1504.8,979 1509,960.5 1514.8,963.5 1519,976.8 1524.2,962.2 1529,947.2 1534.8,931.8 1539,941 1544.8,943 1549,949.8 1554.8,954.2 1559,970.2 1564.8,966.5 1569,973 1574.8,976.8 1579,980.2 1584.8,986.8 1589,987.2 1594.8,990.5 1599,998 1604.8,968.5 1609,947.8 1614.8,941 1619,941.8 1624.8,936 1629,929.8 1635.2,940.5 1640.5,942.2 1644.8,934.2 1650.5,932.8 1654.8,950.5 1660.5,946.5 1664.8,947.8 1671,947.2 1675.5,937.2 1680.5,927.8 1685.2,936.5 1691,935 1695.2,939 1701,926.5 1705.5,933.5 1711,935.5 1715.2,936 1721,945.5 1725.2,941 1731,908.5 1736,938.5 1740.5,967.2 1745.2,969.2 1750.5,948 1756,961 1761,971.5 1764.8,968 1771,943.5 1775.2,947.8 1779,956 1781.5,961 1785.2,953.5 1791,946.8 1796.5,959 1801,970.2 1806.5,969 1811,991.8 1816.5,968.5 1821,934.8 1827,950.2 1831,946.8 1837,929.8 1841,928 1846.5,923.5 1851.5,922.8 1856.5,926 1861,931.8 1866.5,933.5 1871,928.5 1877,936.8 1881.5,930.2 1887,923.5 1891,933.5 1897,941 1901,934.8 1907,936.8 1911,943.5 1917,927.8 1921,897.2 1927,894.8 1932,891.5 1936.5,887.2 1941,878.5 1947,881 1952.8,889.2 1957,903 1963.2,910.5 1967,907.8 1972.8,868.5 1977,865.5 1982.8,882.2 1987,882.2 1992.8,915.5 1997.2,908 2003.2,899 2007.2,909.8 2012.8,916 2017.2,924.8 2022.8,926 2027,913.5 2032.8,914.8 2037.2,917.8 2042.8,921 2047.2,923 2053.2,924 2057,913 2063.2,927.8 2067.2,933.5 2072.8,935.2 2077,961 2082.8,963.5 2087,976.8 2093.2,991.8 2097,985.5 2102.8,965.2 2109,969.8 2112.8,980.2 2118.5,951.8 2122.8,940.5 2128.5,943 2133.5,931.8 2139,923 2142.8,926.5 2149,946.8 2153.2,949.8 2159,950.5 2163.2,960.2 2169,943 2173.2,923.5" fill="none" stroke="#7e57c2" stroke-width="1.8" stroke-linejoin="round"/>
<rect x="2233" y="0" width="136" height="1074" fill="#fff"/>
<rect x="0" y="803" width="2369" height="2" fill="#e0e3eb"/>
<rect x="2369" y="0" width="3" height="1074" fill="#e0e3eb"/>
<text x="2249.5" y="32.5" font-size="22.6" font-weight="normal" fill="#131722" text-anchor="start" stroke="#131722" stroke-width="0.35" font-family="Liberation Sans, sans-serif" >4,350</text>
<text x="2249.5" y="112" font-size="22.6" font-weight="normal" fill="#131722" text-anchor="start" stroke="#131722" stroke-width="0.35" font-family="Liberation Sans, sans-serif" >3,950</text>
<text x="2249.5" y="200.5" font-size="22.6" font-weight="normal" fill="#131722" text-anchor="start" stroke="#131722" stroke-width="0.35" font-family="Liberation Sans, sans-serif" >3,550</text>
<text x="2249.5" y="299.5" font-size="22.6" font-weight="normal" fill="#131722" text-anchor="start" stroke="#131722" stroke-width="0.35" font-family="Liberation Sans, sans-serif" >3,150</text>
<text x="2249.5" y="382.5" font-size="22.6" font-weight="normal" fill="#131722" text-anchor="start" stroke="#131722" stroke-width="0.35" font-family="Liberation Sans, sans-serif" >2,850</text>
<text x="2249.5" y="441.5" font-size="22.6" font-weight="normal" fill="#131722" text-anchor="start" stroke="#131722" stroke-width="0.35" font-family="Liberation Sans, sans-serif" >2,650</text>
<text x="2249.5" y="578.5" font-size="22.6" font-weight="normal" fill="#131722" text-anchor="start" stroke="#131722" stroke-width="0.35" font-family="Liberation Sans, sans-serif" >2,250</text>
<text x="2249.5" y="639.5" font-size="22.6" font-weight="normal" fill="#131722" text-anchor="start" stroke="#131722" stroke-width="0.35" font-family="Liberation Sans, sans-serif" >2,090</text>
<text x="2249.5" y="700.5" font-size="22.6" font-weight="normal" fill="#131722" text-anchor="start" stroke="#131722" stroke-width="0.35" font-family="Liberation Sans, sans-serif" >1,940</text>
<text x="2249.5" y="762.5" font-size="22.6" font-weight="normal" fill="#131722" text-anchor="start" stroke="#131722" stroke-width="0.35" font-family="Liberation Sans, sans-serif" >1,800</text>
<text x="2249.5" y="861.5" font-size="22.6" font-weight="normal" fill="#131722" text-anchor="start" stroke="#131722" stroke-width="0.35" font-family="Liberation Sans, sans-serif" >75.00</text>
<text x="2249.5" y="1003.5" font-size="22.6" font-weight="normal" fill="#131722" text-anchor="start" stroke="#131722" stroke-width="0.35" font-family="Liberation Sans, sans-serif" >25.00</text>
<path d="M2233 264H2311a4 4 0 0 1 4 4V293.5a4 4 0 0 1 -4 4H2233Z" fill="#00332c"/>
<text x="2249.5" y="287.7" font-size="22.6" font-weight="normal" fill="#fff" text-anchor="start" stroke="#fff" stroke-width="0.35" font-family="Liberation Sans, sans-serif" >3,200</text>
<path d="M2233 467H2355a4 4 0 0 1 4 4V496a4 4 0 0 1 -4 4H2233Z" fill="#2196f3"/>
<text x="2249.5" y="490.5" font-size="22.6" font-weight="normal" fill="#fff" text-anchor="start" stroke="#fff" stroke-width="0.35" font-family="Liberation Sans, sans-serif" >2,432.675</text>
<path d="M2233 501H2311a4 4 0 0 1 4 4V530a4 4 0 0 1 -4 4H2233Z" fill="#089981"/>
<text x="2249.5" y="524.5" font-size="22.6" font-weight="normal" fill="#fff" text-anchor="start" stroke="#fff" stroke-width="0.35" font-family="Liberation Sans, sans-serif" >2,401</text>
<path d="M2233 535H2343a4 4 0 0 1 4 4V564a4 4 0 0 1 -4 4H2233Z" fill="#f23645"/>
<text x="2249.5" y="558.5" font-size="22.6" font-weight="normal" fill="#fff" text-anchor="start" stroke="#fff" stroke-width="0.35" font-family="Liberation Sans, sans-serif" >2,359.05</text>
<path d="M2233 593.5H2311a4 4 0 0 1 4 4V622a4 4 0 0 1 -4 4H2233Z" fill="#00332c"/>
<text x="2249.5" y="616.7" font-size="22.6" font-weight="normal" fill="#fff" text-anchor="start" stroke="#fff" stroke-width="0.35" font-family="Liberation Sans, sans-serif" >2,150</text>
<path d="M2233 769H2343a4 4 0 0 1 4 4V799a4 4 0 0 1 -4 4H2233Z" fill="#9c27b0"/>
<text x="2249.5" y="793" font-size="22.6" font-weight="normal" fill="#fff" text-anchor="start" stroke="#fff" stroke-width="0.35" font-family="Liberation Sans, sans-serif" >21.158M</text>
<path d="M2233 907H2311a4 4 0 0 1 4 4V936.5a4 4 0 0 1 -4 4H2233Z" fill="#7e57c2"/>
<text x="2249.5" y="930.7" font-size="22.6" font-weight="normal" fill="#fff" text-anchor="start" stroke="#fff" stroke-width="0.35" font-family="Liberation Sans, sans-serif" >50.17</text>
<g id="taxis">
<text transform="translate(51,1057) scale(0.922,1)" font-size="24.4" fill="#131722" text-anchor="start" font-family="Liberation Sans, DejaVu Sans, sans-serif" direction="rtl" unicode-bidi="plaintext">فروردین</text>
<text transform="translate(205.8,1057) scale(0.922,1)" font-size="24.4" fill="#131722" text-anchor="middle" font-family="Liberation Sans, DejaVu Sans, sans-serif" direction="rtl" unicode-bidi="plaintext">خرداد</text>
<text transform="translate(381,1057) scale(0.922,1)" font-size="24.4" fill="#131722" text-anchor="middle" font-family="Liberation Sans, DejaVu Sans, sans-serif" direction="rtl" unicode-bidi="plaintext">مرداد</text>
<text transform="translate(572.5,1057) scale(0.922,1)" font-size="24.4" fill="#131722" text-anchor="middle" font-family="Liberation Sans, DejaVu Sans, sans-serif" direction="rtl" unicode-bidi="plaintext">مهر</text>
<text x="860" y="1056.5" font-size="24" font-weight="bold" fill="#131722" text-anchor="middle" font-family="Liberation Sans, DejaVu Sans, sans-serif">1401</text>
<text transform="translate(1055.8,1057) scale(0.922,1)" font-size="24.4" fill="#131722" text-anchor="middle" font-family="Liberation Sans, DejaVu Sans, sans-serif" direction="rtl" unicode-bidi="plaintext">اسفند</text>
<text transform="translate(1227.5,1057) scale(0.922,1)" font-size="24.4" fill="#131722" text-anchor="middle" font-family="Liberation Sans, DejaVu Sans, sans-serif" direction="rtl" unicode-bidi="plaintext">اردیبهشت</text>
<text transform="translate(1428.5,1057) scale(0.922,1)" font-size="24.4" fill="#131722" text-anchor="middle" font-family="Liberation Sans, DejaVu Sans, sans-serif" direction="rtl" unicode-bidi="plaintext">تیر</text>
<text transform="translate(1633.5,1057) scale(0.922,1)" font-size="24.4" fill="#131722" text-anchor="middle" font-family="Liberation Sans, DejaVu Sans, sans-serif" direction="rtl" unicode-bidi="plaintext">شهریور</text>
<text transform="translate(1832,1057) scale(0.922,1)" font-size="24.4" fill="#131722" text-anchor="middle" font-family="Liberation Sans, DejaVu Sans, sans-serif" direction="rtl" unicode-bidi="plaintext">آبان</text>
<text x="2013" y="1056.5" font-size="24" font-weight="bold" fill="#131722" text-anchor="middle" font-family="Liberation Sans, DejaVu Sans, sans-serif">1402</text>
<svg x="0" y="1020" width="2233" height="54" viewBox="0 1020 2233 54" overflow="hidden"><text transform="translate(2213,1057) scale(0.922,1)" font-size="24.4" fill="#131722" text-anchor="middle" font-family="Liberation Sans, DejaVu Sans, sans-serif" direction="rtl" unicode-bidi="plaintext">اسفند</text></svg>
</g>
<polygon points="2314,1047.9 2307,1060 2293,1060 2286,1047.9 2293,1035.8 2307,1035.8" fill="none" stroke="#131722" stroke-width="2" stroke-linejoin="round"/>
<circle cx="2300" cy="1047.9" r="4" fill="none" stroke="#131722" stroke-width="1.8"/>
<text transform="translate(2079.5,186) scale(0.937,1)" font-size="28.1" fill="#00332c" text-anchor="start" font-family="Liberation Sans, DejaVu Sans, sans-serif" direction="rtl" unicode-bidi="plaintext">انجمن خبرگان سرمایه گذاری ایران</text>
<text transform="translate(2081,213.5) scale(1.081,1)" font-size="26.1" fill="#00332c" text-anchor="end" font-family="Liberation Sans, DejaVu Sans, sans-serif">Amoozesh-boors.com</text>
</svg>
</body></html>
